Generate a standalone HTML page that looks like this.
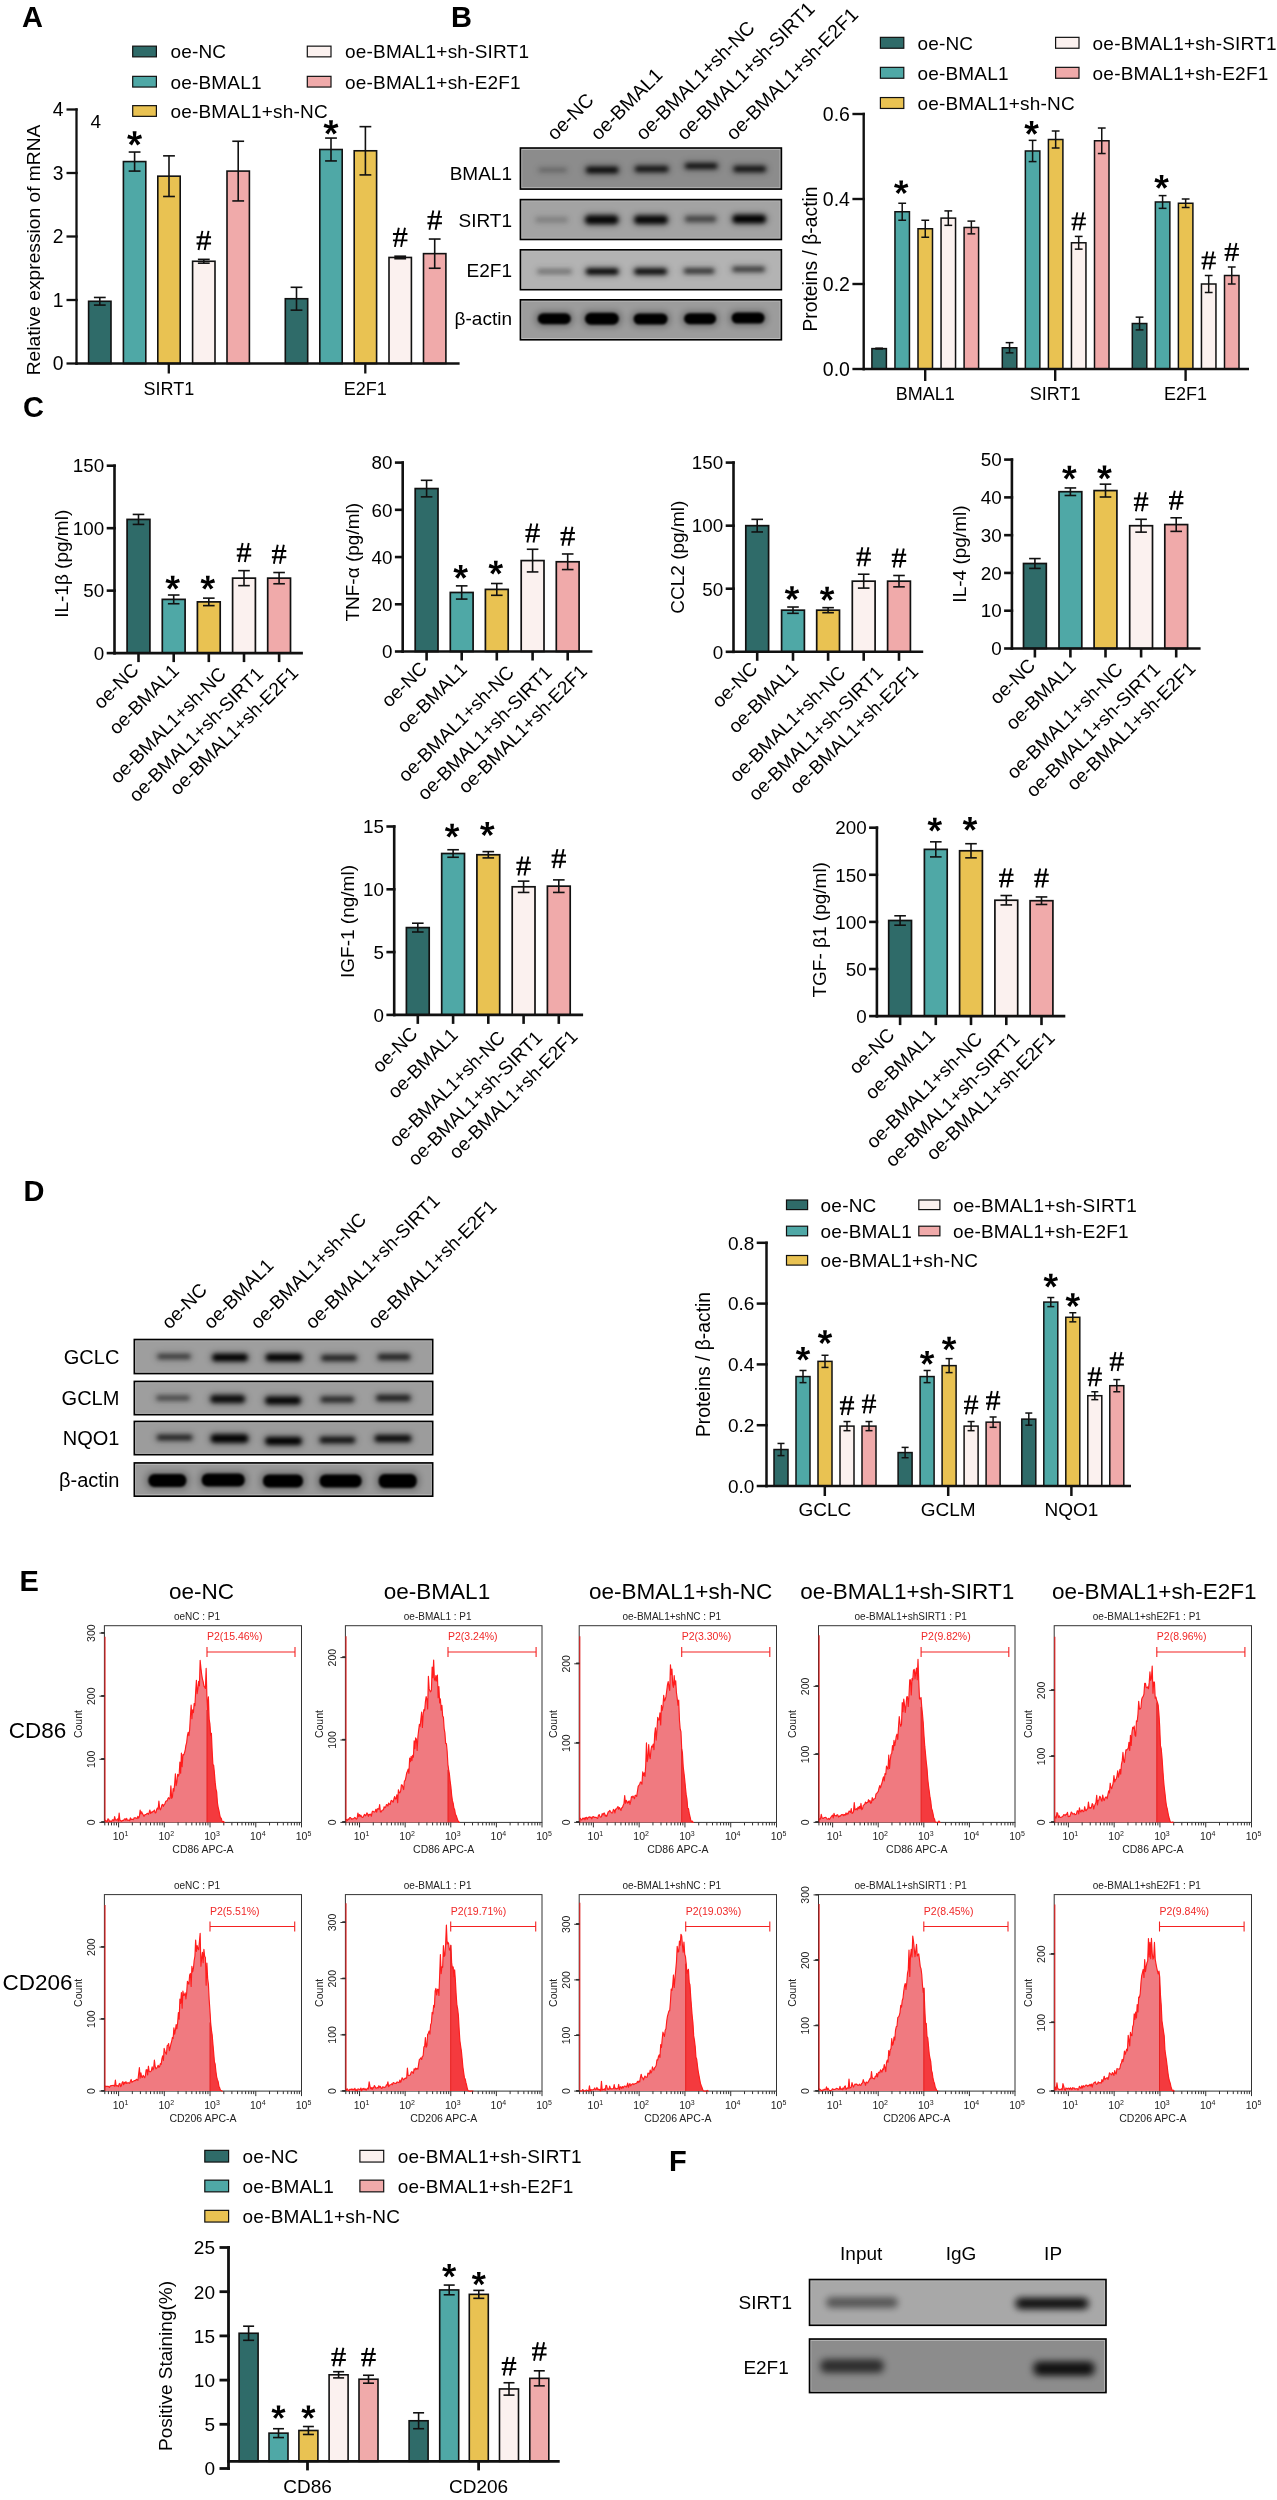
<!DOCTYPE html>
<html><head><meta charset="utf-8"><title>Figure</title>
<style>
html,body{margin:0;padding:0;background:#fff;}
svg{display:block;will-change:transform;}
svg text{font-family:"Liberation Sans", sans-serif;}
</style></head><body>
<svg width="1277" height="2500" viewBox="0 0 1277 2500">
<defs>
<filter id="b1" x="-30%" y="-80%" width="160%" height="260%"><feGaussianBlur stdDeviation="1.2"/></filter>
<filter id="b2" x="-30%" y="-80%" width="160%" height="260%"><feGaussianBlur stdDeviation="2"/></filter>
<filter id="b3" x="-30%" y="-80%" width="160%" height="260%"><feGaussianBlur stdDeviation="3"/></filter>
</defs>
<rect x="0" y="0" width="1277" height="2500" fill="#fff"/>
<text x="22" y="27" font-size="29" font-weight="bold">A</text>
<rect x="132.7" y="46.15" width="23.7" height="10.7" fill="#2f6b69" stroke="#111" stroke-width="1.2"/>
<text x="170.4" y="58.34" font-size="19" letter-spacing="0.2">oe-NC</text>
<rect x="132.7" y="76.35" width="23.7" height="10.7" fill="#4fa8a6" stroke="#111" stroke-width="1.2"/>
<text x="170.4" y="88.54" font-size="19" letter-spacing="0.2">oe-BMAL1</text>
<rect x="132.7" y="105.65" width="23.7" height="10.7" fill="#e9c252" stroke="#111" stroke-width="1.2"/>
<text x="170.4" y="117.84" font-size="19" letter-spacing="0.2">oe-BMAL1+sh-NC</text>
<rect x="307.3" y="46.15" width="23.7" height="10.7" fill="#fbf1ef" stroke="#111" stroke-width="1.2"/>
<text x="345" y="58.34" font-size="19" letter-spacing="0.2">oe-BMAL1+sh-SIRT1</text>
<rect x="307.3" y="76.35" width="23.7" height="10.7" fill="#f0aaaa" stroke="#111" stroke-width="1.2"/>
<text x="345" y="88.54" font-size="19" letter-spacing="0.2">oe-BMAL1+sh-E2F1</text>
<text x="90.5" y="127.5" font-size="19">4</text>
<rect x="88.6" y="301.27" width="22.4" height="62.23" fill="#2f6b69" stroke="#111" stroke-width="1.6"/>
<line x1="99.8" y1="297.46" x2="99.8" y2="305.08" stroke="#111" stroke-width="1.6"/>
<line x1="93.9" y1="297.46" x2="105.7" y2="297.46" stroke="#111" stroke-width="1.6"/>
<line x1="93.9" y1="305.08" x2="105.7" y2="305.08" stroke="#111" stroke-width="1.6"/>
<rect x="123.4" y="161.57" width="22.4" height="201.93" fill="#4fa8a6" stroke="#111" stroke-width="1.6"/>
<line x1="134.6" y1="152.04" x2="134.6" y2="171.09" stroke="#111" stroke-width="1.6"/>
<line x1="128.7" y1="152.04" x2="140.5" y2="152.04" stroke="#111" stroke-width="1.6"/>
<line x1="128.7" y1="171.09" x2="140.5" y2="171.09" stroke="#111" stroke-width="1.6"/>
<path d="M135.82 138.54L136.54 131.34L132.66 131.34L133.38 138.54ZM134.98 139.71L142.05 138.17L140.85 134.47L134.22 137.38ZM133.61 139.26L137.26 145.51L140.4 143.23L135.59 137.83ZM133.61 137.83L128.8 143.23L131.94 145.51L135.59 139.26ZM134.98 137.38L128.35 134.47L127.15 138.17L134.22 139.71Z" fill="#000"/>
<circle cx="134.6" cy="138.54" r="1.73" fill="#000"/>
<rect x="157.8" y="176.17" width="22.4" height="187.33" fill="#e9c252" stroke="#111" stroke-width="1.6"/>
<line x1="169" y1="155.85" x2="169" y2="196.49" stroke="#111" stroke-width="1.6"/>
<line x1="163.1" y1="155.85" x2="174.9" y2="155.85" stroke="#111" stroke-width="1.6"/>
<line x1="163.1" y1="196.49" x2="174.9" y2="196.49" stroke="#111" stroke-width="1.6"/>
<rect x="192.6" y="261.26" width="22.4" height="102.24" fill="#fbf1ef" stroke="#111" stroke-width="1.6"/>
<line x1="203.8" y1="259.36" x2="203.8" y2="263.17" stroke="#111" stroke-width="1.6"/>
<line x1="197.9" y1="259.36" x2="209.7" y2="259.36" stroke="#111" stroke-width="1.6"/>
<line x1="197.9" y1="263.17" x2="209.7" y2="263.17" stroke="#111" stroke-width="1.6"/>
<path d="M202.42 230.86L198.51 250.06M208.58 230.86L204.67 250.06M196.55 237.2L211.05 237.2M196.55 243.53L211.05 243.53" stroke="#000" stroke-width="1.9" fill="none"/>
<rect x="227" y="171.09" width="22.4" height="192.41" fill="#f0aaaa" stroke="#111" stroke-width="1.6"/>
<line x1="238.2" y1="141.25" x2="238.2" y2="200.94" stroke="#111" stroke-width="1.6"/>
<line x1="232.3" y1="141.25" x2="244.1" y2="141.25" stroke="#111" stroke-width="1.6"/>
<line x1="232.3" y1="200.94" x2="244.1" y2="200.94" stroke="#111" stroke-width="1.6"/>
<rect x="285.3" y="298.73" width="22.4" height="64.77" fill="#2f6b69" stroke="#111" stroke-width="1.6"/>
<line x1="296.5" y1="287.3" x2="296.5" y2="310.16" stroke="#111" stroke-width="1.6"/>
<line x1="290.6" y1="287.3" x2="302.4" y2="287.3" stroke="#111" stroke-width="1.6"/>
<line x1="290.6" y1="310.16" x2="302.4" y2="310.16" stroke="#111" stroke-width="1.6"/>
<rect x="319.8" y="149.5" width="22.4" height="214" fill="#4fa8a6" stroke="#111" stroke-width="1.6"/>
<line x1="331" y1="138.07" x2="331" y2="160.94" stroke="#111" stroke-width="1.6"/>
<line x1="325.1" y1="138.07" x2="336.9" y2="138.07" stroke="#111" stroke-width="1.6"/>
<line x1="325.1" y1="160.94" x2="336.9" y2="160.94" stroke="#111" stroke-width="1.6"/>
<path d="M332.22 127.47L332.94 120.27L329.06 120.27L329.78 127.47ZM331.38 128.64L338.45 127.1L337.25 123.4L330.62 126.31ZM330.01 128.19L333.66 134.44L336.8 132.16L331.99 126.76ZM330.01 126.76L325.2 132.16L328.34 134.44L331.99 128.19ZM331.38 126.31L324.75 123.4L323.55 127.1L330.62 128.64Z" fill="#000"/>
<circle cx="331" cy="127.47" r="1.73" fill="#000"/>
<rect x="354.2" y="150.78" width="22.4" height="212.72" fill="#e9c252" stroke="#111" stroke-width="1.6"/>
<line x1="365.4" y1="126.65" x2="365.4" y2="174.91" stroke="#111" stroke-width="1.6"/>
<line x1="359.5" y1="126.65" x2="371.3" y2="126.65" stroke="#111" stroke-width="1.6"/>
<line x1="359.5" y1="174.91" x2="371.3" y2="174.91" stroke="#111" stroke-width="1.6"/>
<rect x="389" y="257.45" width="22.4" height="106.05" fill="#fbf1ef" stroke="#111" stroke-width="1.6"/>
<line x1="400.2" y1="256.19" x2="400.2" y2="258.73" stroke="#111" stroke-width="1.6"/>
<line x1="394.3" y1="256.19" x2="406.1" y2="256.19" stroke="#111" stroke-width="1.6"/>
<line x1="394.3" y1="258.73" x2="406.1" y2="258.73" stroke="#111" stroke-width="1.6"/>
<path d="M398.82 227.69L394.91 246.88M404.99 227.69L401.07 246.88M392.95 234.02L407.45 234.02M392.95 240.36L407.45 240.36" stroke="#000" stroke-width="1.9" fill="none"/>
<rect x="423.5" y="253.64" width="22.4" height="109.86" fill="#f0aaaa" stroke="#111" stroke-width="1.6"/>
<line x1="434.7" y1="239.04" x2="434.7" y2="268.25" stroke="#111" stroke-width="1.6"/>
<line x1="428.8" y1="239.04" x2="440.6" y2="239.04" stroke="#111" stroke-width="1.6"/>
<line x1="428.8" y1="268.25" x2="440.6" y2="268.25" stroke="#111" stroke-width="1.6"/>
<path d="M433.32 210.54L429.41 229.74M439.49 210.54L435.57 229.74M427.45 216.88L441.95 216.88M427.45 223.21L441.95 223.21" stroke="#000" stroke-width="1.9" fill="none"/>
<line x1="76.5" y1="108.35" x2="76.5" y2="364.65" stroke="#111" stroke-width="2.3"/>
<line x1="66.5" y1="363.5" x2="77.65" y2="363.5" stroke="#111" stroke-width="2.3"/>
<text x="63.5" y="370.45" font-size="19.3" text-anchor="end">0</text>
<line x1="66.5" y1="300" x2="77.65" y2="300" stroke="#111" stroke-width="2.3"/>
<text x="63.5" y="306.95" font-size="19.3" text-anchor="end">1</text>
<line x1="66.5" y1="236.5" x2="77.65" y2="236.5" stroke="#111" stroke-width="2.3"/>
<text x="63.5" y="243.45" font-size="19.3" text-anchor="end">2</text>
<line x1="66.5" y1="173" x2="77.65" y2="173" stroke="#111" stroke-width="2.3"/>
<text x="63.5" y="179.95" font-size="19.3" text-anchor="end">3</text>
<line x1="66.5" y1="109.5" x2="77.65" y2="109.5" stroke="#111" stroke-width="2.3"/>
<text x="63.5" y="116.45" font-size="19.3" text-anchor="end">4</text>
<line x1="75.35" y1="363.5" x2="459.6" y2="363.5" stroke="#111" stroke-width="2.3"/>
<line x1="168.8" y1="363.5" x2="168.8" y2="373.5" stroke="#111" stroke-width="2.3"/>
<line x1="365.3" y1="363.5" x2="365.3" y2="373.5" stroke="#111" stroke-width="2.3"/>
<text x="168.8" y="394.6" font-size="18" text-anchor="middle">SIRT1</text>
<text x="365.3" y="394.6" font-size="18" text-anchor="middle">E2F1</text>
<text x="40" y="250" font-size="19.2" transform="rotate(-90 40 250)" text-anchor="middle">Relative expression of mRNA</text>
<text x="451" y="26.6" font-size="29" font-weight="bold">B</text>
<text x="555" y="141.2" font-size="19.5" transform="rotate(-45 555 141.2)">oe-NC</text>
<text x="598.6" y="141.2" font-size="19.5" transform="rotate(-45 598.6 141.2)">oe-BMAL1</text>
<text x="643.8" y="141.2" font-size="19.5" transform="rotate(-45 643.8 141.2)">oe-BMAL1+sh-NC</text>
<text x="684.7" y="141.2" font-size="19.5" transform="rotate(-45 684.7 141.2)">oe-BMAL1+sh-SIRT1</text>
<text x="734" y="141.2" font-size="19.5" transform="rotate(-45 734 141.2)">oe-BMAL1+sh-E2F1</text>
<text x="512" y="179.85" font-size="19" text-anchor="end">BMAL1</text>
<clipPath id="cl1"><rect x="520.4" y="148" width="261" height="41.1"/></clipPath>
<g clip-path="url(#cl1)">
<rect x="520.4" y="148" width="261" height="41.1" fill="#8c8c8c"/>
<rect x="535.7" y="165.6" width="34" height="9" rx="4.5" fill="#000" opacity="0.06" filter="url(#b3)"/>
<rect x="583.2" y="164.6" width="38" height="11" rx="5.5" fill="#000" opacity="0.25" filter="url(#b3)"/>
<rect x="632.2" y="163.75" width="39" height="10.5" rx="5.25" fill="#000" opacity="0.24" filter="url(#b3)"/>
<rect x="682.2" y="161" width="38" height="10" rx="5" fill="#000" opacity="0.25" filter="url(#b3)"/>
<rect x="730.7" y="163.75" width="38" height="10.5" rx="5.25" fill="#000" opacity="0.24" filter="url(#b3)"/>
<rect x="538.7" y="168.1" width="28" height="4" rx="2" fill="#000" opacity="0.22" filter="url(#b2)"/>
<rect x="586.2" y="167.1" width="32" height="6" rx="3" fill="#000" opacity="0.9" filter="url(#b2)"/>
<rect x="635.2" y="166.25" width="33" height="5.5" rx="2.75" fill="#000" opacity="0.85" filter="url(#b2)"/>
<rect x="685.2" y="163.5" width="32" height="5" rx="2.5" fill="#000" opacity="0.9" filter="url(#b2)"/>
<rect x="733.7" y="166.25" width="32" height="5.5" rx="2.75" fill="#000" opacity="0.85" filter="url(#b2)"/>
</g>
<rect x="521.7" y="149.3" width="258.4" height="38.5" fill="none" stroke="#bdbdbd" stroke-width="0.9"/>
<rect x="520.4" y="148" width="261" height="41.1" fill="none" stroke="#000" stroke-width="1.6"/>
<text x="512" y="226.85" font-size="19" text-anchor="end">SIRT1</text>
<clipPath id="cl2"><rect x="520.4" y="199.6" width="261" height="39.9"/></clipPath>
<g clip-path="url(#cl2)">
<rect x="520.4" y="199.6" width="261" height="39.9" fill="#a3a3a3"/>
<rect x="532.6" y="214.7" width="38" height="10" rx="5" fill="#000" opacity="0.05" filter="url(#b3)"/>
<rect x="582.2" y="212.95" width="39" height="13.5" rx="6.75" fill="#000" opacity="0.27" filter="url(#b3)"/>
<rect x="631.5" y="213.2" width="39" height="13" rx="6.5" fill="#000" opacity="0.27" filter="url(#b3)"/>
<rect x="682.1" y="213.5" width="37" height="11" rx="5.5" fill="#000" opacity="0.14" filter="url(#b3)"/>
<rect x="729.7" y="212.5" width="39" height="13" rx="6.5" fill="#000" opacity="0.28" filter="url(#b3)"/>
<rect x="535.6" y="217.2" width="32" height="5" rx="2.5" fill="#000" opacity="0.17" filter="url(#b2)"/>
<rect x="585.2" y="215.45" width="33" height="8.5" rx="4.25" fill="#000" opacity="0.95" filter="url(#b2)"/>
<rect x="634.5" y="215.7" width="33" height="8" rx="4" fill="#000" opacity="0.95" filter="url(#b2)"/>
<rect x="685.1" y="216" width="31" height="6" rx="3" fill="#000" opacity="0.5" filter="url(#b2)"/>
<rect x="732.7" y="215" width="33" height="8" rx="4" fill="#000" opacity="1" filter="url(#b2)"/>
</g>
<rect x="521.7" y="200.9" width="258.4" height="37.3" fill="none" stroke="#bdbdbd" stroke-width="0.9"/>
<rect x="520.4" y="199.6" width="261" height="39.9" fill="none" stroke="#000" stroke-width="1.6"/>
<text x="512" y="276.55" font-size="19" text-anchor="end">E2F1</text>
<clipPath id="cl3"><rect x="520.4" y="249.8" width="261" height="39.9"/></clipPath>
<g clip-path="url(#cl3)">
<rect x="520.4" y="249.8" width="261" height="39.9" fill="#b3b3b3"/>
<rect x="534.5" y="266.9" width="40" height="9" rx="4.5" fill="#000" opacity="0.09" filter="url(#b3)"/>
<rect x="583.2" y="266.15" width="38" height="10.5" rx="5.25" fill="#000" opacity="0.28" filter="url(#b3)"/>
<rect x="631.6" y="266.15" width="38" height="10.5" rx="5.25" fill="#000" opacity="0.27" filter="url(#b3)"/>
<rect x="681.1" y="266.25" width="36" height="9.5" rx="4.75" fill="#000" opacity="0.2" filter="url(#b3)"/>
<rect x="729.6" y="264.45" width="38" height="9.5" rx="4.75" fill="#000" opacity="0.18" filter="url(#b3)"/>
<rect x="537.5" y="269.4" width="34" height="4" rx="2" fill="#000" opacity="0.32" filter="url(#b2)"/>
<rect x="586.2" y="268.65" width="32" height="5.5" rx="2.75" fill="#000" opacity="1" filter="url(#b2)"/>
<rect x="634.6" y="268.65" width="32" height="5.5" rx="2.75" fill="#000" opacity="0.95" filter="url(#b2)"/>
<rect x="684.1" y="268.75" width="30" height="4.5" rx="2.25" fill="#000" opacity="0.7" filter="url(#b2)"/>
<rect x="732.6" y="266.95" width="32" height="4.5" rx="2.25" fill="#000" opacity="0.65" filter="url(#b2)"/>
</g>
<rect x="521.7" y="251.1" width="258.4" height="37.3" fill="none" stroke="#bdbdbd" stroke-width="0.9"/>
<rect x="520.4" y="249.8" width="261" height="39.9" fill="none" stroke="#000" stroke-width="1.6"/>
<text x="512" y="325.1" font-size="19" text-anchor="end">β-actin</text>
<clipPath id="cl4"><rect x="520.4" y="299.8" width="261" height="40"/></clipPath>
<g clip-path="url(#cl4)">
<rect x="520.4" y="299.8" width="261" height="40" fill="#9c9c9c"/>
<rect x="534.8" y="310.7" width="39" height="16" rx="7" fill="#000" opacity="0.28" filter="url(#b3)"/>
<rect x="581.9" y="310.2" width="40" height="17" rx="7" fill="#000" opacity="0.28" filter="url(#b3)"/>
<rect x="630.6" y="311" width="40" height="16" rx="7" fill="#000" opacity="0.28" filter="url(#b3)"/>
<rect x="681.1" y="310.7" width="38" height="16" rx="7" fill="#000" opacity="0.28" filter="url(#b3)"/>
<rect x="728.6" y="310" width="39" height="16" rx="7" fill="#000" opacity="0.28" filter="url(#b3)"/>
<rect x="537.8" y="313.2" width="33" height="11" rx="5.5" fill="#000" opacity="1" filter="url(#b1)"/>
<rect x="584.9" y="312.7" width="34" height="12" rx="6" fill="#000" opacity="1" filter="url(#b1)"/>
<rect x="633.6" y="313.5" width="34" height="11" rx="5.5" fill="#000" opacity="1" filter="url(#b1)"/>
<rect x="684.1" y="313.2" width="32" height="11" rx="5.5" fill="#000" opacity="1" filter="url(#b1)"/>
<rect x="731.6" y="312.5" width="33" height="11" rx="5.5" fill="#000" opacity="1" filter="url(#b1)"/>
</g>
<rect x="521.7" y="301.1" width="258.4" height="37.4" fill="none" stroke="#bdbdbd" stroke-width="0.9"/>
<rect x="520.4" y="299.8" width="261" height="40" fill="none" stroke="#000" stroke-width="1.6"/>
<rect x="880.4" y="37.35" width="23.4" height="10.9" fill="#2f6b69" stroke="#111" stroke-width="1.2"/>
<text x="917.4" y="49.64" font-size="19" letter-spacing="0.2">oe-NC</text>
<rect x="880.4" y="67.35" width="23.4" height="10.9" fill="#4fa8a6" stroke="#111" stroke-width="1.2"/>
<text x="917.4" y="79.64" font-size="19" letter-spacing="0.2">oe-BMAL1</text>
<rect x="880.4" y="97.55" width="23.4" height="10.9" fill="#e9c252" stroke="#111" stroke-width="1.2"/>
<text x="917.4" y="109.84" font-size="19" letter-spacing="0.2">oe-BMAL1+sh-NC</text>
<rect x="1055.6" y="37.35" width="23.4" height="10.9" fill="#fbf1ef" stroke="#111" stroke-width="1.2"/>
<text x="1092.6" y="49.64" font-size="19" letter-spacing="0.2">oe-BMAL1+sh-SIRT1</text>
<rect x="1055.6" y="67.35" width="23.4" height="10.9" fill="#f0aaaa" stroke="#111" stroke-width="1.2"/>
<text x="1092.6" y="79.64" font-size="19" letter-spacing="0.2">oe-BMAL1+sh-E2F1</text>
<rect x="871.9" y="348.6" width="14.5" height="20.4" fill="#2f6b69" stroke="#111" stroke-width="1.5"/>
<line x1="879.15" y1="348.18" x2="879.15" y2="349.02" stroke="#111" stroke-width="1.5"/>
<line x1="875.25" y1="348.18" x2="883.05" y2="348.18" stroke="#111" stroke-width="1.5"/>
<line x1="875.25" y1="349.02" x2="883.05" y2="349.02" stroke="#111" stroke-width="1.5"/>
<rect x="894.95" y="211.75" width="14.5" height="157.25" fill="#4fa8a6" stroke="#111" stroke-width="1.5"/>
<line x1="902.2" y1="203.25" x2="902.2" y2="220.25" stroke="#111" stroke-width="1.5"/>
<line x1="898.3" y1="203.25" x2="906.1" y2="203.25" stroke="#111" stroke-width="1.5"/>
<line x1="898.3" y1="220.25" x2="906.1" y2="220.25" stroke="#111" stroke-width="1.5"/>
<path d="M902.38 187.35L903.08 180.4L899.32 180.4L900.02 187.35ZM901.57 188.47L908.39 186.99L907.23 183.42L900.83 186.23ZM900.24 188.04L903.77 194.08L906.8 191.87L902.16 186.66ZM900.24 186.66L895.6 191.87L898.63 194.08L902.16 188.04ZM901.57 186.23L895.17 183.42L894.01 186.99L900.83 188.47Z" fill="#000"/>
<circle cx="901.2" cy="187.35" r="1.67" fill="#000"/>
<rect x="918" y="228.75" width="14.5" height="140.25" fill="#e9c252" stroke="#111" stroke-width="1.5"/>
<line x1="925.25" y1="220.25" x2="925.25" y2="237.25" stroke="#111" stroke-width="1.5"/>
<line x1="921.35" y1="220.25" x2="929.15" y2="220.25" stroke="#111" stroke-width="1.5"/>
<line x1="921.35" y1="237.25" x2="929.15" y2="237.25" stroke="#111" stroke-width="1.5"/>
<rect x="941.05" y="218.12" width="14.5" height="150.88" fill="#fbf1ef" stroke="#111" stroke-width="1.5"/>
<line x1="948.3" y1="210.9" x2="948.3" y2="225.35" stroke="#111" stroke-width="1.5"/>
<line x1="944.4" y1="210.9" x2="952.2" y2="210.9" stroke="#111" stroke-width="1.5"/>
<line x1="944.4" y1="225.35" x2="952.2" y2="225.35" stroke="#111" stroke-width="1.5"/>
<rect x="964.1" y="227.47" width="14.5" height="141.53" fill="#f0aaaa" stroke="#111" stroke-width="1.5"/>
<line x1="971.35" y1="221.1" x2="971.35" y2="233.85" stroke="#111" stroke-width="1.5"/>
<line x1="967.45" y1="221.1" x2="975.25" y2="221.1" stroke="#111" stroke-width="1.5"/>
<line x1="967.45" y1="233.85" x2="975.25" y2="233.85" stroke="#111" stroke-width="1.5"/>
<rect x="1002.3" y="347.75" width="14.5" height="21.25" fill="#2f6b69" stroke="#111" stroke-width="1.5"/>
<line x1="1009.55" y1="342.65" x2="1009.55" y2="352.85" stroke="#111" stroke-width="1.5"/>
<line x1="1005.65" y1="342.65" x2="1013.45" y2="342.65" stroke="#111" stroke-width="1.5"/>
<line x1="1005.65" y1="352.85" x2="1013.45" y2="352.85" stroke="#111" stroke-width="1.5"/>
<rect x="1025.35" y="150.97" width="14.5" height="218.03" fill="#4fa8a6" stroke="#111" stroke-width="1.5"/>
<line x1="1032.6" y1="140.35" x2="1032.6" y2="161.6" stroke="#111" stroke-width="1.5"/>
<line x1="1028.7" y1="140.35" x2="1036.5" y2="140.35" stroke="#111" stroke-width="1.5"/>
<line x1="1028.7" y1="161.6" x2="1036.5" y2="161.6" stroke="#111" stroke-width="1.5"/>
<path d="M1032.78 128.05L1033.48 121.1L1029.72 121.1L1030.42 128.05ZM1031.97 129.17L1038.79 127.69L1037.63 124.12L1031.23 126.93ZM1030.64 128.74L1034.17 134.78L1037.2 132.57L1032.56 127.36ZM1030.64 127.36L1026 132.57L1029.03 134.78L1032.56 128.74ZM1031.97 126.93L1025.57 124.12L1024.41 127.69L1031.23 129.17Z" fill="#000"/>
<circle cx="1031.6" cy="128.05" r="1.67" fill="#000"/>
<rect x="1048.4" y="139.5" width="14.5" height="229.5" fill="#e9c252" stroke="#111" stroke-width="1.5"/>
<line x1="1055.65" y1="131" x2="1055.65" y2="148" stroke="#111" stroke-width="1.5"/>
<line x1="1051.75" y1="131" x2="1059.55" y2="131" stroke="#111" stroke-width="1.5"/>
<line x1="1051.75" y1="148" x2="1059.55" y2="148" stroke="#111" stroke-width="1.5"/>
<rect x="1071.45" y="242.78" width="14.5" height="126.22" fill="#fbf1ef" stroke="#111" stroke-width="1.5"/>
<line x1="1078.7" y1="236.4" x2="1078.7" y2="249.15" stroke="#111" stroke-width="1.5"/>
<line x1="1074.8" y1="236.4" x2="1082.6" y2="236.4" stroke="#111" stroke-width="1.5"/>
<line x1="1074.8" y1="249.15" x2="1082.6" y2="249.15" stroke="#111" stroke-width="1.5"/>
<path d="M1077.34 212.4L1073.48 230.4M1083.42 212.4L1079.56 230.4M1071.55 218.34L1085.85 218.34M1071.55 224.28L1085.85 224.28" stroke="#000" stroke-width="1.8" fill="none"/>
<rect x="1094.5" y="140.77" width="14.5" height="228.23" fill="#f0aaaa" stroke="#111" stroke-width="1.5"/>
<line x1="1101.75" y1="128.02" x2="1101.75" y2="153.53" stroke="#111" stroke-width="1.5"/>
<line x1="1097.85" y1="128.02" x2="1105.65" y2="128.02" stroke="#111" stroke-width="1.5"/>
<line x1="1097.85" y1="153.53" x2="1105.65" y2="153.53" stroke="#111" stroke-width="1.5"/>
<rect x="1132.3" y="323.52" width="14.5" height="45.48" fill="#2f6b69" stroke="#111" stroke-width="1.5"/>
<line x1="1139.55" y1="317.15" x2="1139.55" y2="329.9" stroke="#111" stroke-width="1.5"/>
<line x1="1135.65" y1="317.15" x2="1143.45" y2="317.15" stroke="#111" stroke-width="1.5"/>
<line x1="1135.65" y1="329.9" x2="1143.45" y2="329.9" stroke="#111" stroke-width="1.5"/>
<rect x="1155.35" y="201.97" width="14.5" height="167.03" fill="#4fa8a6" stroke="#111" stroke-width="1.5"/>
<line x1="1162.6" y1="195.6" x2="1162.6" y2="208.35" stroke="#111" stroke-width="1.5"/>
<line x1="1158.7" y1="195.6" x2="1166.5" y2="195.6" stroke="#111" stroke-width="1.5"/>
<line x1="1158.7" y1="208.35" x2="1166.5" y2="208.35" stroke="#111" stroke-width="1.5"/>
<path d="M1162.78 182L1163.48 175.05L1159.72 175.05L1160.42 182ZM1161.97 183.12L1168.79 181.64L1167.63 178.07L1161.23 180.88ZM1160.64 182.69L1164.17 188.73L1167.2 186.52L1162.56 181.31ZM1160.64 181.31L1156 186.52L1159.03 188.73L1162.56 182.69ZM1161.97 180.88L1155.57 178.07L1154.41 181.64L1161.23 183.12Z" fill="#000"/>
<circle cx="1161.6" cy="182" r="1.67" fill="#000"/>
<rect x="1178.4" y="203.25" width="14.5" height="165.75" fill="#e9c252" stroke="#111" stroke-width="1.5"/>
<line x1="1185.65" y1="199" x2="1185.65" y2="207.5" stroke="#111" stroke-width="1.5"/>
<line x1="1181.75" y1="199" x2="1189.55" y2="199" stroke="#111" stroke-width="1.5"/>
<line x1="1181.75" y1="207.5" x2="1189.55" y2="207.5" stroke="#111" stroke-width="1.5"/>
<rect x="1201.45" y="284" width="14.5" height="85" fill="#fbf1ef" stroke="#111" stroke-width="1.5"/>
<line x1="1208.7" y1="275.5" x2="1208.7" y2="292.5" stroke="#111" stroke-width="1.5"/>
<line x1="1204.8" y1="275.5" x2="1212.6" y2="275.5" stroke="#111" stroke-width="1.5"/>
<line x1="1204.8" y1="292.5" x2="1212.6" y2="292.5" stroke="#111" stroke-width="1.5"/>
<path d="M1207.34 251.5L1203.48 269.5M1213.42 251.5L1209.56 269.5M1201.55 257.44L1215.85 257.44M1201.55 263.38L1215.85 263.38" stroke="#000" stroke-width="1.8" fill="none"/>
<rect x="1224.5" y="275.5" width="14.5" height="93.5" fill="#f0aaaa" stroke="#111" stroke-width="1.5"/>
<line x1="1231.75" y1="267" x2="1231.75" y2="284" stroke="#111" stroke-width="1.5"/>
<line x1="1227.85" y1="267" x2="1235.65" y2="267" stroke="#111" stroke-width="1.5"/>
<line x1="1227.85" y1="284" x2="1235.65" y2="284" stroke="#111" stroke-width="1.5"/>
<path d="M1230.39 243L1226.53 261M1236.47 243L1232.61 261M1224.6 248.94L1238.9 248.94M1224.6 254.88L1238.9 254.88" stroke="#000" stroke-width="1.8" fill="none"/>
<line x1="863.7" y1="112.8" x2="863.7" y2="370.2" stroke="#111" stroke-width="2.4"/>
<line x1="852.4" y1="369" x2="864.9" y2="369" stroke="#111" stroke-width="2.4"/>
<text x="849.9" y="376.02" font-size="19.5" text-anchor="end">0.0</text>
<line x1="852.4" y1="284" x2="864.9" y2="284" stroke="#111" stroke-width="2.4"/>
<text x="849.9" y="291.02" font-size="19.5" text-anchor="end">0.2</text>
<line x1="852.4" y1="199" x2="864.9" y2="199" stroke="#111" stroke-width="2.4"/>
<text x="849.9" y="206.02" font-size="19.5" text-anchor="end">0.4</text>
<line x1="852.4" y1="114" x2="864.9" y2="114" stroke="#111" stroke-width="2.4"/>
<text x="849.9" y="121.02" font-size="19.5" text-anchor="end">0.6</text>
<line x1="862.5" y1="369" x2="1249" y2="369" stroke="#111" stroke-width="2.4"/>
<line x1="925.2" y1="369" x2="925.2" y2="381" stroke="#111" stroke-width="2.4"/>
<line x1="1055.2" y1="369" x2="1055.2" y2="381" stroke="#111" stroke-width="2.4"/>
<line x1="1185.6" y1="369" x2="1185.6" y2="381" stroke="#111" stroke-width="2.4"/>
<text x="925.2" y="400" font-size="18" text-anchor="middle">BMAL1</text>
<text x="1055.2" y="400" font-size="18" text-anchor="middle">SIRT1</text>
<text x="1185.6" y="400" font-size="18" text-anchor="middle">E2F1</text>
<text x="817" y="259" font-size="19.3" transform="rotate(-90 817 259)" text-anchor="middle">Proteins / β-actin</text>
<text x="23" y="417" font-size="29" font-weight="bold">C</text>
<rect x="127.1" y="519.42" width="22.8" height="133.68" fill="#2f6b69" stroke="#111" stroke-width="1.7"/>
<line x1="138.5" y1="514.42" x2="138.5" y2="524.42" stroke="#111" stroke-width="1.6"/>
<line x1="132.7" y1="514.42" x2="144.3" y2="514.42" stroke="#111" stroke-width="1.6"/>
<line x1="132.7" y1="524.42" x2="144.3" y2="524.42" stroke="#111" stroke-width="1.6"/>
<rect x="162.3" y="599.38" width="22.8" height="53.72" fill="#4fa8a6" stroke="#111" stroke-width="1.7"/>
<line x1="173.7" y1="595.01" x2="173.7" y2="603.75" stroke="#111" stroke-width="1.6"/>
<line x1="167.9" y1="595.01" x2="179.5" y2="595.01" stroke="#111" stroke-width="1.6"/>
<line x1="167.9" y1="603.75" x2="179.5" y2="603.75" stroke="#111" stroke-width="1.6"/>
<path d="M173.89 582.71L174.59 575.71L170.81 575.71L171.51 582.71ZM173.07 583.84L179.94 582.34L178.77 578.75L172.33 581.57ZM171.74 583.41L175.29 589.48L178.34 587.26L173.66 582.01ZM171.74 582.01L167.06 587.26L170.11 589.48L173.66 583.41ZM173.07 581.57L166.63 578.75L165.46 582.34L172.33 583.84Z" fill="#000"/>
<circle cx="172.7" cy="582.71" r="1.68" fill="#000"/>
<rect x="197.4" y="601.88" width="22.8" height="51.22" fill="#e9c252" stroke="#111" stroke-width="1.7"/>
<line x1="208.8" y1="598.13" x2="208.8" y2="605.63" stroke="#111" stroke-width="1.6"/>
<line x1="203" y1="598.13" x2="214.6" y2="598.13" stroke="#111" stroke-width="1.6"/>
<line x1="203" y1="605.63" x2="214.6" y2="605.63" stroke="#111" stroke-width="1.6"/>
<path d="M208.99 582.83L209.69 575.83L205.91 575.83L206.61 582.83ZM208.17 583.96L215.04 582.46L213.87 578.87L207.43 581.7ZM206.84 583.53L210.39 589.6L213.44 587.38L208.76 582.13ZM206.84 582.13L202.16 587.38L205.21 589.6L208.76 583.53ZM208.17 581.7L201.73 578.87L200.56 582.46L207.43 583.96Z" fill="#000"/>
<circle cx="207.8" cy="582.83" r="1.68" fill="#000"/>
<rect x="232.6" y="578.14" width="22.8" height="74.96" fill="#fbf1ef" stroke="#111" stroke-width="1.7"/>
<line x1="244" y1="570.64" x2="244" y2="585.64" stroke="#111" stroke-width="1.6"/>
<line x1="238.2" y1="570.64" x2="249.8" y2="570.64" stroke="#111" stroke-width="1.6"/>
<line x1="238.2" y1="585.64" x2="249.8" y2="585.64" stroke="#111" stroke-width="1.6"/>
<path d="M242.63 542.94L238.74 561.94M248.75 542.94L244.86 561.94M236.8 549.21L251.2 549.21M236.8 555.48L251.2 555.48" stroke="#000" stroke-width="1.9" fill="none"/>
<rect x="267.7" y="578.14" width="22.8" height="74.96" fill="#f0aaaa" stroke="#111" stroke-width="1.7"/>
<line x1="279.1" y1="572.52" x2="279.1" y2="583.76" stroke="#111" stroke-width="1.6"/>
<line x1="273.3" y1="572.52" x2="284.9" y2="572.52" stroke="#111" stroke-width="1.6"/>
<line x1="273.3" y1="583.76" x2="284.9" y2="583.76" stroke="#111" stroke-width="1.6"/>
<path d="M277.73 544.72L273.84 563.72M283.85 544.72L279.96 563.72M271.9 550.99L286.3 550.99M271.9 557.26L286.3 557.26" stroke="#000" stroke-width="1.9" fill="none"/>
<line x1="114.5" y1="464.4" x2="114.5" y2="654.4" stroke="#111" stroke-width="2.6"/>
<line x1="106.7" y1="653.1" x2="115.8" y2="653.1" stroke="#111" stroke-width="2.6"/>
<text x="104.2" y="659.87" font-size="18.8" text-anchor="end">0</text>
<line x1="106.7" y1="590.63" x2="115.8" y2="590.63" stroke="#111" stroke-width="2.6"/>
<text x="104.2" y="597.4" font-size="18.8" text-anchor="end">50</text>
<line x1="106.7" y1="528.17" x2="115.8" y2="528.17" stroke="#111" stroke-width="2.6"/>
<text x="104.2" y="534.93" font-size="18.8" text-anchor="end">100</text>
<line x1="106.7" y1="465.7" x2="115.8" y2="465.7" stroke="#111" stroke-width="2.6"/>
<text x="104.2" y="472.47" font-size="18.8" text-anchor="end">150</text>
<line x1="113.2" y1="653.1" x2="302.9" y2="653.1" stroke="#111" stroke-width="2.6"/>
<line x1="138.5" y1="653.1" x2="138.5" y2="662.1" stroke="#111" stroke-width="2.6"/>
<line x1="173.7" y1="653.1" x2="173.7" y2="662.1" stroke="#111" stroke-width="2.6"/>
<line x1="208.8" y1="653.1" x2="208.8" y2="662.1" stroke="#111" stroke-width="2.6"/>
<line x1="244" y1="653.1" x2="244" y2="662.1" stroke="#111" stroke-width="2.6"/>
<line x1="279.1" y1="653.1" x2="279.1" y2="662.1" stroke="#111" stroke-width="2.6"/>
<text x="140" y="671.1" font-size="19" transform="rotate(-45 140 671.1)" text-anchor="end">oe-NC</text>
<text x="180.2" y="672.1" font-size="19" transform="rotate(-45 180.2 672.1)" text-anchor="end">oe-BMAL1</text>
<text x="227.3" y="675.1" font-size="19" transform="rotate(-45 227.3 675.1)" text-anchor="end">oe-BMAL1+sh-NC</text>
<text x="264.5" y="675.1" font-size="19" transform="rotate(-45 264.5 675.1)" text-anchor="end">oe-BMAL1+sh-SIRT1</text>
<text x="299.6" y="674.1" font-size="19" transform="rotate(-45 299.6 674.1)" text-anchor="end">oe-BMAL1+sh-E2F1</text>
<text x="68.5" y="563.8" font-size="19" transform="rotate(-90 68.5 563.8)" text-anchor="middle">IL-1β (pg/ml)</text>
<rect x="415.2" y="488.57" width="22.8" height="162.93" fill="#2f6b69" stroke="#111" stroke-width="1.7"/>
<line x1="426.6" y1="480.31" x2="426.6" y2="496.84" stroke="#111" stroke-width="1.6"/>
<line x1="420.8" y1="480.31" x2="432.4" y2="480.31" stroke="#111" stroke-width="1.6"/>
<line x1="420.8" y1="496.84" x2="432.4" y2="496.84" stroke="#111" stroke-width="1.6"/>
<rect x="450.3" y="592.47" width="22.8" height="59.03" fill="#4fa8a6" stroke="#111" stroke-width="1.7"/>
<line x1="461.7" y1="585.86" x2="461.7" y2="599.08" stroke="#111" stroke-width="1.6"/>
<line x1="455.9" y1="585.86" x2="467.5" y2="585.86" stroke="#111" stroke-width="1.6"/>
<line x1="455.9" y1="599.08" x2="467.5" y2="599.08" stroke="#111" stroke-width="1.6"/>
<path d="M461.89 572.06L462.59 565.06L458.81 565.06L459.51 572.06ZM461.07 573.19L467.94 571.69L466.77 568.1L460.33 570.93ZM459.74 572.76L463.29 578.83L466.34 576.61L461.66 571.36ZM459.74 571.36L455.06 576.61L458.11 578.83L461.66 572.76ZM461.07 570.93L454.63 568.1L453.46 571.69L460.33 573.19Z" fill="#000"/>
<circle cx="460.7" cy="572.06" r="1.68" fill="#000"/>
<rect x="485.4" y="589.4" width="22.8" height="62.1" fill="#e9c252" stroke="#111" stroke-width="1.7"/>
<line x1="496.8" y1="583.5" x2="496.8" y2="595.3" stroke="#111" stroke-width="1.6"/>
<line x1="491" y1="583.5" x2="502.6" y2="583.5" stroke="#111" stroke-width="1.6"/>
<line x1="491" y1="595.3" x2="502.6" y2="595.3" stroke="#111" stroke-width="1.6"/>
<path d="M496.99 567.8L497.69 560.8L493.91 560.8L494.61 567.8ZM496.17 568.93L503.04 567.43L501.87 563.84L495.43 566.66ZM494.84 568.5L498.39 574.57L501.44 572.35L496.76 567.1ZM494.84 567.1L490.16 572.35L493.21 574.57L496.76 568.5ZM496.17 566.66L489.73 563.84L488.56 567.43L495.43 568.93Z" fill="#000"/>
<circle cx="495.8" cy="567.8" r="1.68" fill="#000"/>
<rect x="521.2" y="560.59" width="22.8" height="90.91" fill="#fbf1ef" stroke="#111" stroke-width="1.7"/>
<line x1="532.6" y1="549.26" x2="532.6" y2="571.93" stroke="#111" stroke-width="1.6"/>
<line x1="526.8" y1="549.26" x2="538.4" y2="549.26" stroke="#111" stroke-width="1.6"/>
<line x1="526.8" y1="571.93" x2="538.4" y2="571.93" stroke="#111" stroke-width="1.6"/>
<path d="M531.23 523.56L527.34 542.56M537.35 523.56L533.46 542.56M525.4 529.83L539.8 529.83M525.4 536.1L539.8 536.1" stroke="#000" stroke-width="1.9" fill="none"/>
<rect x="556.3" y="561.77" width="22.8" height="89.73" fill="#f0aaaa" stroke="#111" stroke-width="1.7"/>
<line x1="567.7" y1="553.98" x2="567.7" y2="569.56" stroke="#111" stroke-width="1.6"/>
<line x1="561.9" y1="553.98" x2="573.5" y2="553.98" stroke="#111" stroke-width="1.6"/>
<line x1="561.9" y1="569.56" x2="573.5" y2="569.56" stroke="#111" stroke-width="1.6"/>
<path d="M566.33 526.78L562.44 545.78M572.45 526.78L568.56 545.78M560.5 533.05L574.9 533.05M560.5 539.32L574.9 539.32" stroke="#000" stroke-width="1.9" fill="none"/>
<line x1="402.7" y1="461.3" x2="402.7" y2="652.8" stroke="#111" stroke-width="2.6"/>
<line x1="394.9" y1="651.5" x2="404" y2="651.5" stroke="#111" stroke-width="2.6"/>
<text x="392.4" y="658.27" font-size="18.8" text-anchor="end">0</text>
<line x1="394.9" y1="604.27" x2="404" y2="604.27" stroke="#111" stroke-width="2.6"/>
<text x="392.4" y="611.04" font-size="18.8" text-anchor="end">20</text>
<line x1="394.9" y1="557.05" x2="404" y2="557.05" stroke="#111" stroke-width="2.6"/>
<text x="392.4" y="563.82" font-size="18.8" text-anchor="end">40</text>
<line x1="394.9" y1="509.83" x2="404" y2="509.83" stroke="#111" stroke-width="2.6"/>
<text x="392.4" y="516.59" font-size="18.8" text-anchor="end">60</text>
<line x1="394.9" y1="462.6" x2="404" y2="462.6" stroke="#111" stroke-width="2.6"/>
<text x="392.4" y="469.37" font-size="18.8" text-anchor="end">80</text>
<line x1="401.4" y1="651.5" x2="592.4" y2="651.5" stroke="#111" stroke-width="2.6"/>
<line x1="426.6" y1="651.5" x2="426.6" y2="660.5" stroke="#111" stroke-width="2.6"/>
<line x1="461.7" y1="651.5" x2="461.7" y2="660.5" stroke="#111" stroke-width="2.6"/>
<line x1="496.8" y1="651.5" x2="496.8" y2="660.5" stroke="#111" stroke-width="2.6"/>
<line x1="532.6" y1="651.5" x2="532.6" y2="660.5" stroke="#111" stroke-width="2.6"/>
<line x1="567.7" y1="651.5" x2="567.7" y2="660.5" stroke="#111" stroke-width="2.6"/>
<text x="428.1" y="669.5" font-size="19" transform="rotate(-45 428.1 669.5)" text-anchor="end">oe-NC</text>
<text x="468.2" y="670.5" font-size="19" transform="rotate(-45 468.2 670.5)" text-anchor="end">oe-BMAL1</text>
<text x="515.3" y="673.5" font-size="19" transform="rotate(-45 515.3 673.5)" text-anchor="end">oe-BMAL1+sh-NC</text>
<text x="553.1" y="673.5" font-size="19" transform="rotate(-45 553.1 673.5)" text-anchor="end">oe-BMAL1+sh-SIRT1</text>
<text x="588.2" y="672.5" font-size="19" transform="rotate(-45 588.2 672.5)" text-anchor="end">oe-BMAL1+sh-E2F1</text>
<text x="359" y="562.25" font-size="19" transform="rotate(-90 359 562.25)" text-anchor="middle">TNF-α (pg/ml)</text>
<rect x="745.8" y="525.67" width="22.8" height="126.13" fill="#2f6b69" stroke="#111" stroke-width="1.7"/>
<line x1="757.2" y1="519.36" x2="757.2" y2="531.97" stroke="#111" stroke-width="1.6"/>
<line x1="751.4" y1="519.36" x2="763" y2="519.36" stroke="#111" stroke-width="1.6"/>
<line x1="751.4" y1="531.97" x2="763" y2="531.97" stroke="#111" stroke-width="1.6"/>
<rect x="781.6" y="610.18" width="22.8" height="41.62" fill="#4fa8a6" stroke="#111" stroke-width="1.7"/>
<line x1="793" y1="607.02" x2="793" y2="613.33" stroke="#111" stroke-width="1.6"/>
<line x1="787.2" y1="607.02" x2="798.8" y2="607.02" stroke="#111" stroke-width="1.6"/>
<line x1="787.2" y1="613.33" x2="798.8" y2="613.33" stroke="#111" stroke-width="1.6"/>
<path d="M793.19 593.22L793.89 586.22L790.11 586.22L790.81 593.22ZM792.37 594.35L799.24 592.86L798.07 589.26L791.63 592.09ZM791.04 593.92L794.59 600L797.64 597.77L792.96 592.52ZM791.04 592.52L786.36 597.77L789.41 600L792.96 593.92ZM792.37 592.09L785.93 589.26L784.76 592.86L791.63 594.35Z" fill="#000"/>
<circle cx="792" cy="593.22" r="1.68" fill="#000"/>
<rect x="816.7" y="610.18" width="22.8" height="41.62" fill="#e9c252" stroke="#111" stroke-width="1.7"/>
<line x1="828.1" y1="607.65" x2="828.1" y2="612.7" stroke="#111" stroke-width="1.6"/>
<line x1="822.3" y1="607.65" x2="833.9" y2="607.65" stroke="#111" stroke-width="1.6"/>
<line x1="822.3" y1="612.7" x2="833.9" y2="612.7" stroke="#111" stroke-width="1.6"/>
<path d="M828.29 593.85L828.99 586.85L825.21 586.85L825.91 593.85ZM827.47 594.99L834.34 593.49L833.17 589.89L826.73 592.72ZM826.14 594.55L829.69 600.63L832.74 598.41L828.06 593.15ZM826.14 593.15L821.46 598.41L824.51 600.63L828.06 594.55ZM827.47 592.72L821.03 589.89L819.86 593.49L826.73 594.99Z" fill="#000"/>
<circle cx="827.1" cy="593.85" r="1.68" fill="#000"/>
<rect x="852.3" y="581.17" width="22.8" height="70.63" fill="#fbf1ef" stroke="#111" stroke-width="1.7"/>
<line x1="863.7" y1="574.23" x2="863.7" y2="588.1" stroke="#111" stroke-width="1.6"/>
<line x1="857.9" y1="574.23" x2="869.5" y2="574.23" stroke="#111" stroke-width="1.6"/>
<line x1="857.9" y1="588.1" x2="869.5" y2="588.1" stroke="#111" stroke-width="1.6"/>
<path d="M862.33 547.23L858.44 566.23M868.45 547.23L864.56 566.23M856.5 553.5L870.9 553.5M856.5 559.77L870.9 559.77" stroke="#000" stroke-width="1.9" fill="none"/>
<rect x="887.6" y="581.17" width="22.8" height="70.63" fill="#f0aaaa" stroke="#111" stroke-width="1.7"/>
<line x1="899" y1="575.49" x2="899" y2="586.84" stroke="#111" stroke-width="1.6"/>
<line x1="893.2" y1="575.49" x2="904.8" y2="575.49" stroke="#111" stroke-width="1.6"/>
<line x1="893.2" y1="586.84" x2="904.8" y2="586.84" stroke="#111" stroke-width="1.6"/>
<path d="M897.63 548.49L893.74 567.49M903.75 548.49L899.86 567.49M891.8 554.76L906.2 554.76M891.8 561.03L906.2 561.03" stroke="#000" stroke-width="1.9" fill="none"/>
<line x1="733.5" y1="461.3" x2="733.5" y2="653.1" stroke="#111" stroke-width="2.6"/>
<line x1="725.7" y1="651.8" x2="734.8" y2="651.8" stroke="#111" stroke-width="2.6"/>
<text x="723.2" y="658.57" font-size="18.8" text-anchor="end">0</text>
<line x1="725.7" y1="588.73" x2="734.8" y2="588.73" stroke="#111" stroke-width="2.6"/>
<text x="723.2" y="595.5" font-size="18.8" text-anchor="end">50</text>
<line x1="725.7" y1="525.67" x2="734.8" y2="525.67" stroke="#111" stroke-width="2.6"/>
<text x="723.2" y="532.43" font-size="18.8" text-anchor="end">100</text>
<line x1="725.7" y1="462.6" x2="734.8" y2="462.6" stroke="#111" stroke-width="2.6"/>
<text x="723.2" y="469.37" font-size="18.8" text-anchor="end">150</text>
<line x1="732.2" y1="651.8" x2="923.2" y2="651.8" stroke="#111" stroke-width="2.6"/>
<line x1="757.2" y1="651.8" x2="757.2" y2="660.8" stroke="#111" stroke-width="2.6"/>
<line x1="793" y1="651.8" x2="793" y2="660.8" stroke="#111" stroke-width="2.6"/>
<line x1="828.1" y1="651.8" x2="828.1" y2="660.8" stroke="#111" stroke-width="2.6"/>
<line x1="863.7" y1="651.8" x2="863.7" y2="660.8" stroke="#111" stroke-width="2.6"/>
<line x1="899" y1="651.8" x2="899" y2="660.8" stroke="#111" stroke-width="2.6"/>
<text x="758.7" y="669.8" font-size="19" transform="rotate(-45 758.7 669.8)" text-anchor="end">oe-NC</text>
<text x="799.5" y="670.8" font-size="19" transform="rotate(-45 799.5 670.8)" text-anchor="end">oe-BMAL1</text>
<text x="846.6" y="673.8" font-size="19" transform="rotate(-45 846.6 673.8)" text-anchor="end">oe-BMAL1+sh-NC</text>
<text x="884.2" y="673.8" font-size="19" transform="rotate(-45 884.2 673.8)" text-anchor="end">oe-BMAL1+sh-SIRT1</text>
<text x="919.5" y="672.8" font-size="19" transform="rotate(-45 919.5 672.8)" text-anchor="end">oe-BMAL1+sh-E2F1</text>
<text x="684.5" y="557.2" font-size="19" transform="rotate(-90 684.5 557.2)" text-anchor="middle">CCL2 (pg/ml)</text>
<rect x="1023.5" y="563.5" width="22.8" height="85" fill="#2f6b69" stroke="#111" stroke-width="1.7"/>
<line x1="1034.9" y1="558.58" x2="1034.9" y2="568.41" stroke="#111" stroke-width="1.6"/>
<line x1="1029.1" y1="558.58" x2="1040.7" y2="558.58" stroke="#111" stroke-width="1.6"/>
<line x1="1029.1" y1="568.41" x2="1040.7" y2="568.41" stroke="#111" stroke-width="1.6"/>
<rect x="1059" y="491.71" width="22.8" height="156.79" fill="#4fa8a6" stroke="#111" stroke-width="1.7"/>
<line x1="1070.4" y1="487.94" x2="1070.4" y2="495.49" stroke="#111" stroke-width="1.6"/>
<line x1="1064.6" y1="487.94" x2="1076.2" y2="487.94" stroke="#111" stroke-width="1.6"/>
<line x1="1064.6" y1="495.49" x2="1076.2" y2="495.49" stroke="#111" stroke-width="1.6"/>
<path d="M1070.59 472.64L1071.29 465.64L1067.51 465.64L1068.21 472.64ZM1069.77 473.77L1076.64 472.27L1075.47 468.67L1069.03 471.5ZM1068.44 473.33L1071.99 479.41L1075.04 477.19L1070.36 471.94ZM1068.44 471.94L1063.76 477.19L1066.81 479.41L1070.36 473.33ZM1069.77 471.5L1063.33 468.67L1062.16 472.27L1069.03 473.77Z" fill="#000"/>
<circle cx="1069.4" cy="472.64" r="1.68" fill="#000"/>
<rect x="1094.1" y="490.58" width="22.8" height="157.92" fill="#e9c252" stroke="#111" stroke-width="1.7"/>
<line x1="1105.5" y1="484.16" x2="1105.5" y2="497" stroke="#111" stroke-width="1.6"/>
<line x1="1099.7" y1="484.16" x2="1111.3" y2="484.16" stroke="#111" stroke-width="1.6"/>
<line x1="1099.7" y1="497" x2="1111.3" y2="497" stroke="#111" stroke-width="1.6"/>
<path d="M1105.69 472.56L1106.39 465.56L1102.61 465.56L1103.31 472.56ZM1104.87 473.69L1111.74 472.19L1110.57 468.6L1104.13 471.43ZM1103.54 473.26L1107.09 479.33L1110.14 477.11L1105.46 471.86ZM1103.54 471.86L1098.86 477.11L1101.91 479.33L1105.46 473.26ZM1104.87 471.43L1098.43 468.6L1097.26 472.19L1104.13 473.69Z" fill="#000"/>
<circle cx="1104.5" cy="472.56" r="1.68" fill="#000"/>
<rect x="1129.7" y="525.72" width="22.8" height="122.78" fill="#fbf1ef" stroke="#111" stroke-width="1.7"/>
<line x1="1141.1" y1="519.29" x2="1141.1" y2="532.14" stroke="#111" stroke-width="1.6"/>
<line x1="1135.3" y1="519.29" x2="1146.9" y2="519.29" stroke="#111" stroke-width="1.6"/>
<line x1="1135.3" y1="532.14" x2="1146.9" y2="532.14" stroke="#111" stroke-width="1.6"/>
<path d="M1139.73 492.29L1135.84 511.29M1145.85 492.29L1141.96 511.29M1133.9 498.56L1148.3 498.56M1133.9 504.83L1148.3 504.83" stroke="#000" stroke-width="1.9" fill="none"/>
<rect x="1164.8" y="524.58" width="22.8" height="123.92" fill="#f0aaaa" stroke="#111" stroke-width="1.7"/>
<line x1="1176.2" y1="517.78" x2="1176.2" y2="531.38" stroke="#111" stroke-width="1.6"/>
<line x1="1170.4" y1="517.78" x2="1182" y2="517.78" stroke="#111" stroke-width="1.6"/>
<line x1="1170.4" y1="531.38" x2="1182" y2="531.38" stroke="#111" stroke-width="1.6"/>
<path d="M1174.83 490.78L1170.94 509.78M1180.95 490.78L1177.06 509.78M1169 497.05L1183.4 497.05M1169 503.32L1183.4 503.32" stroke="#000" stroke-width="1.9" fill="none"/>
<line x1="1011.9" y1="458.3" x2="1011.9" y2="649.8" stroke="#111" stroke-width="2.6"/>
<line x1="1004.1" y1="648.5" x2="1013.2" y2="648.5" stroke="#111" stroke-width="2.6"/>
<text x="1001.6" y="655.27" font-size="18.8" text-anchor="end">0</text>
<line x1="1004.1" y1="610.72" x2="1013.2" y2="610.72" stroke="#111" stroke-width="2.6"/>
<text x="1001.6" y="617.49" font-size="18.8" text-anchor="end">10</text>
<line x1="1004.1" y1="572.94" x2="1013.2" y2="572.94" stroke="#111" stroke-width="2.6"/>
<text x="1001.6" y="579.71" font-size="18.8" text-anchor="end">20</text>
<line x1="1004.1" y1="535.16" x2="1013.2" y2="535.16" stroke="#111" stroke-width="2.6"/>
<text x="1001.6" y="541.93" font-size="18.8" text-anchor="end">30</text>
<line x1="1004.1" y1="497.38" x2="1013.2" y2="497.38" stroke="#111" stroke-width="2.6"/>
<text x="1001.6" y="504.15" font-size="18.8" text-anchor="end">40</text>
<line x1="1004.1" y1="459.6" x2="1013.2" y2="459.6" stroke="#111" stroke-width="2.6"/>
<text x="1001.6" y="466.37" font-size="18.8" text-anchor="end">50</text>
<line x1="1010.6" y1="648.5" x2="1200.6" y2="648.5" stroke="#111" stroke-width="2.6"/>
<line x1="1034.9" y1="648.5" x2="1034.9" y2="657.5" stroke="#111" stroke-width="2.6"/>
<line x1="1070.4" y1="648.5" x2="1070.4" y2="657.5" stroke="#111" stroke-width="2.6"/>
<line x1="1105.5" y1="648.5" x2="1105.5" y2="657.5" stroke="#111" stroke-width="2.6"/>
<line x1="1141.1" y1="648.5" x2="1141.1" y2="657.5" stroke="#111" stroke-width="2.6"/>
<line x1="1176.2" y1="648.5" x2="1176.2" y2="657.5" stroke="#111" stroke-width="2.6"/>
<text x="1036.4" y="666.5" font-size="19" transform="rotate(-45 1036.4 666.5)" text-anchor="end">oe-NC</text>
<text x="1076.9" y="667.5" font-size="19" transform="rotate(-45 1076.9 667.5)" text-anchor="end">oe-BMAL1</text>
<text x="1124" y="670.5" font-size="19" transform="rotate(-45 1124 670.5)" text-anchor="end">oe-BMAL1+sh-NC</text>
<text x="1161.6" y="670.5" font-size="19" transform="rotate(-45 1161.6 670.5)" text-anchor="end">oe-BMAL1+sh-SIRT1</text>
<text x="1196.7" y="669.5" font-size="19" transform="rotate(-45 1196.7 669.5)" text-anchor="end">oe-BMAL1+sh-E2F1</text>
<text x="966.5" y="554.05" font-size="19" transform="rotate(-90 966.5 554.05)" text-anchor="middle">IL-4 (pg/ml)</text>
<rect x="406.4" y="927.61" width="22.8" height="87.29" fill="#2f6b69" stroke="#111" stroke-width="1.7"/>
<line x1="417.8" y1="923.21" x2="417.8" y2="932" stroke="#111" stroke-width="1.6"/>
<line x1="412" y1="923.21" x2="423.6" y2="923.21" stroke="#111" stroke-width="1.6"/>
<line x1="412" y1="932" x2="423.6" y2="932" stroke="#111" stroke-width="1.6"/>
<rect x="441.7" y="853.5" width="22.8" height="161.4" fill="#4fa8a6" stroke="#111" stroke-width="1.7"/>
<line x1="453.1" y1="849.74" x2="453.1" y2="857.27" stroke="#111" stroke-width="1.6"/>
<line x1="447.3" y1="849.74" x2="458.9" y2="849.74" stroke="#111" stroke-width="1.6"/>
<line x1="447.3" y1="857.27" x2="458.9" y2="857.27" stroke="#111" stroke-width="1.6"/>
<path d="M453.29 830.84L453.99 823.84L450.21 823.84L450.91 830.84ZM452.47 831.97L459.34 830.47L458.17 826.88L451.73 829.7ZM451.14 831.54L454.69 837.61L457.74 835.39L453.06 830.14ZM451.14 830.14L446.46 835.39L449.51 837.61L453.06 831.54ZM452.47 829.7L446.03 826.88L444.86 830.47L451.73 831.97Z" fill="#000"/>
<circle cx="452.1" cy="830.84" r="1.68" fill="#000"/>
<rect x="476.9" y="854.76" width="22.8" height="160.14" fill="#e9c252" stroke="#111" stroke-width="1.7"/>
<line x1="488.3" y1="851.62" x2="488.3" y2="857.9" stroke="#111" stroke-width="1.6"/>
<line x1="482.5" y1="851.62" x2="494.1" y2="851.62" stroke="#111" stroke-width="1.6"/>
<line x1="482.5" y1="857.9" x2="494.1" y2="857.9" stroke="#111" stroke-width="1.6"/>
<path d="M488.49 829.12L489.19 822.12L485.41 822.12L486.11 829.12ZM487.67 830.25L494.54 828.75L493.37 825.16L486.93 827.99ZM486.34 829.82L489.89 835.89L492.94 833.67L488.26 828.42ZM486.34 828.42L481.66 833.67L484.71 835.89L488.26 829.82ZM487.67 827.99L481.23 825.16L480.06 828.75L486.93 830.25Z" fill="#000"/>
<circle cx="487.3" cy="829.12" r="1.68" fill="#000"/>
<rect x="512.2" y="886.79" width="22.8" height="128.11" fill="#fbf1ef" stroke="#111" stroke-width="1.7"/>
<line x1="523.6" y1="881.14" x2="523.6" y2="892.44" stroke="#111" stroke-width="1.6"/>
<line x1="517.8" y1="881.14" x2="529.4" y2="881.14" stroke="#111" stroke-width="1.6"/>
<line x1="517.8" y1="892.44" x2="529.4" y2="892.44" stroke="#111" stroke-width="1.6"/>
<path d="M522.23 856.54L518.34 875.54M528.35 856.54L524.46 875.54M516.4 862.81L530.8 862.81M516.4 869.08L530.8 869.08" stroke="#000" stroke-width="1.9" fill="none"/>
<rect x="547.4" y="886.16" width="22.8" height="128.74" fill="#f0aaaa" stroke="#111" stroke-width="1.7"/>
<line x1="558.8" y1="879.88" x2="558.8" y2="892.44" stroke="#111" stroke-width="1.6"/>
<line x1="553" y1="879.88" x2="564.6" y2="879.88" stroke="#111" stroke-width="1.6"/>
<line x1="553" y1="892.44" x2="564.6" y2="892.44" stroke="#111" stroke-width="1.6"/>
<path d="M557.43 849.18L553.54 868.18M563.55 849.18L559.66 868.18M551.6 855.45L566 855.45M551.6 861.72L566 861.72" stroke="#000" stroke-width="1.9" fill="none"/>
<line x1="394.2" y1="825.2" x2="394.2" y2="1016.2" stroke="#111" stroke-width="2.6"/>
<line x1="386.4" y1="1014.9" x2="395.5" y2="1014.9" stroke="#111" stroke-width="2.6"/>
<text x="383.9" y="1021.67" font-size="18.8" text-anchor="end">0</text>
<line x1="386.4" y1="952.1" x2="395.5" y2="952.1" stroke="#111" stroke-width="2.6"/>
<text x="383.9" y="958.87" font-size="18.8" text-anchor="end">5</text>
<line x1="386.4" y1="889.3" x2="395.5" y2="889.3" stroke="#111" stroke-width="2.6"/>
<text x="383.9" y="896.07" font-size="18.8" text-anchor="end">10</text>
<line x1="386.4" y1="826.5" x2="395.5" y2="826.5" stroke="#111" stroke-width="2.6"/>
<text x="383.9" y="833.27" font-size="18.8" text-anchor="end">15</text>
<line x1="392.9" y1="1014.9" x2="583.1" y2="1014.9" stroke="#111" stroke-width="2.6"/>
<line x1="417.8" y1="1014.9" x2="417.8" y2="1023.9" stroke="#111" stroke-width="2.6"/>
<line x1="453.1" y1="1014.9" x2="453.1" y2="1023.9" stroke="#111" stroke-width="2.6"/>
<line x1="488.3" y1="1014.9" x2="488.3" y2="1023.9" stroke="#111" stroke-width="2.6"/>
<line x1="523.6" y1="1014.9" x2="523.6" y2="1023.9" stroke="#111" stroke-width="2.6"/>
<line x1="558.8" y1="1014.9" x2="558.8" y2="1023.9" stroke="#111" stroke-width="2.6"/>
<text x="418.8" y="1034.9" font-size="19" transform="rotate(-45 418.8 1034.9)" text-anchor="end">oe-NC</text>
<text x="459.1" y="1035.9" font-size="19" transform="rotate(-45 459.1 1035.9)" text-anchor="end">oe-BMAL1</text>
<text x="506.3" y="1038.9" font-size="19" transform="rotate(-45 506.3 1038.9)" text-anchor="end">oe-BMAL1+sh-NC</text>
<text x="543.6" y="1038.9" font-size="19" transform="rotate(-45 543.6 1038.9)" text-anchor="end">oe-BMAL1+sh-SIRT1</text>
<text x="578.8" y="1037.9" font-size="19" transform="rotate(-45 578.8 1037.9)" text-anchor="end">oe-BMAL1+sh-E2F1</text>
<text x="353.7" y="921.5" font-size="19" transform="rotate(-90 353.7 921.5)" text-anchor="middle">IGF-1 (ng/ml)</text>
<rect x="888.7" y="920.49" width="22.8" height="95.61" fill="#2f6b69" stroke="#111" stroke-width="1.7"/>
<line x1="900.1" y1="915.78" x2="900.1" y2="925.2" stroke="#111" stroke-width="1.6"/>
<line x1="894.3" y1="915.78" x2="905.9" y2="915.78" stroke="#111" stroke-width="1.6"/>
<line x1="894.3" y1="925.2" x2="905.9" y2="925.2" stroke="#111" stroke-width="1.6"/>
<rect x="924.4" y="849.37" width="22.8" height="166.73" fill="#4fa8a6" stroke="#111" stroke-width="1.7"/>
<line x1="935.8" y1="841.83" x2="935.8" y2="856.9" stroke="#111" stroke-width="1.6"/>
<line x1="930" y1="841.83" x2="941.6" y2="841.83" stroke="#111" stroke-width="1.6"/>
<line x1="930" y1="856.9" x2="941.6" y2="856.9" stroke="#111" stroke-width="1.6"/>
<path d="M935.99 824.63L936.69 817.63L932.91 817.63L933.61 824.63ZM935.17 825.76L942.04 824.26L940.87 820.67L934.43 823.5ZM933.84 825.33L937.39 831.4L940.44 829.18L935.76 823.93ZM933.84 823.93L929.16 829.18L932.21 831.4L935.76 825.33ZM935.17 823.5L928.73 820.67L927.56 824.26L934.43 825.76Z" fill="#000"/>
<circle cx="934.8" cy="824.63" r="1.68" fill="#000"/>
<rect x="959.6" y="850.78" width="22.8" height="165.32" fill="#e9c252" stroke="#111" stroke-width="1.7"/>
<line x1="971" y1="843.71" x2="971" y2="857.84" stroke="#111" stroke-width="1.6"/>
<line x1="965.2" y1="843.71" x2="976.8" y2="843.71" stroke="#111" stroke-width="1.6"/>
<line x1="965.2" y1="857.84" x2="976.8" y2="857.84" stroke="#111" stroke-width="1.6"/>
<path d="M971.19 824.01L971.89 817.01L968.11 817.01L968.81 824.01ZM970.37 825.15L977.24 823.65L976.07 820.05L969.63 822.88ZM969.04 824.71L972.59 830.79L975.64 828.57L970.96 823.31ZM969.04 823.31L964.36 828.57L967.41 830.79L970.96 824.71ZM970.37 822.88L963.93 820.05L962.76 823.65L969.63 825.15Z" fill="#000"/>
<circle cx="970" cy="824.01" r="1.68" fill="#000"/>
<rect x="994.9" y="900.23" width="22.8" height="115.87" fill="#fbf1ef" stroke="#111" stroke-width="1.7"/>
<line x1="1006.3" y1="895.52" x2="1006.3" y2="904.94" stroke="#111" stroke-width="1.6"/>
<line x1="1000.5" y1="895.52" x2="1012.1" y2="895.52" stroke="#111" stroke-width="1.6"/>
<line x1="1000.5" y1="904.94" x2="1012.1" y2="904.94" stroke="#111" stroke-width="1.6"/>
<path d="M1004.93 868.42L1001.04 887.42M1011.05 868.42L1007.16 887.42M999.1 874.69L1013.5 874.69M999.1 880.96L1013.5 880.96" stroke="#000" stroke-width="1.9" fill="none"/>
<rect x="1030.1" y="900.71" width="22.8" height="115.39" fill="#f0aaaa" stroke="#111" stroke-width="1.7"/>
<line x1="1041.5" y1="896.94" x2="1041.5" y2="904.47" stroke="#111" stroke-width="1.6"/>
<line x1="1035.7" y1="896.94" x2="1047.3" y2="896.94" stroke="#111" stroke-width="1.6"/>
<line x1="1035.7" y1="904.47" x2="1047.3" y2="904.47" stroke="#111" stroke-width="1.6"/>
<path d="M1040.13 868.54L1036.24 887.54M1046.25 868.54L1042.36 887.54M1034.3 874.81L1048.7 874.81M1034.3 881.08L1048.7 881.08" stroke="#000" stroke-width="1.9" fill="none"/>
<line x1="876.9" y1="826.4" x2="876.9" y2="1017.4" stroke="#111" stroke-width="2.6"/>
<line x1="869.1" y1="1016.1" x2="878.2" y2="1016.1" stroke="#111" stroke-width="2.6"/>
<text x="866.6" y="1022.87" font-size="18.8" text-anchor="end">0</text>
<line x1="869.1" y1="969" x2="878.2" y2="969" stroke="#111" stroke-width="2.6"/>
<text x="866.6" y="975.77" font-size="18.8" text-anchor="end">50</text>
<line x1="869.1" y1="921.9" x2="878.2" y2="921.9" stroke="#111" stroke-width="2.6"/>
<text x="866.6" y="928.67" font-size="18.8" text-anchor="end">100</text>
<line x1="869.1" y1="874.8" x2="878.2" y2="874.8" stroke="#111" stroke-width="2.6"/>
<text x="866.6" y="881.57" font-size="18.8" text-anchor="end">150</text>
<line x1="869.1" y1="827.7" x2="878.2" y2="827.7" stroke="#111" stroke-width="2.6"/>
<text x="866.6" y="834.47" font-size="18.8" text-anchor="end">200</text>
<line x1="875.6" y1="1016.1" x2="1065.3" y2="1016.1" stroke="#111" stroke-width="2.6"/>
<line x1="900.1" y1="1016.1" x2="900.1" y2="1025.1" stroke="#111" stroke-width="2.6"/>
<line x1="935.8" y1="1016.1" x2="935.8" y2="1025.1" stroke="#111" stroke-width="2.6"/>
<line x1="971" y1="1016.1" x2="971" y2="1025.1" stroke="#111" stroke-width="2.6"/>
<line x1="1006.3" y1="1016.1" x2="1006.3" y2="1025.1" stroke="#111" stroke-width="2.6"/>
<line x1="1041.5" y1="1016.1" x2="1041.5" y2="1025.1" stroke="#111" stroke-width="2.6"/>
<text x="895.6" y="1036.1" font-size="19" transform="rotate(-45 895.6 1036.1)" text-anchor="end">oe-NC</text>
<text x="936.3" y="1037.1" font-size="19" transform="rotate(-45 936.3 1037.1)" text-anchor="end">oe-BMAL1</text>
<text x="983.5" y="1040.1" font-size="19" transform="rotate(-45 983.5 1040.1)" text-anchor="end">oe-BMAL1+sh-NC</text>
<text x="1020.8" y="1040.1" font-size="19" transform="rotate(-45 1020.8 1040.1)" text-anchor="end">oe-BMAL1+sh-SIRT1</text>
<text x="1056" y="1039.1" font-size="19" transform="rotate(-45 1056 1039.1)" text-anchor="end">oe-BMAL1+sh-E2F1</text>
<text x="826" y="929.8" font-size="19" transform="rotate(-90 826 929.8)" text-anchor="middle">TGF- β1 (pg/ml)</text>
<text x="23.5" y="1200.5" font-size="29" font-weight="bold">D</text>
<text x="169.4" y="1329.9" font-size="19" transform="rotate(-45 169.4 1329.9)">oe-NC</text>
<text x="211.3" y="1329.9" font-size="19" transform="rotate(-45 211.3 1329.9)">oe-BMAL1</text>
<text x="258.2" y="1329.9" font-size="19" transform="rotate(-45 258.2 1329.9)">oe-BMAL1+sh-NC</text>
<text x="313.1" y="1329.9" font-size="19" transform="rotate(-45 313.1 1329.9)">oe-BMAL1+sh-SIRT1</text>
<text x="375.7" y="1329.9" font-size="19" transform="rotate(-45 375.7 1329.9)">oe-BMAL1+sh-E2F1</text>
<text x="119.4" y="1363.55" font-size="20" text-anchor="end">GCLC</text>
<clipPath id="cl5"><rect x="134.3" y="1339.5" width="298.4" height="34.1"/></clipPath>
<g clip-path="url(#cl5)">
<rect x="134.3" y="1339.5" width="298.4" height="34.1" fill="#9e9e9e"/>
<rect x="154.5" y="1351.75" width="39" height="9.5" rx="4.75" fill="#000" opacity="0.17" filter="url(#b3)"/>
<rect x="209.5" y="1351.5" width="41" height="12" rx="6" fill="#000" opacity="0.28" filter="url(#b3)"/>
<rect x="263" y="1351.5" width="42" height="12" rx="6" fill="#000" opacity="0.28" filter="url(#b3)"/>
<rect x="318.5" y="1352.75" width="41" height="10.5" rx="5.25" fill="#000" opacity="0.21" filter="url(#b3)"/>
<rect x="375" y="1351.75" width="38" height="10.5" rx="5.25" fill="#000" opacity="0.21" filter="url(#b3)"/>
<rect x="157.5" y="1354.25" width="33" height="4.5" rx="2.25" fill="#000" opacity="0.6" filter="url(#b2)"/>
<rect x="212.5" y="1354" width="35" height="7" rx="3.5" fill="#000" opacity="1" filter="url(#b2)"/>
<rect x="266" y="1354" width="36" height="7" rx="3.5" fill="#000" opacity="1" filter="url(#b2)"/>
<rect x="321.5" y="1355.25" width="35" height="5.5" rx="2.75" fill="#000" opacity="0.75" filter="url(#b2)"/>
<rect x="378" y="1354.25" width="32" height="5.5" rx="2.75" fill="#000" opacity="0.75" filter="url(#b2)"/>
</g>
<rect x="135.6" y="1340.8" width="295.8" height="31.5" fill="none" stroke="#bdbdbd" stroke-width="0.9"/>
<rect x="134.3" y="1339.5" width="298.4" height="34.1" fill="none" stroke="#000" stroke-width="1.6"/>
<text x="119.4" y="1405.05" font-size="20" text-anchor="end">GCLM</text>
<clipPath id="cl6"><rect x="134.3" y="1381.4" width="298.4" height="33.3"/></clipPath>
<g clip-path="url(#cl6)">
<rect x="134.3" y="1381.4" width="298.4" height="33.3" fill="#9e9e9e"/>
<rect x="153.5" y="1393.25" width="39" height="9.5" rx="4.75" fill="#000" opacity="0.14" filter="url(#b3)"/>
<rect x="207.7" y="1392.75" width="40" height="12.5" rx="6.25" fill="#000" opacity="0.25" filter="url(#b3)"/>
<rect x="262.5" y="1394.25" width="41" height="12.5" rx="6.25" fill="#000" opacity="0.27" filter="url(#b3)"/>
<rect x="317.8" y="1394.25" width="39" height="10.5" rx="5.25" fill="#000" opacity="0.2" filter="url(#b3)"/>
<rect x="373.4" y="1392.5" width="40" height="11" rx="5.5" fill="#000" opacity="0.21" filter="url(#b3)"/>
<rect x="156.5" y="1395.75" width="33" height="4.5" rx="2.25" fill="#000" opacity="0.5" filter="url(#b2)"/>
<rect x="210.7" y="1395.25" width="34" height="7.5" rx="3.75" fill="#000" opacity="0.9" filter="url(#b2)"/>
<rect x="265.5" y="1396.75" width="35" height="7.5" rx="3.75" fill="#000" opacity="0.95" filter="url(#b2)"/>
<rect x="320.8" y="1396.75" width="33" height="5.5" rx="2.75" fill="#000" opacity="0.7" filter="url(#b2)"/>
<rect x="376.4" y="1395" width="34" height="6" rx="3" fill="#000" opacity="0.75" filter="url(#b2)"/>
</g>
<rect x="135.6" y="1382.7" width="295.8" height="30.7" fill="none" stroke="#bdbdbd" stroke-width="0.9"/>
<rect x="134.3" y="1381.4" width="298.4" height="33.3" fill="none" stroke="#000" stroke-width="1.6"/>
<text x="119.4" y="1445.05" font-size="20" text-anchor="end">NQO1</text>
<clipPath id="cl7"><rect x="134.3" y="1421.4" width="298.4" height="33.3"/></clipPath>
<g clip-path="url(#cl7)">
<rect x="134.3" y="1421.4" width="298.4" height="33.3" fill="#9c9c9c"/>
<rect x="154.1" y="1432.5" width="41" height="10" rx="5" fill="#000" opacity="0.21" filter="url(#b3)"/>
<rect x="208" y="1432" width="43" height="13" rx="6.5" fill="#000" opacity="0.28" filter="url(#b3)"/>
<rect x="262.5" y="1434.75" width="42" height="12.5" rx="6.25" fill="#000" opacity="0.28" filter="url(#b3)"/>
<rect x="316.9" y="1434.5" width="41" height="11" rx="5.5" fill="#000" opacity="0.24" filter="url(#b3)"/>
<rect x="372" y="1432.75" width="42" height="11.5" rx="5.75" fill="#000" opacity="0.26" filter="url(#b3)"/>
<rect x="157.1" y="1435" width="35" height="5" rx="2.5" fill="#000" opacity="0.75" filter="url(#b2)"/>
<rect x="211" y="1434.5" width="37" height="8" rx="4" fill="#000" opacity="1" filter="url(#b2)"/>
<rect x="265.5" y="1437.25" width="36" height="7.5" rx="3.75" fill="#000" opacity="1" filter="url(#b2)"/>
<rect x="319.9" y="1437" width="35" height="6" rx="3" fill="#000" opacity="0.85" filter="url(#b2)"/>
<rect x="375" y="1435.25" width="36" height="6.5" rx="3.25" fill="#000" opacity="0.92" filter="url(#b2)"/>
</g>
<rect x="135.6" y="1422.7" width="295.8" height="30.7" fill="none" stroke="#bdbdbd" stroke-width="0.9"/>
<rect x="134.3" y="1421.4" width="298.4" height="33.3" fill="none" stroke="#000" stroke-width="1.6"/>
<text x="119.4" y="1486.55" font-size="20" text-anchor="end">β-actin</text>
<clipPath id="cl8"><rect x="134.3" y="1462.9" width="298.4" height="33.3"/></clipPath>
<g clip-path="url(#cl8)">
<rect x="134.3" y="1462.9" width="298.4" height="33.3" fill="#9a9a9a"/>
<rect x="145.4" y="1471.5" width="44" height="18" rx="7" fill="#000" opacity="0.28" filter="url(#b3)"/>
<rect x="198.7" y="1471" width="49" height="18" rx="7" fill="#000" opacity="0.28" filter="url(#b3)"/>
<rect x="260" y="1472" width="46" height="18" rx="7" fill="#000" opacity="0.28" filter="url(#b3)"/>
<rect x="316.6" y="1472" width="48" height="18" rx="7" fill="#000" opacity="0.28" filter="url(#b3)"/>
<rect x="375.7" y="1471.5" width="44" height="19" rx="7" fill="#000" opacity="0.28" filter="url(#b3)"/>
<rect x="148.4" y="1474" width="38" height="13" rx="6" fill="#000" opacity="1" filter="url(#b1)"/>
<rect x="201.7" y="1473.5" width="43" height="13" rx="6" fill="#000" opacity="1" filter="url(#b1)"/>
<rect x="263" y="1474.5" width="40" height="13" rx="6" fill="#000" opacity="1" filter="url(#b1)"/>
<rect x="319.6" y="1474.5" width="42" height="13" rx="6" fill="#000" opacity="1" filter="url(#b1)"/>
<rect x="378.7" y="1474" width="38" height="14" rx="6" fill="#000" opacity="1" filter="url(#b1)"/>
</g>
<rect x="135.6" y="1464.2" width="295.8" height="30.7" fill="none" stroke="#bdbdbd" stroke-width="0.9"/>
<rect x="134.3" y="1462.9" width="298.4" height="33.3" fill="none" stroke="#000" stroke-width="1.6"/>
<rect x="786.5" y="1200" width="21.1" height="9.6" fill="#2f6b69" stroke="#111" stroke-width="1.2"/>
<text x="820.6" y="1211.64" font-size="19" letter-spacing="0.2">oe-NC</text>
<rect x="786.5" y="1226.2" width="21.1" height="9.6" fill="#4fa8a6" stroke="#111" stroke-width="1.2"/>
<text x="820.6" y="1237.84" font-size="19" letter-spacing="0.2">oe-BMAL1</text>
<rect x="786.5" y="1255.5" width="21.1" height="9.6" fill="#e9c252" stroke="#111" stroke-width="1.2"/>
<text x="820.6" y="1267.14" font-size="19" letter-spacing="0.2">oe-BMAL1+sh-NC</text>
<rect x="918.8" y="1200" width="21.1" height="9.6" fill="#fbf1ef" stroke="#111" stroke-width="1.2"/>
<text x="952.9" y="1211.64" font-size="19" letter-spacing="0.2">oe-BMAL1+sh-SIRT1</text>
<rect x="918.8" y="1226.2" width="21.1" height="9.6" fill="#f0aaaa" stroke="#111" stroke-width="1.2"/>
<text x="952.9" y="1237.84" font-size="19" letter-spacing="0.2">oe-BMAL1+sh-E2F1</text>
<rect x="774" y="1449.52" width="14" height="36.48" fill="#2f6b69" stroke="#111" stroke-width="1.5"/>
<line x1="781" y1="1443.44" x2="781" y2="1455.6" stroke="#111" stroke-width="1.5"/>
<line x1="777.5" y1="1443.44" x2="784.5" y2="1443.44" stroke="#111" stroke-width="1.5"/>
<line x1="777.5" y1="1455.6" x2="784.5" y2="1455.6" stroke="#111" stroke-width="1.5"/>
<rect x="796" y="1376.56" width="14" height="109.44" fill="#4fa8a6" stroke="#111" stroke-width="1.5"/>
<line x1="803" y1="1370.48" x2="803" y2="1382.64" stroke="#111" stroke-width="1.5"/>
<line x1="799.5" y1="1370.48" x2="806.5" y2="1370.48" stroke="#111" stroke-width="1.5"/>
<line x1="799.5" y1="1382.64" x2="806.5" y2="1382.64" stroke="#111" stroke-width="1.5"/>
<path d="M804.18 1353.88L804.88 1346.93L801.12 1346.93L801.82 1353.88ZM803.37 1355L810.19 1353.52L809.03 1349.95L802.63 1352.76ZM802.04 1354.57L805.57 1360.61L808.6 1358.4L803.96 1353.19ZM802.04 1353.19L797.4 1358.4L800.43 1360.61L803.96 1354.57ZM803.37 1352.76L796.97 1349.95L795.81 1353.52L802.63 1355Z" fill="#000"/>
<circle cx="803" cy="1353.88" r="1.67" fill="#000"/>
<rect x="818" y="1361.36" width="14" height="124.64" fill="#e9c252" stroke="#111" stroke-width="1.5"/>
<line x1="825" y1="1355.28" x2="825" y2="1367.44" stroke="#111" stroke-width="1.5"/>
<line x1="821.5" y1="1355.28" x2="828.5" y2="1355.28" stroke="#111" stroke-width="1.5"/>
<line x1="821.5" y1="1367.44" x2="828.5" y2="1367.44" stroke="#111" stroke-width="1.5"/>
<path d="M826.18 1337.28L826.88 1330.33L823.12 1330.33L823.82 1337.28ZM825.37 1338.4L832.19 1336.92L831.03 1333.35L824.63 1336.16ZM824.04 1337.97L827.57 1344.01L830.6 1341.8L825.96 1336.59ZM824.04 1336.59L819.4 1341.8L822.43 1344.01L825.96 1337.97ZM825.37 1336.16L818.97 1333.35L817.81 1336.92L824.63 1338.4Z" fill="#000"/>
<circle cx="825" cy="1337.28" r="1.67" fill="#000"/>
<rect x="840" y="1426.11" width="14" height="59.89" fill="#fbf1ef" stroke="#111" stroke-width="1.5"/>
<line x1="847" y1="1421.55" x2="847" y2="1430.67" stroke="#111" stroke-width="1.5"/>
<line x1="843.5" y1="1421.55" x2="850.5" y2="1421.55" stroke="#111" stroke-width="1.5"/>
<line x1="843.5" y1="1430.67" x2="850.5" y2="1430.67" stroke="#111" stroke-width="1.5"/>
<path d="M845.65 1395.95L841.82 1414.95M851.69 1395.95L847.85 1414.95M839.9 1402.22L854.1 1402.22M839.9 1408.49L854.1 1408.49" stroke="#000" stroke-width="1.85" fill="none"/>
<rect x="862" y="1426.11" width="14" height="59.89" fill="#f0aaaa" stroke="#111" stroke-width="1.5"/>
<line x1="869" y1="1421.55" x2="869" y2="1430.67" stroke="#111" stroke-width="1.5"/>
<line x1="865.5" y1="1421.55" x2="872.5" y2="1421.55" stroke="#111" stroke-width="1.5"/>
<line x1="865.5" y1="1430.67" x2="872.5" y2="1430.67" stroke="#111" stroke-width="1.5"/>
<path d="M867.65 1394.35L863.82 1413.35M873.69 1394.35L869.85 1413.35M861.9 1400.62L876.1 1400.62M861.9 1406.89L876.1 1406.89" stroke="#000" stroke-width="1.85" fill="none"/>
<rect x="898.1" y="1452.56" width="14" height="33.44" fill="#2f6b69" stroke="#111" stroke-width="1.5"/>
<line x1="905.1" y1="1447.39" x2="905.1" y2="1457.73" stroke="#111" stroke-width="1.5"/>
<line x1="901.6" y1="1447.39" x2="908.6" y2="1447.39" stroke="#111" stroke-width="1.5"/>
<line x1="901.6" y1="1457.73" x2="908.6" y2="1457.73" stroke="#111" stroke-width="1.5"/>
<rect x="920.1" y="1376.56" width="14" height="109.44" fill="#4fa8a6" stroke="#111" stroke-width="1.5"/>
<line x1="927.1" y1="1370.48" x2="927.1" y2="1382.64" stroke="#111" stroke-width="1.5"/>
<line x1="923.6" y1="1370.48" x2="930.6" y2="1370.48" stroke="#111" stroke-width="1.5"/>
<line x1="923.6" y1="1382.64" x2="930.6" y2="1382.64" stroke="#111" stroke-width="1.5"/>
<path d="M928.28 1357.98L928.98 1351.03L925.22 1351.03L925.92 1357.98ZM927.47 1359.1L934.29 1357.62L933.13 1354.05L926.73 1356.86ZM926.14 1358.67L929.67 1364.71L932.7 1362.5L928.06 1357.29ZM926.14 1357.29L921.5 1362.5L924.53 1364.71L928.06 1358.67ZM927.47 1356.86L921.07 1354.05L919.91 1357.62L926.73 1359.1Z" fill="#000"/>
<circle cx="927.1" cy="1357.98" r="1.67" fill="#000"/>
<rect x="942.1" y="1365.62" width="14" height="120.38" fill="#e9c252" stroke="#111" stroke-width="1.5"/>
<line x1="949.1" y1="1358.62" x2="949.1" y2="1372.61" stroke="#111" stroke-width="1.5"/>
<line x1="945.6" y1="1358.62" x2="952.6" y2="1358.62" stroke="#111" stroke-width="1.5"/>
<line x1="945.6" y1="1372.61" x2="952.6" y2="1372.61" stroke="#111" stroke-width="1.5"/>
<path d="M950.28 1343.62L950.98 1336.67L947.22 1336.67L947.92 1343.62ZM949.47 1344.75L956.29 1343.26L955.13 1339.69L948.73 1342.5ZM948.14 1344.32L951.67 1350.35L954.7 1348.14L950.06 1342.93ZM948.14 1342.93L943.5 1348.14L946.53 1350.35L950.06 1344.32ZM949.47 1342.5L943.07 1339.69L941.91 1343.26L948.73 1344.75Z" fill="#000"/>
<circle cx="949.1" cy="1343.62" r="1.67" fill="#000"/>
<rect x="964.1" y="1426.11" width="14" height="59.89" fill="#fbf1ef" stroke="#111" stroke-width="1.5"/>
<line x1="971.1" y1="1421.55" x2="971.1" y2="1430.67" stroke="#111" stroke-width="1.5"/>
<line x1="967.6" y1="1421.55" x2="974.6" y2="1421.55" stroke="#111" stroke-width="1.5"/>
<line x1="967.6" y1="1430.67" x2="974.6" y2="1430.67" stroke="#111" stroke-width="1.5"/>
<path d="M969.75 1395.35L965.92 1414.35M975.79 1395.35L971.95 1414.35M964 1401.62L978.2 1401.62M964 1407.89L978.2 1407.89" stroke="#000" stroke-width="1.85" fill="none"/>
<rect x="986.1" y="1422.16" width="14" height="63.84" fill="#f0aaaa" stroke="#111" stroke-width="1.5"/>
<line x1="993.1" y1="1416.99" x2="993.1" y2="1427.33" stroke="#111" stroke-width="1.5"/>
<line x1="989.6" y1="1416.99" x2="996.6" y2="1416.99" stroke="#111" stroke-width="1.5"/>
<line x1="989.6" y1="1427.33" x2="996.6" y2="1427.33" stroke="#111" stroke-width="1.5"/>
<path d="M991.75 1390.99L987.92 1409.99M997.79 1390.99L993.95 1409.99M986 1397.26L1000.2 1397.26M986 1403.53L1000.2 1403.53" stroke="#000" stroke-width="1.85" fill="none"/>
<rect x="1021.8" y="1419.12" width="14" height="66.88" fill="#2f6b69" stroke="#111" stroke-width="1.5"/>
<line x1="1028.8" y1="1413.04" x2="1028.8" y2="1425.2" stroke="#111" stroke-width="1.5"/>
<line x1="1025.3" y1="1413.04" x2="1032.3" y2="1413.04" stroke="#111" stroke-width="1.5"/>
<line x1="1025.3" y1="1425.2" x2="1032.3" y2="1425.2" stroke="#111" stroke-width="1.5"/>
<rect x="1043.8" y="1302.08" width="14" height="183.92" fill="#4fa8a6" stroke="#111" stroke-width="1.5"/>
<line x1="1050.8" y1="1297.52" x2="1050.8" y2="1306.64" stroke="#111" stroke-width="1.5"/>
<line x1="1047.3" y1="1297.52" x2="1054.3" y2="1297.52" stroke="#111" stroke-width="1.5"/>
<line x1="1047.3" y1="1306.64" x2="1054.3" y2="1306.64" stroke="#111" stroke-width="1.5"/>
<path d="M1051.98 1280.72L1052.68 1273.77L1048.92 1273.77L1049.62 1280.72ZM1051.17 1281.84L1057.99 1280.36L1056.83 1276.79L1050.43 1279.6ZM1049.84 1281.41L1053.37 1287.45L1056.4 1285.24L1051.76 1280.03ZM1049.84 1280.03L1045.2 1285.24L1048.23 1287.45L1051.76 1281.41ZM1051.17 1279.6L1044.77 1276.79L1043.61 1280.36L1050.43 1281.84Z" fill="#000"/>
<circle cx="1050.8" cy="1280.72" r="1.67" fill="#000"/>
<rect x="1065.8" y="1317.28" width="14" height="168.72" fill="#e9c252" stroke="#111" stroke-width="1.5"/>
<line x1="1072.8" y1="1312.72" x2="1072.8" y2="1321.84" stroke="#111" stroke-width="1.5"/>
<line x1="1069.3" y1="1312.72" x2="1076.3" y2="1312.72" stroke="#111" stroke-width="1.5"/>
<line x1="1069.3" y1="1321.84" x2="1076.3" y2="1321.84" stroke="#111" stroke-width="1.5"/>
<path d="M1073.98 1300.32L1074.68 1293.37L1070.92 1293.37L1071.62 1300.32ZM1073.17 1301.44L1079.99 1299.96L1078.83 1296.39L1072.43 1299.2ZM1071.84 1301.01L1075.37 1307.05L1078.4 1304.84L1073.76 1299.63ZM1071.84 1299.63L1067.2 1304.84L1070.23 1307.05L1073.76 1301.01ZM1073.17 1299.2L1066.77 1296.39L1065.61 1299.96L1072.43 1301.44Z" fill="#000"/>
<circle cx="1072.8" cy="1300.32" r="1.67" fill="#000"/>
<rect x="1087.8" y="1395.71" width="14" height="90.29" fill="#fbf1ef" stroke="#111" stroke-width="1.5"/>
<line x1="1094.8" y1="1391.76" x2="1094.8" y2="1399.66" stroke="#111" stroke-width="1.5"/>
<line x1="1091.3" y1="1391.76" x2="1098.3" y2="1391.76" stroke="#111" stroke-width="1.5"/>
<line x1="1091.3" y1="1399.66" x2="1098.3" y2="1399.66" stroke="#111" stroke-width="1.5"/>
<path d="M1093.45 1367.26L1089.62 1386.26M1099.49 1367.26L1095.65 1386.26M1087.7 1373.53L1101.9 1373.53M1087.7 1379.8L1101.9 1379.8" stroke="#000" stroke-width="1.85" fill="none"/>
<rect x="1109.8" y="1385.68" width="14" height="100.32" fill="#f0aaaa" stroke="#111" stroke-width="1.5"/>
<line x1="1116.8" y1="1379.6" x2="1116.8" y2="1391.76" stroke="#111" stroke-width="1.5"/>
<line x1="1113.3" y1="1379.6" x2="1120.3" y2="1379.6" stroke="#111" stroke-width="1.5"/>
<line x1="1113.3" y1="1391.76" x2="1120.3" y2="1391.76" stroke="#111" stroke-width="1.5"/>
<path d="M1115.45 1352L1111.62 1371M1121.49 1352L1117.65 1371M1109.7 1358.27L1123.9 1358.27M1109.7 1364.54L1123.9 1364.54" stroke="#000" stroke-width="1.85" fill="none"/>
<line x1="766.5" y1="1241.55" x2="766.5" y2="1487.25" stroke="#111" stroke-width="2.5"/>
<line x1="756.7" y1="1486" x2="767.75" y2="1486" stroke="#111" stroke-width="2.5"/>
<text x="754.3" y="1492.84" font-size="19" text-anchor="end">0.0</text>
<line x1="756.7" y1="1425.2" x2="767.75" y2="1425.2" stroke="#111" stroke-width="2.5"/>
<text x="754.3" y="1432.04" font-size="19" text-anchor="end">0.2</text>
<line x1="756.7" y1="1364.4" x2="767.75" y2="1364.4" stroke="#111" stroke-width="2.5"/>
<text x="754.3" y="1371.24" font-size="19" text-anchor="end">0.4</text>
<line x1="756.7" y1="1303.6" x2="767.75" y2="1303.6" stroke="#111" stroke-width="2.5"/>
<text x="754.3" y="1310.44" font-size="19" text-anchor="end">0.6</text>
<line x1="756.7" y1="1242.8" x2="767.75" y2="1242.8" stroke="#111" stroke-width="2.5"/>
<text x="754.3" y="1249.64" font-size="19" text-anchor="end">0.8</text>
<line x1="765.25" y1="1486" x2="1131" y2="1486" stroke="#111" stroke-width="2.5"/>
<line x1="824.8" y1="1486" x2="824.8" y2="1496" stroke="#111" stroke-width="2.5"/>
<line x1="948.2" y1="1486" x2="948.2" y2="1496" stroke="#111" stroke-width="2.5"/>
<line x1="1071.4" y1="1486" x2="1071.4" y2="1496" stroke="#111" stroke-width="2.5"/>
<text x="824.8" y="1516" font-size="19" text-anchor="middle">GCLC</text>
<text x="948.2" y="1516" font-size="19" text-anchor="middle">GCLM</text>
<text x="1071.4" y="1516" font-size="19" text-anchor="middle">NQO1</text>
<text x="709.5" y="1364.5" font-size="19.3" transform="rotate(-90 709.5 1364.5)" text-anchor="middle">Proteins / β-actin</text>
<text x="19.5" y="1590.8" font-size="29" font-weight="bold">E</text>
<text x="201.4" y="1599" font-size="22.5" text-anchor="middle">oe-NC</text>
<text x="437" y="1599" font-size="22.5" text-anchor="middle">oe-BMAL1</text>
<text x="680.6" y="1599" font-size="22.5" text-anchor="middle">oe-BMAL1+sh-NC</text>
<text x="907.2" y="1599" font-size="22.5" text-anchor="middle">oe-BMAL1+sh-SIRT1</text>
<text x="1154.3" y="1599" font-size="22.5" text-anchor="middle">oe-BMAL1+sh-E2F1</text>
<text x="8.8" y="1738.4" font-size="22.5">CD86</text>
<text x="2.5" y="1990" font-size="22.5">CD206</text>
<rect x="104.4" y="1625.7" width="197.1" height="196.7" fill="none" stroke="#333" stroke-width="1"/>
<polygon points="104.9,1822.4 104.9,1820.6 105.65,1820.42 106.4,1821.15 107.15,1821.85 107.9,1818.87 108.65,1819.28 109.4,1821.72 110.15,1820.87 110.9,1821.42 111.65,1821.46 112.4,1819.86 113.15,1819.73 113.9,1820.9 114.65,1816.69 115.4,1819.7 116.15,1820.4 116.9,1819.82 117.65,1818.85 118.4,1821.32 119.15,1813.09 119.9,1820.8 120.65,1820.31 121.4,1821.35 122.15,1820.74 122.9,1820.37 123.65,1820.38 124.4,1818.96 125.15,1818.68 125.9,1820.33 126.65,1818.36 127.4,1820.14 128.15,1820.33 128.9,1820.05 129.65,1820.74 130.4,1817.9 131.15,1819.52 131.9,1819.15 132.65,1819.46 133.4,1819.6 134.15,1817.73 134.9,1817.93 135.65,1817.87 136.4,1818.18 137.15,1818.56 137.9,1816.23 138.65,1818.12 139.4,1816.52 140.15,1810.01 140.9,1813.85 141.65,1811.76 142.4,1813.6 143.15,1814.63 143.9,1816.39 144.65,1815.08 145.4,1814.58 146.15,1814.53 146.9,1813.52 147.65,1813.29 148.4,1814.32 149.15,1812.52 149.9,1810.04 150.65,1813.53 151.4,1812.02 152.15,1812.54 152.9,1811.33 153.65,1811.33 154.4,1810.04 155.15,1812.92 155.9,1812.61 156.65,1809.55 157.4,1808.06 158.15,1809.22 158.9,1801.05 159.65,1808.46 160.4,1809.78 161.15,1808.02 161.9,1805.01 162.65,1804.33 163.4,1806.37 164.15,1804.57 164.9,1803.93 165.65,1801.46 166.4,1800.91 167.15,1800.84 167.9,1798.65 168.65,1797.71 169.4,1799.01 170.15,1797.64 170.9,1785.8 171.65,1798.31 172.4,1797.13 173.15,1788.69 173.9,1791.09 174.65,1784.04 175.4,1773.76 176.15,1785.63 176.9,1781.95 177.65,1774.22 178.4,1776.13 179.15,1774.3 179.9,1761.98 180.65,1773.16 181.4,1753.12 182.15,1766.7 182.9,1754.63 183.65,1755.05 184.4,1753.1 185.15,1750.49 185.9,1745.37 186.65,1742.6 187.4,1735.91 188.15,1732.36 188.9,1735.71 189.65,1729.59 190.4,1716.46 191.15,1705.11 191.9,1718.76 192.65,1709.73 193.4,1712.71 194.15,1703.59 194.9,1705.71 195.65,1692.08 196.4,1680.24 197.15,1693.63 197.9,1688.75 198.65,1681.39 199.4,1685.92 200.15,1660.35 200.9,1667.83 201.65,1674.29 202.4,1678.77 203.15,1681.68 203.9,1685.87 204.65,1687.29 205.4,1688.45 206.15,1668.3 206.9,1696.98 207.65,1710.09 208.4,1696.85 209.15,1719.22 209.9,1723.87 210.65,1735.24 211.4,1733.32 212.15,1750.96 212.9,1764.56 213.65,1765.21 214.4,1772.88 215.15,1782.13 215.9,1788.87 216.65,1791.91 217.4,1802.49 218.15,1807.3 218.9,1810.4 219.65,1814.26 220.4,1817.81 221.15,1818.07 221.9,1820.38 222.65,1822.4 223.4,1821.36 224.15,1822.4 224.9,1822.4 224.9,1822.4" fill="#f07a80"/>
<clipPath id="cl9"><rect x="207" y="1625.7" width="94.5" height="196.7"/></clipPath>
<polygon points="104.9,1822.4 104.9,1820.6 105.65,1820.42 106.4,1821.15 107.15,1821.85 107.9,1818.87 108.65,1819.28 109.4,1821.72 110.15,1820.87 110.9,1821.42 111.65,1821.46 112.4,1819.86 113.15,1819.73 113.9,1820.9 114.65,1816.69 115.4,1819.7 116.15,1820.4 116.9,1819.82 117.65,1818.85 118.4,1821.32 119.15,1813.09 119.9,1820.8 120.65,1820.31 121.4,1821.35 122.15,1820.74 122.9,1820.37 123.65,1820.38 124.4,1818.96 125.15,1818.68 125.9,1820.33 126.65,1818.36 127.4,1820.14 128.15,1820.33 128.9,1820.05 129.65,1820.74 130.4,1817.9 131.15,1819.52 131.9,1819.15 132.65,1819.46 133.4,1819.6 134.15,1817.73 134.9,1817.93 135.65,1817.87 136.4,1818.18 137.15,1818.56 137.9,1816.23 138.65,1818.12 139.4,1816.52 140.15,1810.01 140.9,1813.85 141.65,1811.76 142.4,1813.6 143.15,1814.63 143.9,1816.39 144.65,1815.08 145.4,1814.58 146.15,1814.53 146.9,1813.52 147.65,1813.29 148.4,1814.32 149.15,1812.52 149.9,1810.04 150.65,1813.53 151.4,1812.02 152.15,1812.54 152.9,1811.33 153.65,1811.33 154.4,1810.04 155.15,1812.92 155.9,1812.61 156.65,1809.55 157.4,1808.06 158.15,1809.22 158.9,1801.05 159.65,1808.46 160.4,1809.78 161.15,1808.02 161.9,1805.01 162.65,1804.33 163.4,1806.37 164.15,1804.57 164.9,1803.93 165.65,1801.46 166.4,1800.91 167.15,1800.84 167.9,1798.65 168.65,1797.71 169.4,1799.01 170.15,1797.64 170.9,1785.8 171.65,1798.31 172.4,1797.13 173.15,1788.69 173.9,1791.09 174.65,1784.04 175.4,1773.76 176.15,1785.63 176.9,1781.95 177.65,1774.22 178.4,1776.13 179.15,1774.3 179.9,1761.98 180.65,1773.16 181.4,1753.12 182.15,1766.7 182.9,1754.63 183.65,1755.05 184.4,1753.1 185.15,1750.49 185.9,1745.37 186.65,1742.6 187.4,1735.91 188.15,1732.36 188.9,1735.71 189.65,1729.59 190.4,1716.46 191.15,1705.11 191.9,1718.76 192.65,1709.73 193.4,1712.71 194.15,1703.59 194.9,1705.71 195.65,1692.08 196.4,1680.24 197.15,1693.63 197.9,1688.75 198.65,1681.39 199.4,1685.92 200.15,1660.35 200.9,1667.83 201.65,1674.29 202.4,1678.77 203.15,1681.68 203.9,1685.87 204.65,1687.29 205.4,1688.45 206.15,1668.3 206.9,1696.98 207.65,1710.09 208.4,1696.85 209.15,1719.22 209.9,1723.87 210.65,1735.24 211.4,1733.32 212.15,1750.96 212.9,1764.56 213.65,1765.21 214.4,1772.88 215.15,1782.13 215.9,1788.87 216.65,1791.91 217.4,1802.49 218.15,1807.3 218.9,1810.4 219.65,1814.26 220.4,1817.81 221.15,1818.07 221.9,1820.38 222.65,1822.4 223.4,1821.36 224.15,1822.4 224.9,1822.4 224.9,1822.4" fill="#f43a3e" clip-path="url(#cl9)"/>
<polyline points="104.9,1820.6 105.65,1820.42 106.4,1821.15 107.15,1821.85 107.9,1818.87 108.65,1819.28 109.4,1821.72 110.15,1820.87 110.9,1821.42 111.65,1821.46 112.4,1819.86 113.15,1819.73 113.9,1820.9 114.65,1816.69 115.4,1819.7 116.15,1820.4 116.9,1819.82 117.65,1818.85 118.4,1821.32 119.15,1813.09 119.9,1820.8 120.65,1820.31 121.4,1821.35 122.15,1820.74 122.9,1820.37 123.65,1820.38 124.4,1818.96 125.15,1818.68 125.9,1820.33 126.65,1818.36 127.4,1820.14 128.15,1820.33 128.9,1820.05 129.65,1820.74 130.4,1817.9 131.15,1819.52 131.9,1819.15 132.65,1819.46 133.4,1819.6 134.15,1817.73 134.9,1817.93 135.65,1817.87 136.4,1818.18 137.15,1818.56 137.9,1816.23 138.65,1818.12 139.4,1816.52 140.15,1810.01 140.9,1813.85 141.65,1811.76 142.4,1813.6 143.15,1814.63 143.9,1816.39 144.65,1815.08 145.4,1814.58 146.15,1814.53 146.9,1813.52 147.65,1813.29 148.4,1814.32 149.15,1812.52 149.9,1810.04 150.65,1813.53 151.4,1812.02 152.15,1812.54 152.9,1811.33 153.65,1811.33 154.4,1810.04 155.15,1812.92 155.9,1812.61 156.65,1809.55 157.4,1808.06 158.15,1809.22 158.9,1801.05 159.65,1808.46 160.4,1809.78 161.15,1808.02 161.9,1805.01 162.65,1804.33 163.4,1806.37 164.15,1804.57 164.9,1803.93 165.65,1801.46 166.4,1800.91 167.15,1800.84 167.9,1798.65 168.65,1797.71 169.4,1799.01 170.15,1797.64 170.9,1785.8 171.65,1798.31 172.4,1797.13 173.15,1788.69 173.9,1791.09 174.65,1784.04 175.4,1773.76 176.15,1785.63 176.9,1781.95 177.65,1774.22 178.4,1776.13 179.15,1774.3 179.9,1761.98 180.65,1773.16 181.4,1753.12 182.15,1766.7 182.9,1754.63 183.65,1755.05 184.4,1753.1 185.15,1750.49 185.9,1745.37 186.65,1742.6 187.4,1735.91 188.15,1732.36 188.9,1735.71 189.65,1729.59 190.4,1716.46 191.15,1705.11 191.9,1718.76 192.65,1709.73 193.4,1712.71 194.15,1703.59 194.9,1705.71 195.65,1692.08 196.4,1680.24 197.15,1693.63 197.9,1688.75 198.65,1681.39 199.4,1685.92 200.15,1660.35 200.9,1667.83 201.65,1674.29 202.4,1678.77 203.15,1681.68 203.9,1685.87 204.65,1687.29 205.4,1688.45 206.15,1668.3 206.9,1696.98 207.65,1710.09 208.4,1696.85 209.15,1719.22 209.9,1723.87 210.65,1735.24 211.4,1733.32 212.15,1750.96 212.9,1764.56 213.65,1765.21 214.4,1772.88 215.15,1782.13 215.9,1788.87 216.65,1791.91 217.4,1802.49 218.15,1807.3 218.9,1810.4 219.65,1814.26 220.4,1817.81 221.15,1818.07 221.9,1820.38 222.65,1822.4 223.4,1821.36 224.15,1822.4 224.9,1822.4" fill="none" stroke="#ff1c1c" stroke-width="1.15" stroke-linejoin="round"/>
<line x1="207" y1="1822.4" x2="207" y2="1710.09" stroke="#e82020" stroke-width="1"/>
<line x1="105" y1="1822.4" x2="105" y2="1636.67" stroke="#e01818" stroke-width="1.1"/>
<line x1="207" y1="1652" x2="295" y2="1652" stroke="#f42222" stroke-width="1.1"/>
<line x1="207" y1="1647" x2="207" y2="1657" stroke="#f42222" stroke-width="1.1"/>
<line x1="295" y1="1647" x2="295" y2="1657" stroke="#f42222" stroke-width="1.1"/>
<text x="207" y="1640" font-size="10.5" fill="#f02828">P2(15.46%)</text>
<line x1="99.4" y1="1822.4" x2="104.4" y2="1822.4" stroke="#333" stroke-width="1"/>
<text x="94.9" y="1822.4" font-size="10.5" transform="rotate(-90 94.9 1822.4)" text-anchor="middle" fill="#222">0</text>
<line x1="101.4" y1="1822.27" x2="104.4" y2="1822.27" stroke="#333" stroke-width="1"/>
<line x1="101.4" y1="1822.15" x2="104.4" y2="1822.15" stroke="#333" stroke-width="1"/>
<line x1="101.4" y1="1822.02" x2="104.4" y2="1822.02" stroke="#333" stroke-width="1"/>
<line x1="101.4" y1="1821.9" x2="104.4" y2="1821.9" stroke="#333" stroke-width="1"/>
<line x1="99.4" y1="1759.3" x2="104.4" y2="1759.3" stroke="#333" stroke-width="1"/>
<text x="94.9" y="1759.3" font-size="10.5" transform="rotate(-90 94.9 1759.3)" text-anchor="middle" fill="#222">100</text>
<line x1="101.4" y1="1759.17" x2="104.4" y2="1759.17" stroke="#333" stroke-width="1"/>
<line x1="101.4" y1="1759.05" x2="104.4" y2="1759.05" stroke="#333" stroke-width="1"/>
<line x1="101.4" y1="1758.92" x2="104.4" y2="1758.92" stroke="#333" stroke-width="1"/>
<line x1="101.4" y1="1758.8" x2="104.4" y2="1758.8" stroke="#333" stroke-width="1"/>
<line x1="99.4" y1="1696.2" x2="104.4" y2="1696.2" stroke="#333" stroke-width="1"/>
<text x="94.9" y="1696.2" font-size="10.5" transform="rotate(-90 94.9 1696.2)" text-anchor="middle" fill="#222">200</text>
<line x1="101.4" y1="1696.07" x2="104.4" y2="1696.07" stroke="#333" stroke-width="1"/>
<line x1="101.4" y1="1695.95" x2="104.4" y2="1695.95" stroke="#333" stroke-width="1"/>
<line x1="101.4" y1="1695.82" x2="104.4" y2="1695.82" stroke="#333" stroke-width="1"/>
<line x1="101.4" y1="1695.7" x2="104.4" y2="1695.7" stroke="#333" stroke-width="1"/>
<line x1="99.4" y1="1633.1" x2="104.4" y2="1633.1" stroke="#333" stroke-width="1"/>
<text x="94.9" y="1633.1" font-size="10.5" transform="rotate(-90 94.9 1633.1)" text-anchor="middle" fill="#222">300</text>
<line x1="101.4" y1="1632.97" x2="104.4" y2="1632.97" stroke="#333" stroke-width="1"/>
<line x1="101.4" y1="1632.85" x2="104.4" y2="1632.85" stroke="#333" stroke-width="1"/>
<line x1="101.4" y1="1632.72" x2="104.4" y2="1632.72" stroke="#333" stroke-width="1"/>
<line x1="101.4" y1="1632.6" x2="104.4" y2="1632.6" stroke="#333" stroke-width="1"/>
<text x="82.4" y="1724.05" font-size="10.5" transform="rotate(-90 82.4 1724.05)" text-anchor="middle" fill="#222">Count</text>
<line x1="104.81" y1="1822.4" x2="104.81" y2="1825.4" stroke="#333" stroke-width="1"/>
<line x1="108.43" y1="1822.4" x2="108.43" y2="1825.4" stroke="#333" stroke-width="1"/>
<line x1="111.49" y1="1822.4" x2="111.49" y2="1825.4" stroke="#333" stroke-width="1"/>
<line x1="114.14" y1="1822.4" x2="114.14" y2="1825.4" stroke="#333" stroke-width="1"/>
<line x1="116.48" y1="1822.4" x2="116.48" y2="1825.4" stroke="#333" stroke-width="1"/>
<line x1="118.58" y1="1822.4" x2="118.58" y2="1827.4" stroke="#333" stroke-width="1"/>
<line x1="132.34" y1="1822.4" x2="132.34" y2="1825.4" stroke="#333" stroke-width="1"/>
<line x1="140.4" y1="1822.4" x2="140.4" y2="1825.4" stroke="#333" stroke-width="1"/>
<line x1="146.11" y1="1822.4" x2="146.11" y2="1825.4" stroke="#333" stroke-width="1"/>
<line x1="150.54" y1="1822.4" x2="150.54" y2="1825.4" stroke="#333" stroke-width="1"/>
<line x1="154.16" y1="1822.4" x2="154.16" y2="1825.4" stroke="#333" stroke-width="1"/>
<line x1="157.22" y1="1822.4" x2="157.22" y2="1825.4" stroke="#333" stroke-width="1"/>
<line x1="159.88" y1="1822.4" x2="159.88" y2="1825.4" stroke="#333" stroke-width="1"/>
<line x1="162.21" y1="1822.4" x2="162.21" y2="1825.4" stroke="#333" stroke-width="1"/>
<text x="120.58" y="1840.4" font-size="10.5" fill="#222" text-anchor="middle">10<tspan dy="-4.5" font-size="7">1</tspan></text>
<line x1="164.31" y1="1822.4" x2="164.31" y2="1827.4" stroke="#333" stroke-width="1"/>
<line x1="178.07" y1="1822.4" x2="178.07" y2="1825.4" stroke="#333" stroke-width="1"/>
<line x1="186.13" y1="1822.4" x2="186.13" y2="1825.4" stroke="#333" stroke-width="1"/>
<line x1="191.84" y1="1822.4" x2="191.84" y2="1825.4" stroke="#333" stroke-width="1"/>
<line x1="196.27" y1="1822.4" x2="196.27" y2="1825.4" stroke="#333" stroke-width="1"/>
<line x1="199.89" y1="1822.4" x2="199.89" y2="1825.4" stroke="#333" stroke-width="1"/>
<line x1="202.95" y1="1822.4" x2="202.95" y2="1825.4" stroke="#333" stroke-width="1"/>
<line x1="205.61" y1="1822.4" x2="205.61" y2="1825.4" stroke="#333" stroke-width="1"/>
<line x1="207.95" y1="1822.4" x2="207.95" y2="1825.4" stroke="#333" stroke-width="1"/>
<text x="166.31" y="1840.4" font-size="10.5" fill="#222" text-anchor="middle">10<tspan dy="-4.5" font-size="7">2</tspan></text>
<line x1="210.04" y1="1822.4" x2="210.04" y2="1827.4" stroke="#333" stroke-width="1"/>
<line x1="223.8" y1="1822.4" x2="223.8" y2="1825.4" stroke="#333" stroke-width="1"/>
<line x1="231.86" y1="1822.4" x2="231.86" y2="1825.4" stroke="#333" stroke-width="1"/>
<line x1="237.57" y1="1822.4" x2="237.57" y2="1825.4" stroke="#333" stroke-width="1"/>
<line x1="242" y1="1822.4" x2="242" y2="1825.4" stroke="#333" stroke-width="1"/>
<line x1="245.62" y1="1822.4" x2="245.62" y2="1825.4" stroke="#333" stroke-width="1"/>
<line x1="248.69" y1="1822.4" x2="248.69" y2="1825.4" stroke="#333" stroke-width="1"/>
<line x1="251.34" y1="1822.4" x2="251.34" y2="1825.4" stroke="#333" stroke-width="1"/>
<line x1="253.68" y1="1822.4" x2="253.68" y2="1825.4" stroke="#333" stroke-width="1"/>
<text x="212.04" y="1840.4" font-size="10.5" fill="#222" text-anchor="middle">10<tspan dy="-4.5" font-size="7">3</tspan></text>
<line x1="255.77" y1="1822.4" x2="255.77" y2="1827.4" stroke="#333" stroke-width="1"/>
<line x1="269.54" y1="1822.4" x2="269.54" y2="1825.4" stroke="#333" stroke-width="1"/>
<line x1="277.59" y1="1822.4" x2="277.59" y2="1825.4" stroke="#333" stroke-width="1"/>
<line x1="283.3" y1="1822.4" x2="283.3" y2="1825.4" stroke="#333" stroke-width="1"/>
<line x1="287.73" y1="1822.4" x2="287.73" y2="1825.4" stroke="#333" stroke-width="1"/>
<line x1="291.35" y1="1822.4" x2="291.35" y2="1825.4" stroke="#333" stroke-width="1"/>
<line x1="294.42" y1="1822.4" x2="294.42" y2="1825.4" stroke="#333" stroke-width="1"/>
<line x1="297.07" y1="1822.4" x2="297.07" y2="1825.4" stroke="#333" stroke-width="1"/>
<line x1="299.41" y1="1822.4" x2="299.41" y2="1825.4" stroke="#333" stroke-width="1"/>
<text x="257.77" y="1840.4" font-size="10.5" fill="#222" text-anchor="middle">10<tspan dy="-4.5" font-size="7">4</tspan></text>
<line x1="301.5" y1="1822.4" x2="301.5" y2="1827.4" stroke="#333" stroke-width="1"/>
<text x="303.5" y="1840.4" font-size="10.5" fill="#222" text-anchor="middle">10<tspan dy="-4.5" font-size="7">5</tspan></text>
<text x="202.95" y="1853.4" font-size="10.5" text-anchor="middle" fill="#222">CD86 APC-A</text>
<text x="196.95" y="1620.2" font-size="10" text-anchor="middle" fill="#222">oeNC : P1</text>
<rect x="345.4" y="1625.7" width="196.6" height="196.7" fill="none" stroke="#333" stroke-width="1"/>
<polygon points="345.9,1822.4 345.9,1819.83 346.65,1819.56 347.4,1820.47 348.15,1818.92 348.9,1819.44 349.65,1817.66 350.4,1817.47 351.15,1818.51 351.9,1819.29 352.65,1818.86 353.4,1818.79 354.15,1818.06 354.9,1817.31 355.65,1818.56 356.4,1819.08 357.15,1818.08 357.9,1812.98 358.65,1816.59 359.4,1814.52 360.15,1816.35 360.9,1815.16 361.65,1816.81 362.4,1817.5 363.15,1817 363.9,1815.45 364.65,1814.36 365.4,1815.77 366.15,1814.97 366.9,1812.87 367.65,1813.98 368.4,1816.39 369.15,1814.25 369.9,1814.82 370.65,1814.23 371.4,1816.26 372.15,1811.86 372.9,1811.14 373.65,1811.69 374.4,1812.09 375.15,1811.48 375.9,1809.31 376.65,1812.09 377.4,1808.73 378.15,1808.77 378.9,1809.22 379.65,1804.63 380.4,1812.03 381.15,1811.96 381.9,1810.48 382.65,1809.95 383.4,1809.93 384.15,1806.75 384.9,1807.71 385.65,1807.05 386.4,1804.56 387.15,1804.83 387.9,1806.04 388.65,1803 389.4,1804.28 390.15,1804.55 390.9,1801.01 391.65,1800.34 392.4,1801.43 393.15,1802.03 393.9,1799.03 394.65,1796.5 395.4,1799.07 396.15,1798.7 396.9,1794.72 397.65,1802.64 398.4,1789.77 399.15,1792.55 399.9,1792.85 400.65,1790.95 401.4,1784.82 402.15,1784.95 402.9,1787.12 403.65,1789.57 404.4,1781.05 405.15,1780.62 405.9,1777.37 406.65,1773.08 407.4,1771.59 408.15,1769.11 408.9,1773.34 409.65,1758.18 410.4,1761.74 411.15,1756.38 411.9,1760.67 412.65,1755.31 413.4,1757.19 414.15,1740.89 414.9,1748.6 415.65,1737.89 416.4,1739.34 417.15,1750.53 417.9,1736.71 418.65,1730.37 419.4,1724.43 420.15,1726.3 420.9,1718.98 421.65,1711.96 422.4,1727.53 423.15,1714.6 423.9,1709.5 424.65,1710.75 425.4,1701.84 426.15,1696.56 426.9,1699.45 427.65,1708.95 428.4,1676.27 429.15,1688.88 429.9,1690.87 430.65,1691.8 431.4,1690.22 432.15,1667.02 432.9,1677.75 433.65,1660.13 434.4,1679.56 435.15,1680.81 435.9,1675.54 436.65,1680.9 437.4,1675.09 438.15,1697.76 438.9,1686.57 439.65,1702.91 440.4,1698.75 441.15,1710.22 441.9,1705.32 442.65,1716.18 443.4,1717.09 444.15,1728.6 444.9,1732.89 445.65,1743.5 446.4,1743.48 447.15,1751.27 447.9,1764.59 448.65,1769.68 449.4,1774.05 450.15,1781.41 450.9,1786.92 451.65,1795.17 452.4,1800.7 453.15,1803.12 453.9,1808.11 454.65,1809.64 455.4,1814.26 456.15,1815.56 456.9,1817.71 457.65,1820.08 458.4,1821.48 459.15,1822.4 459.9,1822.4 459.9,1822.4" fill="#f07a80"/>
<clipPath id="cl10"><rect x="448" y="1625.7" width="94" height="196.7"/></clipPath>
<polygon points="345.9,1822.4 345.9,1819.83 346.65,1819.56 347.4,1820.47 348.15,1818.92 348.9,1819.44 349.65,1817.66 350.4,1817.47 351.15,1818.51 351.9,1819.29 352.65,1818.86 353.4,1818.79 354.15,1818.06 354.9,1817.31 355.65,1818.56 356.4,1819.08 357.15,1818.08 357.9,1812.98 358.65,1816.59 359.4,1814.52 360.15,1816.35 360.9,1815.16 361.65,1816.81 362.4,1817.5 363.15,1817 363.9,1815.45 364.65,1814.36 365.4,1815.77 366.15,1814.97 366.9,1812.87 367.65,1813.98 368.4,1816.39 369.15,1814.25 369.9,1814.82 370.65,1814.23 371.4,1816.26 372.15,1811.86 372.9,1811.14 373.65,1811.69 374.4,1812.09 375.15,1811.48 375.9,1809.31 376.65,1812.09 377.4,1808.73 378.15,1808.77 378.9,1809.22 379.65,1804.63 380.4,1812.03 381.15,1811.96 381.9,1810.48 382.65,1809.95 383.4,1809.93 384.15,1806.75 384.9,1807.71 385.65,1807.05 386.4,1804.56 387.15,1804.83 387.9,1806.04 388.65,1803 389.4,1804.28 390.15,1804.55 390.9,1801.01 391.65,1800.34 392.4,1801.43 393.15,1802.03 393.9,1799.03 394.65,1796.5 395.4,1799.07 396.15,1798.7 396.9,1794.72 397.65,1802.64 398.4,1789.77 399.15,1792.55 399.9,1792.85 400.65,1790.95 401.4,1784.82 402.15,1784.95 402.9,1787.12 403.65,1789.57 404.4,1781.05 405.15,1780.62 405.9,1777.37 406.65,1773.08 407.4,1771.59 408.15,1769.11 408.9,1773.34 409.65,1758.18 410.4,1761.74 411.15,1756.38 411.9,1760.67 412.65,1755.31 413.4,1757.19 414.15,1740.89 414.9,1748.6 415.65,1737.89 416.4,1739.34 417.15,1750.53 417.9,1736.71 418.65,1730.37 419.4,1724.43 420.15,1726.3 420.9,1718.98 421.65,1711.96 422.4,1727.53 423.15,1714.6 423.9,1709.5 424.65,1710.75 425.4,1701.84 426.15,1696.56 426.9,1699.45 427.65,1708.95 428.4,1676.27 429.15,1688.88 429.9,1690.87 430.65,1691.8 431.4,1690.22 432.15,1667.02 432.9,1677.75 433.65,1660.13 434.4,1679.56 435.15,1680.81 435.9,1675.54 436.65,1680.9 437.4,1675.09 438.15,1697.76 438.9,1686.57 439.65,1702.91 440.4,1698.75 441.15,1710.22 441.9,1705.32 442.65,1716.18 443.4,1717.09 444.15,1728.6 444.9,1732.89 445.65,1743.5 446.4,1743.48 447.15,1751.27 447.9,1764.59 448.65,1769.68 449.4,1774.05 450.15,1781.41 450.9,1786.92 451.65,1795.17 452.4,1800.7 453.15,1803.12 453.9,1808.11 454.65,1809.64 455.4,1814.26 456.15,1815.56 456.9,1817.71 457.65,1820.08 458.4,1821.48 459.15,1822.4 459.9,1822.4 459.9,1822.4" fill="#f43a3e" clip-path="url(#cl10)"/>
<polyline points="345.9,1819.83 346.65,1819.56 347.4,1820.47 348.15,1818.92 348.9,1819.44 349.65,1817.66 350.4,1817.47 351.15,1818.51 351.9,1819.29 352.65,1818.86 353.4,1818.79 354.15,1818.06 354.9,1817.31 355.65,1818.56 356.4,1819.08 357.15,1818.08 357.9,1812.98 358.65,1816.59 359.4,1814.52 360.15,1816.35 360.9,1815.16 361.65,1816.81 362.4,1817.5 363.15,1817 363.9,1815.45 364.65,1814.36 365.4,1815.77 366.15,1814.97 366.9,1812.87 367.65,1813.98 368.4,1816.39 369.15,1814.25 369.9,1814.82 370.65,1814.23 371.4,1816.26 372.15,1811.86 372.9,1811.14 373.65,1811.69 374.4,1812.09 375.15,1811.48 375.9,1809.31 376.65,1812.09 377.4,1808.73 378.15,1808.77 378.9,1809.22 379.65,1804.63 380.4,1812.03 381.15,1811.96 381.9,1810.48 382.65,1809.95 383.4,1809.93 384.15,1806.75 384.9,1807.71 385.65,1807.05 386.4,1804.56 387.15,1804.83 387.9,1806.04 388.65,1803 389.4,1804.28 390.15,1804.55 390.9,1801.01 391.65,1800.34 392.4,1801.43 393.15,1802.03 393.9,1799.03 394.65,1796.5 395.4,1799.07 396.15,1798.7 396.9,1794.72 397.65,1802.64 398.4,1789.77 399.15,1792.55 399.9,1792.85 400.65,1790.95 401.4,1784.82 402.15,1784.95 402.9,1787.12 403.65,1789.57 404.4,1781.05 405.15,1780.62 405.9,1777.37 406.65,1773.08 407.4,1771.59 408.15,1769.11 408.9,1773.34 409.65,1758.18 410.4,1761.74 411.15,1756.38 411.9,1760.67 412.65,1755.31 413.4,1757.19 414.15,1740.89 414.9,1748.6 415.65,1737.89 416.4,1739.34 417.15,1750.53 417.9,1736.71 418.65,1730.37 419.4,1724.43 420.15,1726.3 420.9,1718.98 421.65,1711.96 422.4,1727.53 423.15,1714.6 423.9,1709.5 424.65,1710.75 425.4,1701.84 426.15,1696.56 426.9,1699.45 427.65,1708.95 428.4,1676.27 429.15,1688.88 429.9,1690.87 430.65,1691.8 431.4,1690.22 432.15,1667.02 432.9,1677.75 433.65,1660.13 434.4,1679.56 435.15,1680.81 435.9,1675.54 436.65,1680.9 437.4,1675.09 438.15,1697.76 438.9,1686.57 439.65,1702.91 440.4,1698.75 441.15,1710.22 441.9,1705.32 442.65,1716.18 443.4,1717.09 444.15,1728.6 444.9,1732.89 445.65,1743.5 446.4,1743.48 447.15,1751.27 447.9,1764.59 448.65,1769.68 449.4,1774.05 450.15,1781.41 450.9,1786.92 451.65,1795.17 452.4,1800.7 453.15,1803.12 453.9,1808.11 454.65,1809.64 455.4,1814.26 456.15,1815.56 456.9,1817.71 457.65,1820.08 458.4,1821.48 459.15,1822.4 459.9,1822.4" fill="none" stroke="#ff1c1c" stroke-width="1.15" stroke-linejoin="round"/>
<line x1="448" y1="1822.4" x2="448" y2="1769.68" stroke="#e82020" stroke-width="1"/>
<line x1="346" y1="1822.4" x2="346" y2="1636.22" stroke="#e01818" stroke-width="1.1"/>
<line x1="448" y1="1652" x2="536.1" y2="1652" stroke="#f42222" stroke-width="1.1"/>
<line x1="448" y1="1647" x2="448" y2="1657" stroke="#f42222" stroke-width="1.1"/>
<line x1="536.1" y1="1647" x2="536.1" y2="1657" stroke="#f42222" stroke-width="1.1"/>
<text x="448" y="1640" font-size="10.5" fill="#f02828">P2(3.24%)</text>
<line x1="340.4" y1="1822.4" x2="345.4" y2="1822.4" stroke="#333" stroke-width="1"/>
<text x="335.9" y="1822.4" font-size="10.5" transform="rotate(-90 335.9 1822.4)" text-anchor="middle" fill="#222">0</text>
<line x1="342.4" y1="1822.24" x2="345.4" y2="1822.24" stroke="#333" stroke-width="1"/>
<line x1="342.4" y1="1822.07" x2="345.4" y2="1822.07" stroke="#333" stroke-width="1"/>
<line x1="342.4" y1="1821.91" x2="345.4" y2="1821.91" stroke="#333" stroke-width="1"/>
<line x1="342.4" y1="1821.74" x2="345.4" y2="1821.74" stroke="#333" stroke-width="1"/>
<line x1="340.4" y1="1740" x2="345.4" y2="1740" stroke="#333" stroke-width="1"/>
<text x="335.9" y="1740" font-size="10.5" transform="rotate(-90 335.9 1740)" text-anchor="middle" fill="#222">100</text>
<line x1="342.4" y1="1739.84" x2="345.4" y2="1739.84" stroke="#333" stroke-width="1"/>
<line x1="342.4" y1="1739.67" x2="345.4" y2="1739.67" stroke="#333" stroke-width="1"/>
<line x1="342.4" y1="1739.51" x2="345.4" y2="1739.51" stroke="#333" stroke-width="1"/>
<line x1="342.4" y1="1739.34" x2="345.4" y2="1739.34" stroke="#333" stroke-width="1"/>
<line x1="340.4" y1="1657.6" x2="345.4" y2="1657.6" stroke="#333" stroke-width="1"/>
<text x="335.9" y="1657.6" font-size="10.5" transform="rotate(-90 335.9 1657.6)" text-anchor="middle" fill="#222">200</text>
<line x1="342.4" y1="1657.44" x2="345.4" y2="1657.44" stroke="#333" stroke-width="1"/>
<line x1="342.4" y1="1657.27" x2="345.4" y2="1657.27" stroke="#333" stroke-width="1"/>
<line x1="342.4" y1="1657.11" x2="345.4" y2="1657.11" stroke="#333" stroke-width="1"/>
<line x1="342.4" y1="1656.94" x2="345.4" y2="1656.94" stroke="#333" stroke-width="1"/>
<text x="323.4" y="1724.05" font-size="10.5" transform="rotate(-90 323.4 1724.05)" text-anchor="middle" fill="#222">Count</text>
<line x1="345.81" y1="1822.4" x2="345.81" y2="1825.4" stroke="#333" stroke-width="1"/>
<line x1="349.42" y1="1822.4" x2="349.42" y2="1825.4" stroke="#333" stroke-width="1"/>
<line x1="352.47" y1="1822.4" x2="352.47" y2="1825.4" stroke="#333" stroke-width="1"/>
<line x1="355.12" y1="1822.4" x2="355.12" y2="1825.4" stroke="#333" stroke-width="1"/>
<line x1="357.45" y1="1822.4" x2="357.45" y2="1825.4" stroke="#333" stroke-width="1"/>
<line x1="359.54" y1="1822.4" x2="359.54" y2="1827.4" stroke="#333" stroke-width="1"/>
<line x1="373.27" y1="1822.4" x2="373.27" y2="1825.4" stroke="#333" stroke-width="1"/>
<line x1="381.3" y1="1822.4" x2="381.3" y2="1825.4" stroke="#333" stroke-width="1"/>
<line x1="387" y1="1822.4" x2="387" y2="1825.4" stroke="#333" stroke-width="1"/>
<line x1="391.42" y1="1822.4" x2="391.42" y2="1825.4" stroke="#333" stroke-width="1"/>
<line x1="395.04" y1="1822.4" x2="395.04" y2="1825.4" stroke="#333" stroke-width="1"/>
<line x1="398.09" y1="1822.4" x2="398.09" y2="1825.4" stroke="#333" stroke-width="1"/>
<line x1="400.73" y1="1822.4" x2="400.73" y2="1825.4" stroke="#333" stroke-width="1"/>
<line x1="403.07" y1="1822.4" x2="403.07" y2="1825.4" stroke="#333" stroke-width="1"/>
<text x="361.54" y="1840.4" font-size="10.5" fill="#222" text-anchor="middle">10<tspan dy="-4.5" font-size="7">1</tspan></text>
<line x1="405.16" y1="1822.4" x2="405.16" y2="1827.4" stroke="#333" stroke-width="1"/>
<line x1="418.89" y1="1822.4" x2="418.89" y2="1825.4" stroke="#333" stroke-width="1"/>
<line x1="426.92" y1="1822.4" x2="426.92" y2="1825.4" stroke="#333" stroke-width="1"/>
<line x1="432.62" y1="1822.4" x2="432.62" y2="1825.4" stroke="#333" stroke-width="1"/>
<line x1="437.04" y1="1822.4" x2="437.04" y2="1825.4" stroke="#333" stroke-width="1"/>
<line x1="440.65" y1="1822.4" x2="440.65" y2="1825.4" stroke="#333" stroke-width="1"/>
<line x1="443.7" y1="1822.4" x2="443.7" y2="1825.4" stroke="#333" stroke-width="1"/>
<line x1="446.35" y1="1822.4" x2="446.35" y2="1825.4" stroke="#333" stroke-width="1"/>
<line x1="448.68" y1="1822.4" x2="448.68" y2="1825.4" stroke="#333" stroke-width="1"/>
<text x="407.16" y="1840.4" font-size="10.5" fill="#222" text-anchor="middle">10<tspan dy="-4.5" font-size="7">2</tspan></text>
<line x1="450.77" y1="1822.4" x2="450.77" y2="1827.4" stroke="#333" stroke-width="1"/>
<line x1="464.5" y1="1822.4" x2="464.5" y2="1825.4" stroke="#333" stroke-width="1"/>
<line x1="472.53" y1="1822.4" x2="472.53" y2="1825.4" stroke="#333" stroke-width="1"/>
<line x1="478.23" y1="1822.4" x2="478.23" y2="1825.4" stroke="#333" stroke-width="1"/>
<line x1="482.65" y1="1822.4" x2="482.65" y2="1825.4" stroke="#333" stroke-width="1"/>
<line x1="486.27" y1="1822.4" x2="486.27" y2="1825.4" stroke="#333" stroke-width="1"/>
<line x1="489.32" y1="1822.4" x2="489.32" y2="1825.4" stroke="#333" stroke-width="1"/>
<line x1="491.96" y1="1822.4" x2="491.96" y2="1825.4" stroke="#333" stroke-width="1"/>
<line x1="494.3" y1="1822.4" x2="494.3" y2="1825.4" stroke="#333" stroke-width="1"/>
<text x="452.77" y="1840.4" font-size="10.5" fill="#222" text-anchor="middle">10<tspan dy="-4.5" font-size="7">3</tspan></text>
<line x1="496.39" y1="1822.4" x2="496.39" y2="1827.4" stroke="#333" stroke-width="1"/>
<line x1="510.12" y1="1822.4" x2="510.12" y2="1825.4" stroke="#333" stroke-width="1"/>
<line x1="518.15" y1="1822.4" x2="518.15" y2="1825.4" stroke="#333" stroke-width="1"/>
<line x1="523.85" y1="1822.4" x2="523.85" y2="1825.4" stroke="#333" stroke-width="1"/>
<line x1="528.27" y1="1822.4" x2="528.27" y2="1825.4" stroke="#333" stroke-width="1"/>
<line x1="531.88" y1="1822.4" x2="531.88" y2="1825.4" stroke="#333" stroke-width="1"/>
<line x1="534.93" y1="1822.4" x2="534.93" y2="1825.4" stroke="#333" stroke-width="1"/>
<line x1="537.58" y1="1822.4" x2="537.58" y2="1825.4" stroke="#333" stroke-width="1"/>
<line x1="539.91" y1="1822.4" x2="539.91" y2="1825.4" stroke="#333" stroke-width="1"/>
<text x="498.39" y="1840.4" font-size="10.5" fill="#222" text-anchor="middle">10<tspan dy="-4.5" font-size="7">4</tspan></text>
<line x1="542" y1="1822.4" x2="542" y2="1827.4" stroke="#333" stroke-width="1"/>
<text x="544" y="1840.4" font-size="10.5" fill="#222" text-anchor="middle">10<tspan dy="-4.5" font-size="7">5</tspan></text>
<text x="443.7" y="1853.4" font-size="10.5" text-anchor="middle" fill="#222">CD86 APC-A</text>
<text x="437.7" y="1620.2" font-size="10" text-anchor="middle" fill="#222">oe-BMAL1 : P1</text>
<rect x="579.2" y="1625.7" width="197.3" height="196.7" fill="none" stroke="#333" stroke-width="1"/>
<polygon points="579.7,1822.4 579.7,1818.7 580.45,1818.4 581.2,1819.95 581.95,1819.77 582.7,1818.17 583.45,1818.85 584.2,1817.97 584.95,1819.82 585.7,1817.54 586.45,1817.32 587.2,1819.32 587.95,1817.78 588.7,1817.21 589.45,1816.8 590.2,1817.65 590.95,1817.07 591.7,1818.9 592.45,1817.25 593.2,1816.49 593.95,1817.14 594.7,1817.36 595.45,1817.26 596.2,1817.34 596.95,1818 597.7,1818.41 598.45,1815.34 599.2,1814.57 599.95,1816.64 600.7,1817.2 601.45,1816.53 602.2,1813.67 602.95,1815.01 603.7,1813.33 604.45,1813.04 605.2,1816.08 605.95,1815.18 606.7,1816.4 607.45,1814.21 608.2,1811.85 608.95,1811.65 609.7,1810.43 610.45,1811.58 611.2,1812.45 611.95,1813.22 612.7,1812.25 613.45,1809.36 614.2,1810.19 614.95,1812.98 615.7,1808.98 616.45,1808.97 617.2,1807.71 617.95,1806.5 618.7,1809.26 619.45,1807.53 620.2,1808.88 620.95,1810.48 621.7,1807.87 622.45,1807.52 623.2,1805.2 623.95,1803.82 624.7,1795.57 625.45,1803.27 626.2,1800.37 626.95,1801.65 627.7,1803.19 628.45,1801.5 629.2,1800.9 629.95,1804.34 630.7,1801.38 631.45,1796.53 632.2,1797.52 632.95,1796.01 633.7,1797.22 634.45,1798.64 635.2,1795.23 635.95,1795.38 636.7,1796.49 637.45,1791.23 638.2,1786.37 638.95,1785.25 639.7,1784.23 640.45,1782.05 641.2,1782.33 641.95,1784.2 642.7,1771.93 643.45,1775.63 644.2,1772.83 644.95,1776.51 645.7,1765.53 646.45,1742.92 647.2,1761.58 647.95,1757.81 648.7,1744.46 649.45,1755.71 650.2,1758.58 650.95,1750.08 651.7,1746.01 652.45,1747.03 653.2,1744.07 653.95,1749.61 654.7,1734.03 655.45,1727.93 656.2,1740.08 656.95,1730.07 657.7,1717.37 658.45,1719.99 659.2,1720.02 659.95,1712.89 660.7,1724.88 661.45,1705.25 662.2,1710.42 662.95,1706.35 663.7,1695.22 664.45,1701.02 665.2,1699.67 665.95,1696.68 666.7,1690.99 667.45,1684.9 668.2,1681.66 668.95,1686.86 669.7,1690.48 670.45,1664.86 671.2,1674.71 671.95,1669.16 672.7,1684.37 673.45,1687.32 674.2,1675.52 674.95,1684.99 675.7,1680.79 676.45,1692.73 677.2,1698.29 677.95,1705.21 678.7,1700.09 679.45,1720.05 680.2,1729.22 680.95,1731.78 681.7,1748.86 682.45,1753.16 683.2,1766.83 683.95,1772.79 684.7,1779.53 685.45,1787.48 686.2,1794.93 686.95,1799.11 687.7,1808.57 688.45,1808.68 689.2,1813.18 689.95,1816.3 690.7,1819.74 691.45,1821.92 692.2,1821.04 692.95,1822.4 693.7,1822.4 693.7,1822.4" fill="#f07a80"/>
<clipPath id="cl11"><rect x="681.7" y="1625.7" width="94.8" height="196.7"/></clipPath>
<polygon points="579.7,1822.4 579.7,1818.7 580.45,1818.4 581.2,1819.95 581.95,1819.77 582.7,1818.17 583.45,1818.85 584.2,1817.97 584.95,1819.82 585.7,1817.54 586.45,1817.32 587.2,1819.32 587.95,1817.78 588.7,1817.21 589.45,1816.8 590.2,1817.65 590.95,1817.07 591.7,1818.9 592.45,1817.25 593.2,1816.49 593.95,1817.14 594.7,1817.36 595.45,1817.26 596.2,1817.34 596.95,1818 597.7,1818.41 598.45,1815.34 599.2,1814.57 599.95,1816.64 600.7,1817.2 601.45,1816.53 602.2,1813.67 602.95,1815.01 603.7,1813.33 604.45,1813.04 605.2,1816.08 605.95,1815.18 606.7,1816.4 607.45,1814.21 608.2,1811.85 608.95,1811.65 609.7,1810.43 610.45,1811.58 611.2,1812.45 611.95,1813.22 612.7,1812.25 613.45,1809.36 614.2,1810.19 614.95,1812.98 615.7,1808.98 616.45,1808.97 617.2,1807.71 617.95,1806.5 618.7,1809.26 619.45,1807.53 620.2,1808.88 620.95,1810.48 621.7,1807.87 622.45,1807.52 623.2,1805.2 623.95,1803.82 624.7,1795.57 625.45,1803.27 626.2,1800.37 626.95,1801.65 627.7,1803.19 628.45,1801.5 629.2,1800.9 629.95,1804.34 630.7,1801.38 631.45,1796.53 632.2,1797.52 632.95,1796.01 633.7,1797.22 634.45,1798.64 635.2,1795.23 635.95,1795.38 636.7,1796.49 637.45,1791.23 638.2,1786.37 638.95,1785.25 639.7,1784.23 640.45,1782.05 641.2,1782.33 641.95,1784.2 642.7,1771.93 643.45,1775.63 644.2,1772.83 644.95,1776.51 645.7,1765.53 646.45,1742.92 647.2,1761.58 647.95,1757.81 648.7,1744.46 649.45,1755.71 650.2,1758.58 650.95,1750.08 651.7,1746.01 652.45,1747.03 653.2,1744.07 653.95,1749.61 654.7,1734.03 655.45,1727.93 656.2,1740.08 656.95,1730.07 657.7,1717.37 658.45,1719.99 659.2,1720.02 659.95,1712.89 660.7,1724.88 661.45,1705.25 662.2,1710.42 662.95,1706.35 663.7,1695.22 664.45,1701.02 665.2,1699.67 665.95,1696.68 666.7,1690.99 667.45,1684.9 668.2,1681.66 668.95,1686.86 669.7,1690.48 670.45,1664.86 671.2,1674.71 671.95,1669.16 672.7,1684.37 673.45,1687.32 674.2,1675.52 674.95,1684.99 675.7,1680.79 676.45,1692.73 677.2,1698.29 677.95,1705.21 678.7,1700.09 679.45,1720.05 680.2,1729.22 680.95,1731.78 681.7,1748.86 682.45,1753.16 683.2,1766.83 683.95,1772.79 684.7,1779.53 685.45,1787.48 686.2,1794.93 686.95,1799.11 687.7,1808.57 688.45,1808.68 689.2,1813.18 689.95,1816.3 690.7,1819.74 691.45,1821.92 692.2,1821.04 692.95,1822.4 693.7,1822.4 693.7,1822.4" fill="#f43a3e" clip-path="url(#cl11)"/>
<polyline points="579.7,1818.7 580.45,1818.4 581.2,1819.95 581.95,1819.77 582.7,1818.17 583.45,1818.85 584.2,1817.97 584.95,1819.82 585.7,1817.54 586.45,1817.32 587.2,1819.32 587.95,1817.78 588.7,1817.21 589.45,1816.8 590.2,1817.65 590.95,1817.07 591.7,1818.9 592.45,1817.25 593.2,1816.49 593.95,1817.14 594.7,1817.36 595.45,1817.26 596.2,1817.34 596.95,1818 597.7,1818.41 598.45,1815.34 599.2,1814.57 599.95,1816.64 600.7,1817.2 601.45,1816.53 602.2,1813.67 602.95,1815.01 603.7,1813.33 604.45,1813.04 605.2,1816.08 605.95,1815.18 606.7,1816.4 607.45,1814.21 608.2,1811.85 608.95,1811.65 609.7,1810.43 610.45,1811.58 611.2,1812.45 611.95,1813.22 612.7,1812.25 613.45,1809.36 614.2,1810.19 614.95,1812.98 615.7,1808.98 616.45,1808.97 617.2,1807.71 617.95,1806.5 618.7,1809.26 619.45,1807.53 620.2,1808.88 620.95,1810.48 621.7,1807.87 622.45,1807.52 623.2,1805.2 623.95,1803.82 624.7,1795.57 625.45,1803.27 626.2,1800.37 626.95,1801.65 627.7,1803.19 628.45,1801.5 629.2,1800.9 629.95,1804.34 630.7,1801.38 631.45,1796.53 632.2,1797.52 632.95,1796.01 633.7,1797.22 634.45,1798.64 635.2,1795.23 635.95,1795.38 636.7,1796.49 637.45,1791.23 638.2,1786.37 638.95,1785.25 639.7,1784.23 640.45,1782.05 641.2,1782.33 641.95,1784.2 642.7,1771.93 643.45,1775.63 644.2,1772.83 644.95,1776.51 645.7,1765.53 646.45,1742.92 647.2,1761.58 647.95,1757.81 648.7,1744.46 649.45,1755.71 650.2,1758.58 650.95,1750.08 651.7,1746.01 652.45,1747.03 653.2,1744.07 653.95,1749.61 654.7,1734.03 655.45,1727.93 656.2,1740.08 656.95,1730.07 657.7,1717.37 658.45,1719.99 659.2,1720.02 659.95,1712.89 660.7,1724.88 661.45,1705.25 662.2,1710.42 662.95,1706.35 663.7,1695.22 664.45,1701.02 665.2,1699.67 665.95,1696.68 666.7,1690.99 667.45,1684.9 668.2,1681.66 668.95,1686.86 669.7,1690.48 670.45,1664.86 671.2,1674.71 671.95,1669.16 672.7,1684.37 673.45,1687.32 674.2,1675.52 674.95,1684.99 675.7,1680.79 676.45,1692.73 677.2,1698.29 677.95,1705.21 678.7,1700.09 679.45,1720.05 680.2,1729.22 680.95,1731.78 681.7,1748.86 682.45,1753.16 683.2,1766.83 683.95,1772.79 684.7,1779.53 685.45,1787.48 686.2,1794.93 686.95,1799.11 687.7,1808.57 688.45,1808.68 689.2,1813.18 689.95,1816.3 690.7,1819.74 691.45,1821.92 692.2,1821.04 692.95,1822.4 693.7,1822.4" fill="none" stroke="#ff1c1c" stroke-width="1.15" stroke-linejoin="round"/>
<line x1="681.7" y1="1822.4" x2="681.7" y2="1748.86" stroke="#e82020" stroke-width="1"/>
<line x1="579.8" y1="1822.4" x2="579.8" y2="1636.24" stroke="#e01818" stroke-width="1.1"/>
<line x1="681.7" y1="1652" x2="769.8" y2="1652" stroke="#f42222" stroke-width="1.1"/>
<line x1="681.7" y1="1647" x2="681.7" y2="1657" stroke="#f42222" stroke-width="1.1"/>
<line x1="769.8" y1="1647" x2="769.8" y2="1657" stroke="#f42222" stroke-width="1.1"/>
<text x="681.7" y="1640" font-size="10.5" fill="#f02828">P2(3.30%)</text>
<line x1="574.2" y1="1822.4" x2="579.2" y2="1822.4" stroke="#333" stroke-width="1"/>
<text x="569.7" y="1822.4" font-size="10.5" transform="rotate(-90 569.7 1822.4)" text-anchor="middle" fill="#222">0</text>
<line x1="576.2" y1="1822.24" x2="579.2" y2="1822.24" stroke="#333" stroke-width="1"/>
<line x1="576.2" y1="1822.08" x2="579.2" y2="1822.08" stroke="#333" stroke-width="1"/>
<line x1="576.2" y1="1821.92" x2="579.2" y2="1821.92" stroke="#333" stroke-width="1"/>
<line x1="576.2" y1="1821.77" x2="579.2" y2="1821.77" stroke="#333" stroke-width="1"/>
<line x1="574.2" y1="1743.1" x2="579.2" y2="1743.1" stroke="#333" stroke-width="1"/>
<text x="569.7" y="1743.1" font-size="10.5" transform="rotate(-90 569.7 1743.1)" text-anchor="middle" fill="#222">100</text>
<line x1="576.2" y1="1742.94" x2="579.2" y2="1742.94" stroke="#333" stroke-width="1"/>
<line x1="576.2" y1="1742.78" x2="579.2" y2="1742.78" stroke="#333" stroke-width="1"/>
<line x1="576.2" y1="1742.62" x2="579.2" y2="1742.62" stroke="#333" stroke-width="1"/>
<line x1="576.2" y1="1742.47" x2="579.2" y2="1742.47" stroke="#333" stroke-width="1"/>
<line x1="574.2" y1="1663.8" x2="579.2" y2="1663.8" stroke="#333" stroke-width="1"/>
<text x="569.7" y="1663.8" font-size="10.5" transform="rotate(-90 569.7 1663.8)" text-anchor="middle" fill="#222">200</text>
<line x1="576.2" y1="1663.64" x2="579.2" y2="1663.64" stroke="#333" stroke-width="1"/>
<line x1="576.2" y1="1663.48" x2="579.2" y2="1663.48" stroke="#333" stroke-width="1"/>
<line x1="576.2" y1="1663.32" x2="579.2" y2="1663.32" stroke="#333" stroke-width="1"/>
<line x1="576.2" y1="1663.17" x2="579.2" y2="1663.17" stroke="#333" stroke-width="1"/>
<text x="557.2" y="1724.05" font-size="10.5" transform="rotate(-90 557.2 1724.05)" text-anchor="middle" fill="#222">Count</text>
<line x1="579.61" y1="1822.4" x2="579.61" y2="1825.4" stroke="#333" stroke-width="1"/>
<line x1="583.24" y1="1822.4" x2="583.24" y2="1825.4" stroke="#333" stroke-width="1"/>
<line x1="586.3" y1="1822.4" x2="586.3" y2="1825.4" stroke="#333" stroke-width="1"/>
<line x1="588.95" y1="1822.4" x2="588.95" y2="1825.4" stroke="#333" stroke-width="1"/>
<line x1="591.3" y1="1822.4" x2="591.3" y2="1825.4" stroke="#333" stroke-width="1"/>
<line x1="593.39" y1="1822.4" x2="593.39" y2="1827.4" stroke="#333" stroke-width="1"/>
<line x1="607.17" y1="1822.4" x2="607.17" y2="1825.4" stroke="#333" stroke-width="1"/>
<line x1="615.23" y1="1822.4" x2="615.23" y2="1825.4" stroke="#333" stroke-width="1"/>
<line x1="620.95" y1="1822.4" x2="620.95" y2="1825.4" stroke="#333" stroke-width="1"/>
<line x1="625.39" y1="1822.4" x2="625.39" y2="1825.4" stroke="#333" stroke-width="1"/>
<line x1="629.01" y1="1822.4" x2="629.01" y2="1825.4" stroke="#333" stroke-width="1"/>
<line x1="632.08" y1="1822.4" x2="632.08" y2="1825.4" stroke="#333" stroke-width="1"/>
<line x1="634.73" y1="1822.4" x2="634.73" y2="1825.4" stroke="#333" stroke-width="1"/>
<line x1="637.07" y1="1822.4" x2="637.07" y2="1825.4" stroke="#333" stroke-width="1"/>
<text x="595.39" y="1840.4" font-size="10.5" fill="#222" text-anchor="middle">10<tspan dy="-4.5" font-size="7">1</tspan></text>
<line x1="639.17" y1="1822.4" x2="639.17" y2="1827.4" stroke="#333" stroke-width="1"/>
<line x1="652.95" y1="1822.4" x2="652.95" y2="1825.4" stroke="#333" stroke-width="1"/>
<line x1="661.01" y1="1822.4" x2="661.01" y2="1825.4" stroke="#333" stroke-width="1"/>
<line x1="666.73" y1="1822.4" x2="666.73" y2="1825.4" stroke="#333" stroke-width="1"/>
<line x1="671.17" y1="1822.4" x2="671.17" y2="1825.4" stroke="#333" stroke-width="1"/>
<line x1="674.79" y1="1822.4" x2="674.79" y2="1825.4" stroke="#333" stroke-width="1"/>
<line x1="677.85" y1="1822.4" x2="677.85" y2="1825.4" stroke="#333" stroke-width="1"/>
<line x1="680.51" y1="1822.4" x2="680.51" y2="1825.4" stroke="#333" stroke-width="1"/>
<line x1="682.85" y1="1822.4" x2="682.85" y2="1825.4" stroke="#333" stroke-width="1"/>
<text x="641.17" y="1840.4" font-size="10.5" fill="#222" text-anchor="middle">10<tspan dy="-4.5" font-size="7">2</tspan></text>
<line x1="684.95" y1="1822.4" x2="684.95" y2="1827.4" stroke="#333" stroke-width="1"/>
<line x1="698.73" y1="1822.4" x2="698.73" y2="1825.4" stroke="#333" stroke-width="1"/>
<line x1="706.79" y1="1822.4" x2="706.79" y2="1825.4" stroke="#333" stroke-width="1"/>
<line x1="712.51" y1="1822.4" x2="712.51" y2="1825.4" stroke="#333" stroke-width="1"/>
<line x1="716.94" y1="1822.4" x2="716.94" y2="1825.4" stroke="#333" stroke-width="1"/>
<line x1="720.57" y1="1822.4" x2="720.57" y2="1825.4" stroke="#333" stroke-width="1"/>
<line x1="723.63" y1="1822.4" x2="723.63" y2="1825.4" stroke="#333" stroke-width="1"/>
<line x1="726.29" y1="1822.4" x2="726.29" y2="1825.4" stroke="#333" stroke-width="1"/>
<line x1="728.63" y1="1822.4" x2="728.63" y2="1825.4" stroke="#333" stroke-width="1"/>
<text x="686.95" y="1840.4" font-size="10.5" fill="#222" text-anchor="middle">10<tspan dy="-4.5" font-size="7">3</tspan></text>
<line x1="730.72" y1="1822.4" x2="730.72" y2="1827.4" stroke="#333" stroke-width="1"/>
<line x1="744.5" y1="1822.4" x2="744.5" y2="1825.4" stroke="#333" stroke-width="1"/>
<line x1="752.56" y1="1822.4" x2="752.56" y2="1825.4" stroke="#333" stroke-width="1"/>
<line x1="758.28" y1="1822.4" x2="758.28" y2="1825.4" stroke="#333" stroke-width="1"/>
<line x1="762.72" y1="1822.4" x2="762.72" y2="1825.4" stroke="#333" stroke-width="1"/>
<line x1="766.34" y1="1822.4" x2="766.34" y2="1825.4" stroke="#333" stroke-width="1"/>
<line x1="769.41" y1="1822.4" x2="769.41" y2="1825.4" stroke="#333" stroke-width="1"/>
<line x1="772.06" y1="1822.4" x2="772.06" y2="1825.4" stroke="#333" stroke-width="1"/>
<line x1="774.41" y1="1822.4" x2="774.41" y2="1825.4" stroke="#333" stroke-width="1"/>
<text x="732.72" y="1840.4" font-size="10.5" fill="#222" text-anchor="middle">10<tspan dy="-4.5" font-size="7">4</tspan></text>
<line x1="776.5" y1="1822.4" x2="776.5" y2="1827.4" stroke="#333" stroke-width="1"/>
<text x="778.5" y="1840.4" font-size="10.5" fill="#222" text-anchor="middle">10<tspan dy="-4.5" font-size="7">5</tspan></text>
<text x="677.85" y="1853.4" font-size="10.5" text-anchor="middle" fill="#222">CD86 APC-A</text>
<text x="671.85" y="1620.2" font-size="10" text-anchor="middle" fill="#222">oe-BMAL1+shNC : P1</text>
<rect x="818.5" y="1625.7" width="196.5" height="196.7" fill="none" stroke="#333" stroke-width="1"/>
<polygon points="819,1822.4 819,1818.3 819.75,1819.32 820.5,1819.06 821.25,1814.35 822,1817.64 822.75,1818.45 823.5,1818.31 824.25,1817.46 825,1817.48 825.75,1817.29 826.5,1818.09 827.25,1819.26 828,1819.2 828.75,1818.24 829.5,1819.32 830.25,1818.27 831,1816.99 831.75,1816.03 832.5,1815.09 833.25,1817.89 834,1813.34 834.75,1815.75 835.5,1815.64 836.25,1816.1 837,1814.72 837.75,1814.92 838.5,1817.07 839.25,1815.95 840,1816.46 840.75,1815.38 841.5,1814.64 842.25,1814.93 843,1814.35 843.75,1815.67 844.5,1814.53 845.25,1815.1 846,1812.85 846.75,1814.62 847.5,1813.17 848.25,1813.86 849,1811.14 849.75,1811.41 850.5,1812.27 851.25,1808.52 852,1813.45 852.75,1812.94 853.5,1811.61 854.25,1802.49 855,1809.91 855.75,1809.36 856.5,1808.59 857.25,1809.98 858,1807.03 858.75,1808.65 859.5,1806.37 860.25,1808.77 861,1803.45 861.75,1809.62 862.5,1808.9 863.25,1805.53 864,1804.85 864.75,1804.25 865.5,1802 866.25,1803.29 867,1802.48 867.75,1802.34 868.5,1799.71 869.25,1802 870,1800.57 870.75,1803.35 871.5,1802.4 872.25,1797.69 873,1800.35 873.75,1798.97 874.5,1798.72 875.25,1798.49 876,1793.92 876.75,1793.54 877.5,1792.2 878.25,1791.62 879,1788.11 879.75,1785.56 880.5,1787.89 881.25,1785.04 882,1783.04 882.75,1779.43 883.5,1776.88 884.25,1781.04 885,1773.48 885.75,1774.45 886.5,1766.17 887.25,1768.06 888,1769.21 888.75,1755.09 889.5,1768.41 890.25,1760.14 891,1754.42 891.75,1753.64 892.5,1745.66 893.25,1750.07 894,1740.24 894.75,1745.65 895.5,1741.63 896.25,1736.3 897,1734.17 897.75,1739.47 898.5,1727.23 899.25,1716.66 900,1723.18 900.75,1726.41 901.5,1724.24 902.25,1702.67 903,1711.64 903.75,1699.12 904.5,1704.77 905.25,1712.36 906,1705.55 906.75,1696.9 907.5,1696.68 908.25,1706.53 909,1695.26 909.75,1679.89 910.5,1679.76 911.25,1694.96 912,1678.66 912.75,1680.08 913.5,1670.15 914.25,1669.41 915,1678.92 915.75,1672.33 916.5,1668 917.25,1679.64 918,1659.24 918.75,1681.2 919.5,1698.97 920.25,1698.95 921,1697.41 921.75,1706.95 922.5,1714.39 923.25,1723.16 924,1735.86 924.75,1746.18 925.5,1753.82 926.25,1762.16 927,1768.22 927.75,1778.9 928.5,1785.77 929.25,1791.27 930,1797.2 930.75,1801.13 931.5,1808.14 932.25,1810.33 933,1813.61 933.75,1817.95 934.5,1818.97 935.25,1822.06 936,1822.39 936.75,1822.4 937.5,1822.4 938.25,1822.4 939,1820.94 939.75,1822.4 940.5,1822.4 940.5,1822.4" fill="#f07a80"/>
<clipPath id="cl12"><rect x="921.1" y="1625.7" width="93.9" height="196.7"/></clipPath>
<polygon points="819,1822.4 819,1818.3 819.75,1819.32 820.5,1819.06 821.25,1814.35 822,1817.64 822.75,1818.45 823.5,1818.31 824.25,1817.46 825,1817.48 825.75,1817.29 826.5,1818.09 827.25,1819.26 828,1819.2 828.75,1818.24 829.5,1819.32 830.25,1818.27 831,1816.99 831.75,1816.03 832.5,1815.09 833.25,1817.89 834,1813.34 834.75,1815.75 835.5,1815.64 836.25,1816.1 837,1814.72 837.75,1814.92 838.5,1817.07 839.25,1815.95 840,1816.46 840.75,1815.38 841.5,1814.64 842.25,1814.93 843,1814.35 843.75,1815.67 844.5,1814.53 845.25,1815.1 846,1812.85 846.75,1814.62 847.5,1813.17 848.25,1813.86 849,1811.14 849.75,1811.41 850.5,1812.27 851.25,1808.52 852,1813.45 852.75,1812.94 853.5,1811.61 854.25,1802.49 855,1809.91 855.75,1809.36 856.5,1808.59 857.25,1809.98 858,1807.03 858.75,1808.65 859.5,1806.37 860.25,1808.77 861,1803.45 861.75,1809.62 862.5,1808.9 863.25,1805.53 864,1804.85 864.75,1804.25 865.5,1802 866.25,1803.29 867,1802.48 867.75,1802.34 868.5,1799.71 869.25,1802 870,1800.57 870.75,1803.35 871.5,1802.4 872.25,1797.69 873,1800.35 873.75,1798.97 874.5,1798.72 875.25,1798.49 876,1793.92 876.75,1793.54 877.5,1792.2 878.25,1791.62 879,1788.11 879.75,1785.56 880.5,1787.89 881.25,1785.04 882,1783.04 882.75,1779.43 883.5,1776.88 884.25,1781.04 885,1773.48 885.75,1774.45 886.5,1766.17 887.25,1768.06 888,1769.21 888.75,1755.09 889.5,1768.41 890.25,1760.14 891,1754.42 891.75,1753.64 892.5,1745.66 893.25,1750.07 894,1740.24 894.75,1745.65 895.5,1741.63 896.25,1736.3 897,1734.17 897.75,1739.47 898.5,1727.23 899.25,1716.66 900,1723.18 900.75,1726.41 901.5,1724.24 902.25,1702.67 903,1711.64 903.75,1699.12 904.5,1704.77 905.25,1712.36 906,1705.55 906.75,1696.9 907.5,1696.68 908.25,1706.53 909,1695.26 909.75,1679.89 910.5,1679.76 911.25,1694.96 912,1678.66 912.75,1680.08 913.5,1670.15 914.25,1669.41 915,1678.92 915.75,1672.33 916.5,1668 917.25,1679.64 918,1659.24 918.75,1681.2 919.5,1698.97 920.25,1698.95 921,1697.41 921.75,1706.95 922.5,1714.39 923.25,1723.16 924,1735.86 924.75,1746.18 925.5,1753.82 926.25,1762.16 927,1768.22 927.75,1778.9 928.5,1785.77 929.25,1791.27 930,1797.2 930.75,1801.13 931.5,1808.14 932.25,1810.33 933,1813.61 933.75,1817.95 934.5,1818.97 935.25,1822.06 936,1822.39 936.75,1822.4 937.5,1822.4 938.25,1822.4 939,1820.94 939.75,1822.4 940.5,1822.4 940.5,1822.4" fill="#f43a3e" clip-path="url(#cl12)"/>
<polyline points="819,1818.3 819.75,1819.32 820.5,1819.06 821.25,1814.35 822,1817.64 822.75,1818.45 823.5,1818.31 824.25,1817.46 825,1817.48 825.75,1817.29 826.5,1818.09 827.25,1819.26 828,1819.2 828.75,1818.24 829.5,1819.32 830.25,1818.27 831,1816.99 831.75,1816.03 832.5,1815.09 833.25,1817.89 834,1813.34 834.75,1815.75 835.5,1815.64 836.25,1816.1 837,1814.72 837.75,1814.92 838.5,1817.07 839.25,1815.95 840,1816.46 840.75,1815.38 841.5,1814.64 842.25,1814.93 843,1814.35 843.75,1815.67 844.5,1814.53 845.25,1815.1 846,1812.85 846.75,1814.62 847.5,1813.17 848.25,1813.86 849,1811.14 849.75,1811.41 850.5,1812.27 851.25,1808.52 852,1813.45 852.75,1812.94 853.5,1811.61 854.25,1802.49 855,1809.91 855.75,1809.36 856.5,1808.59 857.25,1809.98 858,1807.03 858.75,1808.65 859.5,1806.37 860.25,1808.77 861,1803.45 861.75,1809.62 862.5,1808.9 863.25,1805.53 864,1804.85 864.75,1804.25 865.5,1802 866.25,1803.29 867,1802.48 867.75,1802.34 868.5,1799.71 869.25,1802 870,1800.57 870.75,1803.35 871.5,1802.4 872.25,1797.69 873,1800.35 873.75,1798.97 874.5,1798.72 875.25,1798.49 876,1793.92 876.75,1793.54 877.5,1792.2 878.25,1791.62 879,1788.11 879.75,1785.56 880.5,1787.89 881.25,1785.04 882,1783.04 882.75,1779.43 883.5,1776.88 884.25,1781.04 885,1773.48 885.75,1774.45 886.5,1766.17 887.25,1768.06 888,1769.21 888.75,1755.09 889.5,1768.41 890.25,1760.14 891,1754.42 891.75,1753.64 892.5,1745.66 893.25,1750.07 894,1740.24 894.75,1745.65 895.5,1741.63 896.25,1736.3 897,1734.17 897.75,1739.47 898.5,1727.23 899.25,1716.66 900,1723.18 900.75,1726.41 901.5,1724.24 902.25,1702.67 903,1711.64 903.75,1699.12 904.5,1704.77 905.25,1712.36 906,1705.55 906.75,1696.9 907.5,1696.68 908.25,1706.53 909,1695.26 909.75,1679.89 910.5,1679.76 911.25,1694.96 912,1678.66 912.75,1680.08 913.5,1670.15 914.25,1669.41 915,1678.92 915.75,1672.33 916.5,1668 917.25,1679.64 918,1659.24 918.75,1681.2 919.5,1698.97 920.25,1698.95 921,1697.41 921.75,1706.95 922.5,1714.39 923.25,1723.16 924,1735.86 924.75,1746.18 925.5,1753.82 926.25,1762.16 927,1768.22 927.75,1778.9 928.5,1785.77 929.25,1791.27 930,1797.2 930.75,1801.13 931.5,1808.14 932.25,1810.33 933,1813.61 933.75,1817.95 934.5,1818.97 935.25,1822.06 936,1822.39 936.75,1822.4 937.5,1822.4 938.25,1822.4 939,1820.94 939.75,1822.4 940.5,1822.4" fill="none" stroke="#ff1c1c" stroke-width="1.15" stroke-linejoin="round"/>
<line x1="921.1" y1="1822.4" x2="921.1" y2="1706.95" stroke="#e82020" stroke-width="1"/>
<line x1="819.1" y1="1822.4" x2="819.1" y2="1635.24" stroke="#e01818" stroke-width="1.1"/>
<line x1="921.1" y1="1652" x2="1008.8" y2="1652" stroke="#f42222" stroke-width="1.1"/>
<line x1="921.1" y1="1647" x2="921.1" y2="1657" stroke="#f42222" stroke-width="1.1"/>
<line x1="1008.8" y1="1647" x2="1008.8" y2="1657" stroke="#f42222" stroke-width="1.1"/>
<text x="921.1" y="1640" font-size="10.5" fill="#f02828">P2(9.82%)</text>
<line x1="813.5" y1="1822.4" x2="818.5" y2="1822.4" stroke="#333" stroke-width="1"/>
<text x="809" y="1822.4" font-size="10.5" transform="rotate(-90 809 1822.4)" text-anchor="middle" fill="#222">0</text>
<line x1="815.5" y1="1822.26" x2="818.5" y2="1822.26" stroke="#333" stroke-width="1"/>
<line x1="815.5" y1="1822.13" x2="818.5" y2="1822.13" stroke="#333" stroke-width="1"/>
<line x1="815.5" y1="1821.99" x2="818.5" y2="1821.99" stroke="#333" stroke-width="1"/>
<line x1="815.5" y1="1821.86" x2="818.5" y2="1821.86" stroke="#333" stroke-width="1"/>
<line x1="813.5" y1="1754.4" x2="818.5" y2="1754.4" stroke="#333" stroke-width="1"/>
<text x="809" y="1754.4" font-size="10.5" transform="rotate(-90 809 1754.4)" text-anchor="middle" fill="#222">100</text>
<line x1="815.5" y1="1754.26" x2="818.5" y2="1754.26" stroke="#333" stroke-width="1"/>
<line x1="815.5" y1="1754.13" x2="818.5" y2="1754.13" stroke="#333" stroke-width="1"/>
<line x1="815.5" y1="1753.99" x2="818.5" y2="1753.99" stroke="#333" stroke-width="1"/>
<line x1="815.5" y1="1753.86" x2="818.5" y2="1753.86" stroke="#333" stroke-width="1"/>
<line x1="813.5" y1="1686.4" x2="818.5" y2="1686.4" stroke="#333" stroke-width="1"/>
<text x="809" y="1686.4" font-size="10.5" transform="rotate(-90 809 1686.4)" text-anchor="middle" fill="#222">200</text>
<line x1="815.5" y1="1686.26" x2="818.5" y2="1686.26" stroke="#333" stroke-width="1"/>
<line x1="815.5" y1="1686.13" x2="818.5" y2="1686.13" stroke="#333" stroke-width="1"/>
<line x1="815.5" y1="1685.99" x2="818.5" y2="1685.99" stroke="#333" stroke-width="1"/>
<line x1="815.5" y1="1685.86" x2="818.5" y2="1685.86" stroke="#333" stroke-width="1"/>
<text x="796.5" y="1724.05" font-size="10.5" transform="rotate(-90 796.5 1724.05)" text-anchor="middle" fill="#222">Count</text>
<line x1="818.91" y1="1822.4" x2="818.91" y2="1825.4" stroke="#333" stroke-width="1"/>
<line x1="822.52" y1="1822.4" x2="822.52" y2="1825.4" stroke="#333" stroke-width="1"/>
<line x1="825.57" y1="1822.4" x2="825.57" y2="1825.4" stroke="#333" stroke-width="1"/>
<line x1="828.22" y1="1822.4" x2="828.22" y2="1825.4" stroke="#333" stroke-width="1"/>
<line x1="830.55" y1="1822.4" x2="830.55" y2="1825.4" stroke="#333" stroke-width="1"/>
<line x1="832.63" y1="1822.4" x2="832.63" y2="1827.4" stroke="#333" stroke-width="1"/>
<line x1="846.36" y1="1822.4" x2="846.36" y2="1825.4" stroke="#333" stroke-width="1"/>
<line x1="854.39" y1="1822.4" x2="854.39" y2="1825.4" stroke="#333" stroke-width="1"/>
<line x1="860.08" y1="1822.4" x2="860.08" y2="1825.4" stroke="#333" stroke-width="1"/>
<line x1="864.5" y1="1822.4" x2="864.5" y2="1825.4" stroke="#333" stroke-width="1"/>
<line x1="868.11" y1="1822.4" x2="868.11" y2="1825.4" stroke="#333" stroke-width="1"/>
<line x1="871.16" y1="1822.4" x2="871.16" y2="1825.4" stroke="#333" stroke-width="1"/>
<line x1="873.81" y1="1822.4" x2="873.81" y2="1825.4" stroke="#333" stroke-width="1"/>
<line x1="876.14" y1="1822.4" x2="876.14" y2="1825.4" stroke="#333" stroke-width="1"/>
<text x="834.63" y="1840.4" font-size="10.5" fill="#222" text-anchor="middle">10<tspan dy="-4.5" font-size="7">1</tspan></text>
<line x1="878.23" y1="1822.4" x2="878.23" y2="1827.4" stroke="#333" stroke-width="1"/>
<line x1="891.95" y1="1822.4" x2="891.95" y2="1825.4" stroke="#333" stroke-width="1"/>
<line x1="899.98" y1="1822.4" x2="899.98" y2="1825.4" stroke="#333" stroke-width="1"/>
<line x1="905.67" y1="1822.4" x2="905.67" y2="1825.4" stroke="#333" stroke-width="1"/>
<line x1="910.09" y1="1822.4" x2="910.09" y2="1825.4" stroke="#333" stroke-width="1"/>
<line x1="913.7" y1="1822.4" x2="913.7" y2="1825.4" stroke="#333" stroke-width="1"/>
<line x1="916.75" y1="1822.4" x2="916.75" y2="1825.4" stroke="#333" stroke-width="1"/>
<line x1="919.4" y1="1822.4" x2="919.4" y2="1825.4" stroke="#333" stroke-width="1"/>
<line x1="921.73" y1="1822.4" x2="921.73" y2="1825.4" stroke="#333" stroke-width="1"/>
<text x="880.23" y="1840.4" font-size="10.5" fill="#222" text-anchor="middle">10<tspan dy="-4.5" font-size="7">2</tspan></text>
<line x1="923.82" y1="1822.4" x2="923.82" y2="1827.4" stroke="#333" stroke-width="1"/>
<line x1="937.54" y1="1822.4" x2="937.54" y2="1825.4" stroke="#333" stroke-width="1"/>
<line x1="945.57" y1="1822.4" x2="945.57" y2="1825.4" stroke="#333" stroke-width="1"/>
<line x1="951.27" y1="1822.4" x2="951.27" y2="1825.4" stroke="#333" stroke-width="1"/>
<line x1="955.68" y1="1822.4" x2="955.68" y2="1825.4" stroke="#333" stroke-width="1"/>
<line x1="959.29" y1="1822.4" x2="959.29" y2="1825.4" stroke="#333" stroke-width="1"/>
<line x1="962.35" y1="1822.4" x2="962.35" y2="1825.4" stroke="#333" stroke-width="1"/>
<line x1="964.99" y1="1822.4" x2="964.99" y2="1825.4" stroke="#333" stroke-width="1"/>
<line x1="967.32" y1="1822.4" x2="967.32" y2="1825.4" stroke="#333" stroke-width="1"/>
<text x="925.82" y="1840.4" font-size="10.5" fill="#222" text-anchor="middle">10<tspan dy="-4.5" font-size="7">3</tspan></text>
<line x1="969.41" y1="1822.4" x2="969.41" y2="1827.4" stroke="#333" stroke-width="1"/>
<line x1="983.13" y1="1822.4" x2="983.13" y2="1825.4" stroke="#333" stroke-width="1"/>
<line x1="991.16" y1="1822.4" x2="991.16" y2="1825.4" stroke="#333" stroke-width="1"/>
<line x1="996.86" y1="1822.4" x2="996.86" y2="1825.4" stroke="#333" stroke-width="1"/>
<line x1="1001.28" y1="1822.4" x2="1001.28" y2="1825.4" stroke="#333" stroke-width="1"/>
<line x1="1004.89" y1="1822.4" x2="1004.89" y2="1825.4" stroke="#333" stroke-width="1"/>
<line x1="1007.94" y1="1822.4" x2="1007.94" y2="1825.4" stroke="#333" stroke-width="1"/>
<line x1="1010.58" y1="1822.4" x2="1010.58" y2="1825.4" stroke="#333" stroke-width="1"/>
<line x1="1012.91" y1="1822.4" x2="1012.91" y2="1825.4" stroke="#333" stroke-width="1"/>
<text x="971.41" y="1840.4" font-size="10.5" fill="#222" text-anchor="middle">10<tspan dy="-4.5" font-size="7">4</tspan></text>
<line x1="1015" y1="1822.4" x2="1015" y2="1827.4" stroke="#333" stroke-width="1"/>
<text x="1017" y="1840.4" font-size="10.5" fill="#222" text-anchor="middle">10<tspan dy="-4.5" font-size="7">5</tspan></text>
<text x="916.75" y="1853.4" font-size="10.5" text-anchor="middle" fill="#222">CD86 APC-A</text>
<text x="910.75" y="1620.2" font-size="10" text-anchor="middle" fill="#222">oe-BMAL1+shSIRT1 : P1</text>
<rect x="1054.2" y="1625.7" width="197.3" height="196.7" fill="none" stroke="#333" stroke-width="1"/>
<polygon points="1054.7,1822.4 1054.7,1815.63 1055.45,1817.83 1056.2,1817.94 1056.95,1812.57 1057.7,1813.64 1058.45,1817.51 1059.2,1815.8 1059.95,1817.51 1060.7,1817.39 1061.45,1817.21 1062.2,1816.85 1062.95,1816.13 1063.7,1814.68 1064.45,1814.84 1065.2,1815.54 1065.95,1814.3 1066.7,1814.54 1067.45,1812.32 1068.2,1816.65 1068.95,1816.43 1069.7,1816.47 1070.45,1814.86 1071.2,1812.04 1071.95,1812.7 1072.7,1814 1073.45,1813.97 1074.2,1813.41 1074.95,1814.66 1075.7,1814.48 1076.45,1813.99 1077.2,1810.8 1077.95,1810.88 1078.7,1813.84 1079.45,1807.8 1080.2,1811.15 1080.95,1812.01 1081.7,1809.97 1082.45,1810.16 1083.2,1811.65 1083.95,1811.27 1084.7,1806.7 1085.45,1810.37 1086.2,1810.63 1086.95,1809.26 1087.7,1808.74 1088.45,1802.1 1089.2,1808.16 1089.95,1807.37 1090.7,1808.4 1091.45,1807.09 1092.2,1803.6 1092.95,1804.55 1093.7,1809.03 1094.45,1806.15 1095.2,1804.18 1095.95,1802.48 1096.7,1795.26 1097.45,1804.86 1098.2,1800.3 1098.95,1799.94 1099.7,1796.25 1100.45,1797.05 1101.2,1799.74 1101.95,1801.2 1102.7,1795.04 1103.45,1798.93 1104.2,1800.6 1104.95,1798.21 1105.7,1797.07 1106.45,1797.02 1107.2,1798.66 1107.95,1794.44 1108.7,1790.88 1109.45,1793.01 1110.2,1783.2 1110.95,1787.51 1111.7,1788.72 1112.45,1785.88 1113.2,1783.02 1113.95,1775.67 1114.7,1781.89 1115.45,1779.69 1116.2,1779.1 1116.95,1776.49 1117.7,1770.72 1118.45,1777.19 1119.2,1773.96 1119.95,1769.41 1120.7,1774.18 1121.45,1764.36 1122.2,1760.88 1122.95,1752.43 1123.7,1761.21 1124.45,1762.48 1125.2,1755.38 1125.95,1749.75 1126.7,1750.12 1127.45,1749.02 1128.2,1748.62 1128.95,1742.25 1129.7,1750.41 1130.45,1735.22 1131.2,1745.36 1131.95,1732.57 1132.7,1727.3 1133.45,1728.59 1134.2,1726.14 1134.95,1734.86 1135.7,1736.29 1136.45,1720.79 1137.2,1721.51 1137.95,1714.38 1138.7,1701.31 1139.45,1709.08 1140.2,1709.02 1140.95,1707.7 1141.7,1699.28 1142.45,1697.32 1143.2,1696.36 1143.95,1694.11 1144.7,1683.23 1145.45,1683.24 1146.2,1687.38 1146.95,1687.84 1147.7,1686.96 1148.45,1688.69 1149.2,1682.65 1149.95,1671.93 1150.7,1680.39 1151.45,1678.33 1152.2,1665.96 1152.95,1693.27 1153.7,1682.09 1154.45,1682.17 1155.2,1698.25 1155.95,1697.07 1156.7,1700.58 1157.45,1702.53 1158.2,1705.18 1158.95,1714.21 1159.7,1726.72 1160.45,1745.72 1161.2,1748.72 1161.95,1756.8 1162.7,1767.77 1163.45,1778.43 1164.2,1787 1164.95,1793.01 1165.7,1800.39 1166.45,1805.87 1167.2,1808.59 1167.95,1812.67 1168.7,1816.51 1169.45,1818.96 1170.2,1821.57 1170.95,1822.4 1171.7,1822.4 1172.45,1822.04 1173.2,1822.4 1173.95,1822.4 1173.95,1822.4" fill="#f07a80"/>
<clipPath id="cl13"><rect x="1156.8" y="1625.7" width="94.7" height="196.7"/></clipPath>
<polygon points="1054.7,1822.4 1054.7,1815.63 1055.45,1817.83 1056.2,1817.94 1056.95,1812.57 1057.7,1813.64 1058.45,1817.51 1059.2,1815.8 1059.95,1817.51 1060.7,1817.39 1061.45,1817.21 1062.2,1816.85 1062.95,1816.13 1063.7,1814.68 1064.45,1814.84 1065.2,1815.54 1065.95,1814.3 1066.7,1814.54 1067.45,1812.32 1068.2,1816.65 1068.95,1816.43 1069.7,1816.47 1070.45,1814.86 1071.2,1812.04 1071.95,1812.7 1072.7,1814 1073.45,1813.97 1074.2,1813.41 1074.95,1814.66 1075.7,1814.48 1076.45,1813.99 1077.2,1810.8 1077.95,1810.88 1078.7,1813.84 1079.45,1807.8 1080.2,1811.15 1080.95,1812.01 1081.7,1809.97 1082.45,1810.16 1083.2,1811.65 1083.95,1811.27 1084.7,1806.7 1085.45,1810.37 1086.2,1810.63 1086.95,1809.26 1087.7,1808.74 1088.45,1802.1 1089.2,1808.16 1089.95,1807.37 1090.7,1808.4 1091.45,1807.09 1092.2,1803.6 1092.95,1804.55 1093.7,1809.03 1094.45,1806.15 1095.2,1804.18 1095.95,1802.48 1096.7,1795.26 1097.45,1804.86 1098.2,1800.3 1098.95,1799.94 1099.7,1796.25 1100.45,1797.05 1101.2,1799.74 1101.95,1801.2 1102.7,1795.04 1103.45,1798.93 1104.2,1800.6 1104.95,1798.21 1105.7,1797.07 1106.45,1797.02 1107.2,1798.66 1107.95,1794.44 1108.7,1790.88 1109.45,1793.01 1110.2,1783.2 1110.95,1787.51 1111.7,1788.72 1112.45,1785.88 1113.2,1783.02 1113.95,1775.67 1114.7,1781.89 1115.45,1779.69 1116.2,1779.1 1116.95,1776.49 1117.7,1770.72 1118.45,1777.19 1119.2,1773.96 1119.95,1769.41 1120.7,1774.18 1121.45,1764.36 1122.2,1760.88 1122.95,1752.43 1123.7,1761.21 1124.45,1762.48 1125.2,1755.38 1125.95,1749.75 1126.7,1750.12 1127.45,1749.02 1128.2,1748.62 1128.95,1742.25 1129.7,1750.41 1130.45,1735.22 1131.2,1745.36 1131.95,1732.57 1132.7,1727.3 1133.45,1728.59 1134.2,1726.14 1134.95,1734.86 1135.7,1736.29 1136.45,1720.79 1137.2,1721.51 1137.95,1714.38 1138.7,1701.31 1139.45,1709.08 1140.2,1709.02 1140.95,1707.7 1141.7,1699.28 1142.45,1697.32 1143.2,1696.36 1143.95,1694.11 1144.7,1683.23 1145.45,1683.24 1146.2,1687.38 1146.95,1687.84 1147.7,1686.96 1148.45,1688.69 1149.2,1682.65 1149.95,1671.93 1150.7,1680.39 1151.45,1678.33 1152.2,1665.96 1152.95,1693.27 1153.7,1682.09 1154.45,1682.17 1155.2,1698.25 1155.95,1697.07 1156.7,1700.58 1157.45,1702.53 1158.2,1705.18 1158.95,1714.21 1159.7,1726.72 1160.45,1745.72 1161.2,1748.72 1161.95,1756.8 1162.7,1767.77 1163.45,1778.43 1164.2,1787 1164.95,1793.01 1165.7,1800.39 1166.45,1805.87 1167.2,1808.59 1167.95,1812.67 1168.7,1816.51 1169.45,1818.96 1170.2,1821.57 1170.95,1822.4 1171.7,1822.4 1172.45,1822.04 1173.2,1822.4 1173.95,1822.4 1173.95,1822.4" fill="#f43a3e" clip-path="url(#cl13)"/>
<polyline points="1054.7,1815.63 1055.45,1817.83 1056.2,1817.94 1056.95,1812.57 1057.7,1813.64 1058.45,1817.51 1059.2,1815.8 1059.95,1817.51 1060.7,1817.39 1061.45,1817.21 1062.2,1816.85 1062.95,1816.13 1063.7,1814.68 1064.45,1814.84 1065.2,1815.54 1065.95,1814.3 1066.7,1814.54 1067.45,1812.32 1068.2,1816.65 1068.95,1816.43 1069.7,1816.47 1070.45,1814.86 1071.2,1812.04 1071.95,1812.7 1072.7,1814 1073.45,1813.97 1074.2,1813.41 1074.95,1814.66 1075.7,1814.48 1076.45,1813.99 1077.2,1810.8 1077.95,1810.88 1078.7,1813.84 1079.45,1807.8 1080.2,1811.15 1080.95,1812.01 1081.7,1809.97 1082.45,1810.16 1083.2,1811.65 1083.95,1811.27 1084.7,1806.7 1085.45,1810.37 1086.2,1810.63 1086.95,1809.26 1087.7,1808.74 1088.45,1802.1 1089.2,1808.16 1089.95,1807.37 1090.7,1808.4 1091.45,1807.09 1092.2,1803.6 1092.95,1804.55 1093.7,1809.03 1094.45,1806.15 1095.2,1804.18 1095.95,1802.48 1096.7,1795.26 1097.45,1804.86 1098.2,1800.3 1098.95,1799.94 1099.7,1796.25 1100.45,1797.05 1101.2,1799.74 1101.95,1801.2 1102.7,1795.04 1103.45,1798.93 1104.2,1800.6 1104.95,1798.21 1105.7,1797.07 1106.45,1797.02 1107.2,1798.66 1107.95,1794.44 1108.7,1790.88 1109.45,1793.01 1110.2,1783.2 1110.95,1787.51 1111.7,1788.72 1112.45,1785.88 1113.2,1783.02 1113.95,1775.67 1114.7,1781.89 1115.45,1779.69 1116.2,1779.1 1116.95,1776.49 1117.7,1770.72 1118.45,1777.19 1119.2,1773.96 1119.95,1769.41 1120.7,1774.18 1121.45,1764.36 1122.2,1760.88 1122.95,1752.43 1123.7,1761.21 1124.45,1762.48 1125.2,1755.38 1125.95,1749.75 1126.7,1750.12 1127.45,1749.02 1128.2,1748.62 1128.95,1742.25 1129.7,1750.41 1130.45,1735.22 1131.2,1745.36 1131.95,1732.57 1132.7,1727.3 1133.45,1728.59 1134.2,1726.14 1134.95,1734.86 1135.7,1736.29 1136.45,1720.79 1137.2,1721.51 1137.95,1714.38 1138.7,1701.31 1139.45,1709.08 1140.2,1709.02 1140.95,1707.7 1141.7,1699.28 1142.45,1697.32 1143.2,1696.36 1143.95,1694.11 1144.7,1683.23 1145.45,1683.24 1146.2,1687.38 1146.95,1687.84 1147.7,1686.96 1148.45,1688.69 1149.2,1682.65 1149.95,1671.93 1150.7,1680.39 1151.45,1678.33 1152.2,1665.96 1152.95,1693.27 1153.7,1682.09 1154.45,1682.17 1155.2,1698.25 1155.95,1697.07 1156.7,1700.58 1157.45,1702.53 1158.2,1705.18 1158.95,1714.21 1159.7,1726.72 1160.45,1745.72 1161.2,1748.72 1161.95,1756.8 1162.7,1767.77 1163.45,1778.43 1164.2,1787 1164.95,1793.01 1165.7,1800.39 1166.45,1805.87 1167.2,1808.59 1167.95,1812.67 1168.7,1816.51 1169.45,1818.96 1170.2,1821.57 1170.95,1822.4 1171.7,1822.4 1172.45,1822.04 1173.2,1822.4 1173.95,1822.4" fill="none" stroke="#ff1c1c" stroke-width="1.15" stroke-linejoin="round"/>
<line x1="1156.8" y1="1822.4" x2="1156.8" y2="1702.53" stroke="#e82020" stroke-width="1"/>
<line x1="1054.8" y1="1822.4" x2="1054.8" y2="1636.71" stroke="#e01818" stroke-width="1.1"/>
<line x1="1156.8" y1="1652" x2="1244.9" y2="1652" stroke="#f42222" stroke-width="1.1"/>
<line x1="1156.8" y1="1647" x2="1156.8" y2="1657" stroke="#f42222" stroke-width="1.1"/>
<line x1="1244.9" y1="1647" x2="1244.9" y2="1657" stroke="#f42222" stroke-width="1.1"/>
<text x="1156.8" y="1640" font-size="10.5" fill="#f02828">P2(8.96%)</text>
<line x1="1049.2" y1="1822.4" x2="1054.2" y2="1822.4" stroke="#333" stroke-width="1"/>
<text x="1044.7" y="1822.4" font-size="10.5" transform="rotate(-90 1044.7 1822.4)" text-anchor="middle" fill="#222">0</text>
<line x1="1051.2" y1="1822.27" x2="1054.2" y2="1822.27" stroke="#333" stroke-width="1"/>
<line x1="1051.2" y1="1822.14" x2="1054.2" y2="1822.14" stroke="#333" stroke-width="1"/>
<line x1="1051.2" y1="1822" x2="1054.2" y2="1822" stroke="#333" stroke-width="1"/>
<line x1="1051.2" y1="1821.87" x2="1054.2" y2="1821.87" stroke="#333" stroke-width="1"/>
<line x1="1049.2" y1="1756.4" x2="1054.2" y2="1756.4" stroke="#333" stroke-width="1"/>
<text x="1044.7" y="1756.4" font-size="10.5" transform="rotate(-90 1044.7 1756.4)" text-anchor="middle" fill="#222">100</text>
<line x1="1051.2" y1="1756.27" x2="1054.2" y2="1756.27" stroke="#333" stroke-width="1"/>
<line x1="1051.2" y1="1756.14" x2="1054.2" y2="1756.14" stroke="#333" stroke-width="1"/>
<line x1="1051.2" y1="1756" x2="1054.2" y2="1756" stroke="#333" stroke-width="1"/>
<line x1="1051.2" y1="1755.87" x2="1054.2" y2="1755.87" stroke="#333" stroke-width="1"/>
<line x1="1049.2" y1="1690.4" x2="1054.2" y2="1690.4" stroke="#333" stroke-width="1"/>
<text x="1044.7" y="1690.4" font-size="10.5" transform="rotate(-90 1044.7 1690.4)" text-anchor="middle" fill="#222">200</text>
<line x1="1051.2" y1="1690.27" x2="1054.2" y2="1690.27" stroke="#333" stroke-width="1"/>
<line x1="1051.2" y1="1690.14" x2="1054.2" y2="1690.14" stroke="#333" stroke-width="1"/>
<line x1="1051.2" y1="1690" x2="1054.2" y2="1690" stroke="#333" stroke-width="1"/>
<line x1="1051.2" y1="1689.87" x2="1054.2" y2="1689.87" stroke="#333" stroke-width="1"/>
<text x="1032.2" y="1724.05" font-size="10.5" transform="rotate(-90 1032.2 1724.05)" text-anchor="middle" fill="#222">Count</text>
<line x1="1054.61" y1="1822.4" x2="1054.61" y2="1825.4" stroke="#333" stroke-width="1"/>
<line x1="1058.24" y1="1822.4" x2="1058.24" y2="1825.4" stroke="#333" stroke-width="1"/>
<line x1="1061.3" y1="1822.4" x2="1061.3" y2="1825.4" stroke="#333" stroke-width="1"/>
<line x1="1063.95" y1="1822.4" x2="1063.95" y2="1825.4" stroke="#333" stroke-width="1"/>
<line x1="1066.3" y1="1822.4" x2="1066.3" y2="1825.4" stroke="#333" stroke-width="1"/>
<line x1="1068.39" y1="1822.4" x2="1068.39" y2="1827.4" stroke="#333" stroke-width="1"/>
<line x1="1082.17" y1="1822.4" x2="1082.17" y2="1825.4" stroke="#333" stroke-width="1"/>
<line x1="1090.23" y1="1822.4" x2="1090.23" y2="1825.4" stroke="#333" stroke-width="1"/>
<line x1="1095.95" y1="1822.4" x2="1095.95" y2="1825.4" stroke="#333" stroke-width="1"/>
<line x1="1100.39" y1="1822.4" x2="1100.39" y2="1825.4" stroke="#333" stroke-width="1"/>
<line x1="1104.01" y1="1822.4" x2="1104.01" y2="1825.4" stroke="#333" stroke-width="1"/>
<line x1="1107.08" y1="1822.4" x2="1107.08" y2="1825.4" stroke="#333" stroke-width="1"/>
<line x1="1109.73" y1="1822.4" x2="1109.73" y2="1825.4" stroke="#333" stroke-width="1"/>
<line x1="1112.07" y1="1822.4" x2="1112.07" y2="1825.4" stroke="#333" stroke-width="1"/>
<text x="1070.39" y="1840.4" font-size="10.5" fill="#222" text-anchor="middle">10<tspan dy="-4.5" font-size="7">1</tspan></text>
<line x1="1114.17" y1="1822.4" x2="1114.17" y2="1827.4" stroke="#333" stroke-width="1"/>
<line x1="1127.95" y1="1822.4" x2="1127.95" y2="1825.4" stroke="#333" stroke-width="1"/>
<line x1="1136.01" y1="1822.4" x2="1136.01" y2="1825.4" stroke="#333" stroke-width="1"/>
<line x1="1141.73" y1="1822.4" x2="1141.73" y2="1825.4" stroke="#333" stroke-width="1"/>
<line x1="1146.17" y1="1822.4" x2="1146.17" y2="1825.4" stroke="#333" stroke-width="1"/>
<line x1="1149.79" y1="1822.4" x2="1149.79" y2="1825.4" stroke="#333" stroke-width="1"/>
<line x1="1152.85" y1="1822.4" x2="1152.85" y2="1825.4" stroke="#333" stroke-width="1"/>
<line x1="1155.51" y1="1822.4" x2="1155.51" y2="1825.4" stroke="#333" stroke-width="1"/>
<line x1="1157.85" y1="1822.4" x2="1157.85" y2="1825.4" stroke="#333" stroke-width="1"/>
<text x="1116.17" y="1840.4" font-size="10.5" fill="#222" text-anchor="middle">10<tspan dy="-4.5" font-size="7">2</tspan></text>
<line x1="1159.95" y1="1822.4" x2="1159.95" y2="1827.4" stroke="#333" stroke-width="1"/>
<line x1="1173.73" y1="1822.4" x2="1173.73" y2="1825.4" stroke="#333" stroke-width="1"/>
<line x1="1181.79" y1="1822.4" x2="1181.79" y2="1825.4" stroke="#333" stroke-width="1"/>
<line x1="1187.51" y1="1822.4" x2="1187.51" y2="1825.4" stroke="#333" stroke-width="1"/>
<line x1="1191.94" y1="1822.4" x2="1191.94" y2="1825.4" stroke="#333" stroke-width="1"/>
<line x1="1195.57" y1="1822.4" x2="1195.57" y2="1825.4" stroke="#333" stroke-width="1"/>
<line x1="1198.63" y1="1822.4" x2="1198.63" y2="1825.4" stroke="#333" stroke-width="1"/>
<line x1="1201.29" y1="1822.4" x2="1201.29" y2="1825.4" stroke="#333" stroke-width="1"/>
<line x1="1203.63" y1="1822.4" x2="1203.63" y2="1825.4" stroke="#333" stroke-width="1"/>
<text x="1161.95" y="1840.4" font-size="10.5" fill="#222" text-anchor="middle">10<tspan dy="-4.5" font-size="7">3</tspan></text>
<line x1="1205.72" y1="1822.4" x2="1205.72" y2="1827.4" stroke="#333" stroke-width="1"/>
<line x1="1219.5" y1="1822.4" x2="1219.5" y2="1825.4" stroke="#333" stroke-width="1"/>
<line x1="1227.56" y1="1822.4" x2="1227.56" y2="1825.4" stroke="#333" stroke-width="1"/>
<line x1="1233.28" y1="1822.4" x2="1233.28" y2="1825.4" stroke="#333" stroke-width="1"/>
<line x1="1237.72" y1="1822.4" x2="1237.72" y2="1825.4" stroke="#333" stroke-width="1"/>
<line x1="1241.34" y1="1822.4" x2="1241.34" y2="1825.4" stroke="#333" stroke-width="1"/>
<line x1="1244.41" y1="1822.4" x2="1244.41" y2="1825.4" stroke="#333" stroke-width="1"/>
<line x1="1247.06" y1="1822.4" x2="1247.06" y2="1825.4" stroke="#333" stroke-width="1"/>
<line x1="1249.41" y1="1822.4" x2="1249.41" y2="1825.4" stroke="#333" stroke-width="1"/>
<text x="1207.72" y="1840.4" font-size="10.5" fill="#222" text-anchor="middle">10<tspan dy="-4.5" font-size="7">4</tspan></text>
<line x1="1251.5" y1="1822.4" x2="1251.5" y2="1827.4" stroke="#333" stroke-width="1"/>
<text x="1253.5" y="1840.4" font-size="10.5" fill="#222" text-anchor="middle">10<tspan dy="-4.5" font-size="7">5</tspan></text>
<text x="1152.85" y="1853.4" font-size="10.5" text-anchor="middle" fill="#222">CD86 APC-A</text>
<text x="1146.85" y="1620.2" font-size="10" text-anchor="middle" fill="#222">oe-BMAL1+shE2F1 : P1</text>
<rect x="104.4" y="1894.6" width="197.1" height="196.5" fill="none" stroke="#333" stroke-width="1"/>
<polygon points="104.9,2091.1 104.9,2087.21 105.65,2086.04 106.4,2086.41 107.15,2086.55 107.9,2086.17 108.65,2086.53 109.4,2087.45 110.15,2085.89 110.9,2085.94 111.65,2085.51 112.4,2085.46 113.15,2085.25 113.9,2085.71 114.65,2086.17 115.4,2080.02 116.15,2086.14 116.9,2085.47 117.65,2085.78 118.4,2086.6 119.15,2083.98 119.9,2083.31 120.65,2086.65 121.4,2085.59 122.15,2082.7 122.9,2081.63 123.65,2084.78 124.4,2082.39 125.15,2083.4 125.9,2081.6 126.65,2083.5 127.4,2082.88 128.15,2082.79 128.9,2082.86 129.65,2083.41 130.4,2081.19 131.15,2079.44 131.9,2082.4 132.65,2081.46 133.4,2081.31 134.15,2080.59 134.9,2080.66 135.65,2080.35 136.4,2079.24 137.15,2079.73 137.9,2080.3 138.65,2074.04 139.4,2067.68 140.15,2078.24 140.9,2072.78 141.65,2077.08 142.4,2077.5 143.15,2075.39 143.9,2076.55 144.65,2077.72 145.4,2075.57 146.15,2069.88 146.9,2069.69 147.65,2075.04 148.4,2066.2 149.15,2071.35 149.9,2071.87 150.65,2071.55 151.4,2070.72 152.15,2066.77 152.9,2069.93 153.65,2068.37 154.4,2060.03 155.15,2066.47 155.9,2068.86 156.65,2068.11 157.4,2066.97 158.15,2065.27 158.9,2067.44 159.65,2066.48 160.4,2063.67 161.15,2064.38 161.9,2058.8 162.65,2055.78 163.4,2060.38 164.15,2048.4 164.9,2051.2 165.65,2053.1 166.4,2054.25 167.15,2045.7 167.9,2045.21 168.65,2043.61 169.4,2050.58 170.15,2047.62 170.9,2044 171.65,2041.51 172.4,2037.45 173.15,2038.53 173.9,2027.83 174.65,2034.16 175.4,2030.22 176.15,2024.52 176.9,2028.8 177.65,2022.51 178.4,2012.51 179.15,2019.14 179.9,1999.04 180.65,2003.31 181.4,1992.58 182.15,2008.28 182.9,1991.16 183.65,1995.42 184.4,1995.18 185.15,1992.81 185.9,1998.89 186.65,1993.04 187.4,1981.43 188.15,1982.48 188.9,1984.25 189.65,1975 190.4,1973.44 191.15,1986.39 191.9,1966.23 192.65,1971.84 193.4,1968.71 194.15,1960.66 194.9,1956.26 195.65,1940.1 196.4,1951.38 197.15,1945.62 197.9,1948.69 198.65,1949.7 199.4,1941.75 200.15,1933.3 200.9,1966.27 201.65,1958.47 202.4,1952.41 203.15,1962.78 203.9,1949.37 204.65,1956.37 205.4,1957.56 206.15,1985.18 206.9,1963.04 207.65,1978.62 208.4,1984.1 209.15,1999.36 209.9,2010.09 210.65,2022.45 211.4,2030.06 212.15,2034.77 212.9,2043.76 213.65,2052.24 214.4,2061.82 215.15,2063.95 215.9,2071.42 216.65,2076.85 217.4,2079.63 218.15,2081.66 218.9,2086.21 219.65,2087.84 220.4,2090.26 221.15,2090.56 221.9,2091.1 222.65,2091.1 222.65,2091.1" fill="#f07a80"/>
<clipPath id="cl14"><rect x="210" y="1894.6" width="91.5" height="196.5"/></clipPath>
<polygon points="104.9,2091.1 104.9,2087.21 105.65,2086.04 106.4,2086.41 107.15,2086.55 107.9,2086.17 108.65,2086.53 109.4,2087.45 110.15,2085.89 110.9,2085.94 111.65,2085.51 112.4,2085.46 113.15,2085.25 113.9,2085.71 114.65,2086.17 115.4,2080.02 116.15,2086.14 116.9,2085.47 117.65,2085.78 118.4,2086.6 119.15,2083.98 119.9,2083.31 120.65,2086.65 121.4,2085.59 122.15,2082.7 122.9,2081.63 123.65,2084.78 124.4,2082.39 125.15,2083.4 125.9,2081.6 126.65,2083.5 127.4,2082.88 128.15,2082.79 128.9,2082.86 129.65,2083.41 130.4,2081.19 131.15,2079.44 131.9,2082.4 132.65,2081.46 133.4,2081.31 134.15,2080.59 134.9,2080.66 135.65,2080.35 136.4,2079.24 137.15,2079.73 137.9,2080.3 138.65,2074.04 139.4,2067.68 140.15,2078.24 140.9,2072.78 141.65,2077.08 142.4,2077.5 143.15,2075.39 143.9,2076.55 144.65,2077.72 145.4,2075.57 146.15,2069.88 146.9,2069.69 147.65,2075.04 148.4,2066.2 149.15,2071.35 149.9,2071.87 150.65,2071.55 151.4,2070.72 152.15,2066.77 152.9,2069.93 153.65,2068.37 154.4,2060.03 155.15,2066.47 155.9,2068.86 156.65,2068.11 157.4,2066.97 158.15,2065.27 158.9,2067.44 159.65,2066.48 160.4,2063.67 161.15,2064.38 161.9,2058.8 162.65,2055.78 163.4,2060.38 164.15,2048.4 164.9,2051.2 165.65,2053.1 166.4,2054.25 167.15,2045.7 167.9,2045.21 168.65,2043.61 169.4,2050.58 170.15,2047.62 170.9,2044 171.65,2041.51 172.4,2037.45 173.15,2038.53 173.9,2027.83 174.65,2034.16 175.4,2030.22 176.15,2024.52 176.9,2028.8 177.65,2022.51 178.4,2012.51 179.15,2019.14 179.9,1999.04 180.65,2003.31 181.4,1992.58 182.15,2008.28 182.9,1991.16 183.65,1995.42 184.4,1995.18 185.15,1992.81 185.9,1998.89 186.65,1993.04 187.4,1981.43 188.15,1982.48 188.9,1984.25 189.65,1975 190.4,1973.44 191.15,1986.39 191.9,1966.23 192.65,1971.84 193.4,1968.71 194.15,1960.66 194.9,1956.26 195.65,1940.1 196.4,1951.38 197.15,1945.62 197.9,1948.69 198.65,1949.7 199.4,1941.75 200.15,1933.3 200.9,1966.27 201.65,1958.47 202.4,1952.41 203.15,1962.78 203.9,1949.37 204.65,1956.37 205.4,1957.56 206.15,1985.18 206.9,1963.04 207.65,1978.62 208.4,1984.1 209.15,1999.36 209.9,2010.09 210.65,2022.45 211.4,2030.06 212.15,2034.77 212.9,2043.76 213.65,2052.24 214.4,2061.82 215.15,2063.95 215.9,2071.42 216.65,2076.85 217.4,2079.63 218.15,2081.66 218.9,2086.21 219.65,2087.84 220.4,2090.26 221.15,2090.56 221.9,2091.1 222.65,2091.1 222.65,2091.1" fill="#f43a3e" clip-path="url(#cl14)"/>
<polyline points="104.9,2087.21 105.65,2086.04 106.4,2086.41 107.15,2086.55 107.9,2086.17 108.65,2086.53 109.4,2087.45 110.15,2085.89 110.9,2085.94 111.65,2085.51 112.4,2085.46 113.15,2085.25 113.9,2085.71 114.65,2086.17 115.4,2080.02 116.15,2086.14 116.9,2085.47 117.65,2085.78 118.4,2086.6 119.15,2083.98 119.9,2083.31 120.65,2086.65 121.4,2085.59 122.15,2082.7 122.9,2081.63 123.65,2084.78 124.4,2082.39 125.15,2083.4 125.9,2081.6 126.65,2083.5 127.4,2082.88 128.15,2082.79 128.9,2082.86 129.65,2083.41 130.4,2081.19 131.15,2079.44 131.9,2082.4 132.65,2081.46 133.4,2081.31 134.15,2080.59 134.9,2080.66 135.65,2080.35 136.4,2079.24 137.15,2079.73 137.9,2080.3 138.65,2074.04 139.4,2067.68 140.15,2078.24 140.9,2072.78 141.65,2077.08 142.4,2077.5 143.15,2075.39 143.9,2076.55 144.65,2077.72 145.4,2075.57 146.15,2069.88 146.9,2069.69 147.65,2075.04 148.4,2066.2 149.15,2071.35 149.9,2071.87 150.65,2071.55 151.4,2070.72 152.15,2066.77 152.9,2069.93 153.65,2068.37 154.4,2060.03 155.15,2066.47 155.9,2068.86 156.65,2068.11 157.4,2066.97 158.15,2065.27 158.9,2067.44 159.65,2066.48 160.4,2063.67 161.15,2064.38 161.9,2058.8 162.65,2055.78 163.4,2060.38 164.15,2048.4 164.9,2051.2 165.65,2053.1 166.4,2054.25 167.15,2045.7 167.9,2045.21 168.65,2043.61 169.4,2050.58 170.15,2047.62 170.9,2044 171.65,2041.51 172.4,2037.45 173.15,2038.53 173.9,2027.83 174.65,2034.16 175.4,2030.22 176.15,2024.52 176.9,2028.8 177.65,2022.51 178.4,2012.51 179.15,2019.14 179.9,1999.04 180.65,2003.31 181.4,1992.58 182.15,2008.28 182.9,1991.16 183.65,1995.42 184.4,1995.18 185.15,1992.81 185.9,1998.89 186.65,1993.04 187.4,1981.43 188.15,1982.48 188.9,1984.25 189.65,1975 190.4,1973.44 191.15,1986.39 191.9,1966.23 192.65,1971.84 193.4,1968.71 194.15,1960.66 194.9,1956.26 195.65,1940.1 196.4,1951.38 197.15,1945.62 197.9,1948.69 198.65,1949.7 199.4,1941.75 200.15,1933.3 200.9,1966.27 201.65,1958.47 202.4,1952.41 203.15,1962.78 203.9,1949.37 204.65,1956.37 205.4,1957.56 206.15,1985.18 206.9,1963.04 207.65,1978.62 208.4,1984.1 209.15,1999.36 209.9,2010.09 210.65,2022.45 211.4,2030.06 212.15,2034.77 212.9,2043.76 213.65,2052.24 214.4,2061.82 215.15,2063.95 215.9,2071.42 216.65,2076.85 217.4,2079.63 218.15,2081.66 218.9,2086.21 219.65,2087.84 220.4,2090.26 221.15,2090.56 221.9,2091.1 222.65,2091.1" fill="none" stroke="#ff1c1c" stroke-width="1.15" stroke-linejoin="round"/>
<line x1="210" y1="2091.1" x2="210" y2="2022.45" stroke="#e82020" stroke-width="1"/>
<line x1="105" y1="2091.1" x2="105" y2="1904.99" stroke="#e01818" stroke-width="1.1"/>
<line x1="210" y1="1926.5" x2="294.7" y2="1926.5" stroke="#f42222" stroke-width="1.1"/>
<line x1="210" y1="1921.5" x2="210" y2="1931.5" stroke="#f42222" stroke-width="1.1"/>
<line x1="294.7" y1="1921.5" x2="294.7" y2="1931.5" stroke="#f42222" stroke-width="1.1"/>
<text x="210" y="1914.5" font-size="10.5" fill="#f02828">P2(5.51%)</text>
<line x1="99.4" y1="2091.1" x2="104.4" y2="2091.1" stroke="#333" stroke-width="1"/>
<text x="94.9" y="2091.1" font-size="10.5" transform="rotate(-90 94.9 2091.1)" text-anchor="middle" fill="#222">0</text>
<line x1="101.4" y1="2090.96" x2="104.4" y2="2090.96" stroke="#333" stroke-width="1"/>
<line x1="101.4" y1="2090.81" x2="104.4" y2="2090.81" stroke="#333" stroke-width="1"/>
<line x1="101.4" y1="2090.67" x2="104.4" y2="2090.67" stroke="#333" stroke-width="1"/>
<line x1="101.4" y1="2090.52" x2="104.4" y2="2090.52" stroke="#333" stroke-width="1"/>
<line x1="99.4" y1="2019.1" x2="104.4" y2="2019.1" stroke="#333" stroke-width="1"/>
<text x="94.9" y="2019.1" font-size="10.5" transform="rotate(-90 94.9 2019.1)" text-anchor="middle" fill="#222">100</text>
<line x1="101.4" y1="2018.96" x2="104.4" y2="2018.96" stroke="#333" stroke-width="1"/>
<line x1="101.4" y1="2018.81" x2="104.4" y2="2018.81" stroke="#333" stroke-width="1"/>
<line x1="101.4" y1="2018.67" x2="104.4" y2="2018.67" stroke="#333" stroke-width="1"/>
<line x1="101.4" y1="2018.52" x2="104.4" y2="2018.52" stroke="#333" stroke-width="1"/>
<line x1="99.4" y1="1947.1" x2="104.4" y2="1947.1" stroke="#333" stroke-width="1"/>
<text x="94.9" y="1947.1" font-size="10.5" transform="rotate(-90 94.9 1947.1)" text-anchor="middle" fill="#222">200</text>
<line x1="101.4" y1="1946.96" x2="104.4" y2="1946.96" stroke="#333" stroke-width="1"/>
<line x1="101.4" y1="1946.81" x2="104.4" y2="1946.81" stroke="#333" stroke-width="1"/>
<line x1="101.4" y1="1946.67" x2="104.4" y2="1946.67" stroke="#333" stroke-width="1"/>
<line x1="101.4" y1="1946.52" x2="104.4" y2="1946.52" stroke="#333" stroke-width="1"/>
<text x="82.4" y="1992.85" font-size="10.5" transform="rotate(-90 82.4 1992.85)" text-anchor="middle" fill="#222">Count</text>
<line x1="104.81" y1="2091.1" x2="104.81" y2="2094.1" stroke="#333" stroke-width="1"/>
<line x1="108.43" y1="2091.1" x2="108.43" y2="2094.1" stroke="#333" stroke-width="1"/>
<line x1="111.49" y1="2091.1" x2="111.49" y2="2094.1" stroke="#333" stroke-width="1"/>
<line x1="114.14" y1="2091.1" x2="114.14" y2="2094.1" stroke="#333" stroke-width="1"/>
<line x1="116.48" y1="2091.1" x2="116.48" y2="2094.1" stroke="#333" stroke-width="1"/>
<line x1="118.58" y1="2091.1" x2="118.58" y2="2096.1" stroke="#333" stroke-width="1"/>
<line x1="132.34" y1="2091.1" x2="132.34" y2="2094.1" stroke="#333" stroke-width="1"/>
<line x1="140.4" y1="2091.1" x2="140.4" y2="2094.1" stroke="#333" stroke-width="1"/>
<line x1="146.11" y1="2091.1" x2="146.11" y2="2094.1" stroke="#333" stroke-width="1"/>
<line x1="150.54" y1="2091.1" x2="150.54" y2="2094.1" stroke="#333" stroke-width="1"/>
<line x1="154.16" y1="2091.1" x2="154.16" y2="2094.1" stroke="#333" stroke-width="1"/>
<line x1="157.22" y1="2091.1" x2="157.22" y2="2094.1" stroke="#333" stroke-width="1"/>
<line x1="159.88" y1="2091.1" x2="159.88" y2="2094.1" stroke="#333" stroke-width="1"/>
<line x1="162.21" y1="2091.1" x2="162.21" y2="2094.1" stroke="#333" stroke-width="1"/>
<text x="120.58" y="2109.1" font-size="10.5" fill="#222" text-anchor="middle">10<tspan dy="-4.5" font-size="7">1</tspan></text>
<line x1="164.31" y1="2091.1" x2="164.31" y2="2096.1" stroke="#333" stroke-width="1"/>
<line x1="178.07" y1="2091.1" x2="178.07" y2="2094.1" stroke="#333" stroke-width="1"/>
<line x1="186.13" y1="2091.1" x2="186.13" y2="2094.1" stroke="#333" stroke-width="1"/>
<line x1="191.84" y1="2091.1" x2="191.84" y2="2094.1" stroke="#333" stroke-width="1"/>
<line x1="196.27" y1="2091.1" x2="196.27" y2="2094.1" stroke="#333" stroke-width="1"/>
<line x1="199.89" y1="2091.1" x2="199.89" y2="2094.1" stroke="#333" stroke-width="1"/>
<line x1="202.95" y1="2091.1" x2="202.95" y2="2094.1" stroke="#333" stroke-width="1"/>
<line x1="205.61" y1="2091.1" x2="205.61" y2="2094.1" stroke="#333" stroke-width="1"/>
<line x1="207.95" y1="2091.1" x2="207.95" y2="2094.1" stroke="#333" stroke-width="1"/>
<text x="166.31" y="2109.1" font-size="10.5" fill="#222" text-anchor="middle">10<tspan dy="-4.5" font-size="7">2</tspan></text>
<line x1="210.04" y1="2091.1" x2="210.04" y2="2096.1" stroke="#333" stroke-width="1"/>
<line x1="223.8" y1="2091.1" x2="223.8" y2="2094.1" stroke="#333" stroke-width="1"/>
<line x1="231.86" y1="2091.1" x2="231.86" y2="2094.1" stroke="#333" stroke-width="1"/>
<line x1="237.57" y1="2091.1" x2="237.57" y2="2094.1" stroke="#333" stroke-width="1"/>
<line x1="242" y1="2091.1" x2="242" y2="2094.1" stroke="#333" stroke-width="1"/>
<line x1="245.62" y1="2091.1" x2="245.62" y2="2094.1" stroke="#333" stroke-width="1"/>
<line x1="248.69" y1="2091.1" x2="248.69" y2="2094.1" stroke="#333" stroke-width="1"/>
<line x1="251.34" y1="2091.1" x2="251.34" y2="2094.1" stroke="#333" stroke-width="1"/>
<line x1="253.68" y1="2091.1" x2="253.68" y2="2094.1" stroke="#333" stroke-width="1"/>
<text x="212.04" y="2109.1" font-size="10.5" fill="#222" text-anchor="middle">10<tspan dy="-4.5" font-size="7">3</tspan></text>
<line x1="255.77" y1="2091.1" x2="255.77" y2="2096.1" stroke="#333" stroke-width="1"/>
<line x1="269.54" y1="2091.1" x2="269.54" y2="2094.1" stroke="#333" stroke-width="1"/>
<line x1="277.59" y1="2091.1" x2="277.59" y2="2094.1" stroke="#333" stroke-width="1"/>
<line x1="283.3" y1="2091.1" x2="283.3" y2="2094.1" stroke="#333" stroke-width="1"/>
<line x1="287.73" y1="2091.1" x2="287.73" y2="2094.1" stroke="#333" stroke-width="1"/>
<line x1="291.35" y1="2091.1" x2="291.35" y2="2094.1" stroke="#333" stroke-width="1"/>
<line x1="294.42" y1="2091.1" x2="294.42" y2="2094.1" stroke="#333" stroke-width="1"/>
<line x1="297.07" y1="2091.1" x2="297.07" y2="2094.1" stroke="#333" stroke-width="1"/>
<line x1="299.41" y1="2091.1" x2="299.41" y2="2094.1" stroke="#333" stroke-width="1"/>
<text x="257.77" y="2109.1" font-size="10.5" fill="#222" text-anchor="middle">10<tspan dy="-4.5" font-size="7">4</tspan></text>
<line x1="301.5" y1="2091.1" x2="301.5" y2="2096.1" stroke="#333" stroke-width="1"/>
<text x="303.5" y="2109.1" font-size="10.5" fill="#222" text-anchor="middle">10<tspan dy="-4.5" font-size="7">5</tspan></text>
<text x="202.95" y="2122.1" font-size="10.5" text-anchor="middle" fill="#222">CD206 APC-A</text>
<text x="196.95" y="1889.1" font-size="10" text-anchor="middle" fill="#222">oeNC : P1</text>
<rect x="345.4" y="1894.6" width="196.6" height="196.5" fill="none" stroke="#333" stroke-width="1"/>
<polygon points="345.9,2091.1 345.9,2088.63 346.65,2090.4 347.4,2088.89 348.15,2090.07 348.9,2090.88 349.65,2089.41 350.4,2089.26 351.15,2089.72 351.9,2088.81 352.65,2089.88 353.4,2089.3 354.15,2089.96 354.9,2088.35 355.65,2090.43 356.4,2089.69 357.15,2091.09 357.9,2088.89 358.65,2089.13 359.4,2089.31 360.15,2089.99 360.9,2088.03 361.65,2090.85 362.4,2088.73 363.15,2089.44 363.9,2088.31 364.65,2089.57 365.4,2088.79 366.15,2090.22 366.9,2089.01 367.65,2088.23 368.4,2088.91 369.15,2081.87 369.9,2085.82 370.65,2088.54 371.4,2087.71 372.15,2089.47 372.9,2087.36 373.65,2087.95 374.4,2085.51 375.15,2086.8 375.9,2088.15 376.65,2088.15 377.4,2087.33 378.15,2088.19 378.9,2085.7 379.65,2087.31 380.4,2086.44 381.15,2088.14 381.9,2088.39 382.65,2086.87 383.4,2086.97 384.15,2087.6 384.9,2087.16 385.65,2087.04 386.4,2084.92 387.15,2085.19 387.9,2081.84 388.65,2086.58 389.4,2085.36 390.15,2084.75 390.9,2084.76 391.65,2083.8 392.4,2084.69 393.15,2082.6 393.9,2082.87 394.65,2083.34 395.4,2083.37 396.15,2083.44 396.9,2081.97 397.65,2081.97 398.4,2082.47 399.15,2082.63 399.9,2079.98 400.65,2082.22 401.4,2080.44 402.15,2077.73 402.9,2078.89 403.65,2079.88 404.4,2078.82 405.15,2078.07 405.9,2078.53 406.65,2077.92 407.4,2068.07 408.15,2075.51 408.9,2075.56 409.65,2075.15 410.4,2074.71 411.15,2072.44 411.9,2071.55 412.65,2072.75 413.4,2073.27 414.15,2068.71 414.9,2069.94 415.65,2068.14 416.4,2069.29 417.15,2068.4 417.9,2069.05 418.65,2064.11 419.4,2059.36 420.15,2058.88 420.9,2057.8 421.65,2059.51 422.4,2056.31 423.15,2056.03 423.9,2046.73 424.65,2046.45 425.4,2037.67 426.15,2047.2 426.9,2045.83 427.65,2034.33 428.4,2033.27 429.15,2031.02 429.9,2034.11 430.65,2024.61 431.4,2022.91 432.15,2012.42 432.9,2013.99 433.65,2005.39 434.4,2007.23 435.15,1990.82 435.9,1988.44 436.65,1994.84 437.4,1989.23 438.15,1989.41 438.9,1995.43 439.65,1975.46 440.4,1954.58 441.15,1973.63 441.9,1966.73 442.65,1967.28 443.4,1945.66 444.15,1956.48 444.9,1955.22 445.65,1943.51 446.4,1925.1 447.15,1944.11 447.9,1942.19 448.65,1943.59 449.4,1950.07 450.15,1950.32 450.9,1945.2 451.65,1963.21 452.4,1968.15 453.15,1966.89 453.9,1976.76 454.65,1969.92 455.4,1980.54 456.15,1994.79 456.9,2005.2 457.65,2008.89 458.4,2015.61 459.15,2029.49 459.9,2040.76 460.65,2046.18 461.4,2051.05 462.15,2058.91 462.9,2066.99 463.65,2072.28 464.4,2077.67 465.15,2078.96 465.9,2082.38 466.65,2085.39 467.4,2089.09 468.15,2090.73 468.9,2091.1 469.65,2091.1 470.4,2091.1 471.15,2091.1 471.9,2091.05 472.65,2091.1 473.4,2091.1 473.4,2091.1" fill="#f07a80"/>
<clipPath id="cl15"><rect x="450.7" y="1894.6" width="91.3" height="196.5"/></clipPath>
<polygon points="345.9,2091.1 345.9,2088.63 346.65,2090.4 347.4,2088.89 348.15,2090.07 348.9,2090.88 349.65,2089.41 350.4,2089.26 351.15,2089.72 351.9,2088.81 352.65,2089.88 353.4,2089.3 354.15,2089.96 354.9,2088.35 355.65,2090.43 356.4,2089.69 357.15,2091.09 357.9,2088.89 358.65,2089.13 359.4,2089.31 360.15,2089.99 360.9,2088.03 361.65,2090.85 362.4,2088.73 363.15,2089.44 363.9,2088.31 364.65,2089.57 365.4,2088.79 366.15,2090.22 366.9,2089.01 367.65,2088.23 368.4,2088.91 369.15,2081.87 369.9,2085.82 370.65,2088.54 371.4,2087.71 372.15,2089.47 372.9,2087.36 373.65,2087.95 374.4,2085.51 375.15,2086.8 375.9,2088.15 376.65,2088.15 377.4,2087.33 378.15,2088.19 378.9,2085.7 379.65,2087.31 380.4,2086.44 381.15,2088.14 381.9,2088.39 382.65,2086.87 383.4,2086.97 384.15,2087.6 384.9,2087.16 385.65,2087.04 386.4,2084.92 387.15,2085.19 387.9,2081.84 388.65,2086.58 389.4,2085.36 390.15,2084.75 390.9,2084.76 391.65,2083.8 392.4,2084.69 393.15,2082.6 393.9,2082.87 394.65,2083.34 395.4,2083.37 396.15,2083.44 396.9,2081.97 397.65,2081.97 398.4,2082.47 399.15,2082.63 399.9,2079.98 400.65,2082.22 401.4,2080.44 402.15,2077.73 402.9,2078.89 403.65,2079.88 404.4,2078.82 405.15,2078.07 405.9,2078.53 406.65,2077.92 407.4,2068.07 408.15,2075.51 408.9,2075.56 409.65,2075.15 410.4,2074.71 411.15,2072.44 411.9,2071.55 412.65,2072.75 413.4,2073.27 414.15,2068.71 414.9,2069.94 415.65,2068.14 416.4,2069.29 417.15,2068.4 417.9,2069.05 418.65,2064.11 419.4,2059.36 420.15,2058.88 420.9,2057.8 421.65,2059.51 422.4,2056.31 423.15,2056.03 423.9,2046.73 424.65,2046.45 425.4,2037.67 426.15,2047.2 426.9,2045.83 427.65,2034.33 428.4,2033.27 429.15,2031.02 429.9,2034.11 430.65,2024.61 431.4,2022.91 432.15,2012.42 432.9,2013.99 433.65,2005.39 434.4,2007.23 435.15,1990.82 435.9,1988.44 436.65,1994.84 437.4,1989.23 438.15,1989.41 438.9,1995.43 439.65,1975.46 440.4,1954.58 441.15,1973.63 441.9,1966.73 442.65,1967.28 443.4,1945.66 444.15,1956.48 444.9,1955.22 445.65,1943.51 446.4,1925.1 447.15,1944.11 447.9,1942.19 448.65,1943.59 449.4,1950.07 450.15,1950.32 450.9,1945.2 451.65,1963.21 452.4,1968.15 453.15,1966.89 453.9,1976.76 454.65,1969.92 455.4,1980.54 456.15,1994.79 456.9,2005.2 457.65,2008.89 458.4,2015.61 459.15,2029.49 459.9,2040.76 460.65,2046.18 461.4,2051.05 462.15,2058.91 462.9,2066.99 463.65,2072.28 464.4,2077.67 465.15,2078.96 465.9,2082.38 466.65,2085.39 467.4,2089.09 468.15,2090.73 468.9,2091.1 469.65,2091.1 470.4,2091.1 471.15,2091.1 471.9,2091.05 472.65,2091.1 473.4,2091.1 473.4,2091.1" fill="#f43a3e" clip-path="url(#cl15)"/>
<polyline points="345.9,2088.63 346.65,2090.4 347.4,2088.89 348.15,2090.07 348.9,2090.88 349.65,2089.41 350.4,2089.26 351.15,2089.72 351.9,2088.81 352.65,2089.88 353.4,2089.3 354.15,2089.96 354.9,2088.35 355.65,2090.43 356.4,2089.69 357.15,2091.09 357.9,2088.89 358.65,2089.13 359.4,2089.31 360.15,2089.99 360.9,2088.03 361.65,2090.85 362.4,2088.73 363.15,2089.44 363.9,2088.31 364.65,2089.57 365.4,2088.79 366.15,2090.22 366.9,2089.01 367.65,2088.23 368.4,2088.91 369.15,2081.87 369.9,2085.82 370.65,2088.54 371.4,2087.71 372.15,2089.47 372.9,2087.36 373.65,2087.95 374.4,2085.51 375.15,2086.8 375.9,2088.15 376.65,2088.15 377.4,2087.33 378.15,2088.19 378.9,2085.7 379.65,2087.31 380.4,2086.44 381.15,2088.14 381.9,2088.39 382.65,2086.87 383.4,2086.97 384.15,2087.6 384.9,2087.16 385.65,2087.04 386.4,2084.92 387.15,2085.19 387.9,2081.84 388.65,2086.58 389.4,2085.36 390.15,2084.75 390.9,2084.76 391.65,2083.8 392.4,2084.69 393.15,2082.6 393.9,2082.87 394.65,2083.34 395.4,2083.37 396.15,2083.44 396.9,2081.97 397.65,2081.97 398.4,2082.47 399.15,2082.63 399.9,2079.98 400.65,2082.22 401.4,2080.44 402.15,2077.73 402.9,2078.89 403.65,2079.88 404.4,2078.82 405.15,2078.07 405.9,2078.53 406.65,2077.92 407.4,2068.07 408.15,2075.51 408.9,2075.56 409.65,2075.15 410.4,2074.71 411.15,2072.44 411.9,2071.55 412.65,2072.75 413.4,2073.27 414.15,2068.71 414.9,2069.94 415.65,2068.14 416.4,2069.29 417.15,2068.4 417.9,2069.05 418.65,2064.11 419.4,2059.36 420.15,2058.88 420.9,2057.8 421.65,2059.51 422.4,2056.31 423.15,2056.03 423.9,2046.73 424.65,2046.45 425.4,2037.67 426.15,2047.2 426.9,2045.83 427.65,2034.33 428.4,2033.27 429.15,2031.02 429.9,2034.11 430.65,2024.61 431.4,2022.91 432.15,2012.42 432.9,2013.99 433.65,2005.39 434.4,2007.23 435.15,1990.82 435.9,1988.44 436.65,1994.84 437.4,1989.23 438.15,1989.41 438.9,1995.43 439.65,1975.46 440.4,1954.58 441.15,1973.63 441.9,1966.73 442.65,1967.28 443.4,1945.66 444.15,1956.48 444.9,1955.22 445.65,1943.51 446.4,1925.1 447.15,1944.11 447.9,1942.19 448.65,1943.59 449.4,1950.07 450.15,1950.32 450.9,1945.2 451.65,1963.21 452.4,1968.15 453.15,1966.89 453.9,1976.76 454.65,1969.92 455.4,1980.54 456.15,1994.79 456.9,2005.2 457.65,2008.89 458.4,2015.61 459.15,2029.49 459.9,2040.76 460.65,2046.18 461.4,2051.05 462.15,2058.91 462.9,2066.99 463.65,2072.28 464.4,2077.67 465.15,2078.96 465.9,2082.38 466.65,2085.39 467.4,2089.09 468.15,2090.73 468.9,2091.1 469.65,2091.1 470.4,2091.1 471.15,2091.1 471.9,2091.05 472.65,2091.1 473.4,2091.1" fill="none" stroke="#ff1c1c" stroke-width="1.15" stroke-linejoin="round"/>
<line x1="450.7" y1="2091.1" x2="450.7" y2="1945.2" stroke="#e82020" stroke-width="1"/>
<line x1="346" y1="2091.1" x2="346" y2="1903.14" stroke="#e01818" stroke-width="1.1"/>
<line x1="450.7" y1="1926.5" x2="535.7" y2="1926.5" stroke="#f42222" stroke-width="1.1"/>
<line x1="450.7" y1="1921.5" x2="450.7" y2="1931.5" stroke="#f42222" stroke-width="1.1"/>
<line x1="535.7" y1="1921.5" x2="535.7" y2="1931.5" stroke="#f42222" stroke-width="1.1"/>
<text x="450.7" y="1914.5" font-size="10.5" fill="#f02828">P2(19.71%)</text>
<line x1="340.4" y1="2091.1" x2="345.4" y2="2091.1" stroke="#333" stroke-width="1"/>
<text x="335.9" y="2091.1" font-size="10.5" transform="rotate(-90 335.9 2091.1)" text-anchor="middle" fill="#222">0</text>
<line x1="342.4" y1="2090.99" x2="345.4" y2="2090.99" stroke="#333" stroke-width="1"/>
<line x1="342.4" y1="2090.88" x2="345.4" y2="2090.88" stroke="#333" stroke-width="1"/>
<line x1="342.4" y1="2090.76" x2="345.4" y2="2090.76" stroke="#333" stroke-width="1"/>
<line x1="342.4" y1="2090.65" x2="345.4" y2="2090.65" stroke="#333" stroke-width="1"/>
<line x1="340.4" y1="2034.9" x2="345.4" y2="2034.9" stroke="#333" stroke-width="1"/>
<text x="335.9" y="2034.9" font-size="10.5" transform="rotate(-90 335.9 2034.9)" text-anchor="middle" fill="#222">100</text>
<line x1="342.4" y1="2034.79" x2="345.4" y2="2034.79" stroke="#333" stroke-width="1"/>
<line x1="342.4" y1="2034.68" x2="345.4" y2="2034.68" stroke="#333" stroke-width="1"/>
<line x1="342.4" y1="2034.56" x2="345.4" y2="2034.56" stroke="#333" stroke-width="1"/>
<line x1="342.4" y1="2034.45" x2="345.4" y2="2034.45" stroke="#333" stroke-width="1"/>
<line x1="340.4" y1="1978.7" x2="345.4" y2="1978.7" stroke="#333" stroke-width="1"/>
<text x="335.9" y="1978.7" font-size="10.5" transform="rotate(-90 335.9 1978.7)" text-anchor="middle" fill="#222">200</text>
<line x1="342.4" y1="1978.59" x2="345.4" y2="1978.59" stroke="#333" stroke-width="1"/>
<line x1="342.4" y1="1978.48" x2="345.4" y2="1978.48" stroke="#333" stroke-width="1"/>
<line x1="342.4" y1="1978.36" x2="345.4" y2="1978.36" stroke="#333" stroke-width="1"/>
<line x1="342.4" y1="1978.25" x2="345.4" y2="1978.25" stroke="#333" stroke-width="1"/>
<line x1="340.4" y1="1922.5" x2="345.4" y2="1922.5" stroke="#333" stroke-width="1"/>
<text x="335.9" y="1922.5" font-size="10.5" transform="rotate(-90 335.9 1922.5)" text-anchor="middle" fill="#222">300</text>
<line x1="342.4" y1="1922.39" x2="345.4" y2="1922.39" stroke="#333" stroke-width="1"/>
<line x1="342.4" y1="1922.28" x2="345.4" y2="1922.28" stroke="#333" stroke-width="1"/>
<line x1="342.4" y1="1922.16" x2="345.4" y2="1922.16" stroke="#333" stroke-width="1"/>
<line x1="342.4" y1="1922.05" x2="345.4" y2="1922.05" stroke="#333" stroke-width="1"/>
<text x="323.4" y="1992.85" font-size="10.5" transform="rotate(-90 323.4 1992.85)" text-anchor="middle" fill="#222">Count</text>
<line x1="345.81" y1="2091.1" x2="345.81" y2="2094.1" stroke="#333" stroke-width="1"/>
<line x1="349.42" y1="2091.1" x2="349.42" y2="2094.1" stroke="#333" stroke-width="1"/>
<line x1="352.47" y1="2091.1" x2="352.47" y2="2094.1" stroke="#333" stroke-width="1"/>
<line x1="355.12" y1="2091.1" x2="355.12" y2="2094.1" stroke="#333" stroke-width="1"/>
<line x1="357.45" y1="2091.1" x2="357.45" y2="2094.1" stroke="#333" stroke-width="1"/>
<line x1="359.54" y1="2091.1" x2="359.54" y2="2096.1" stroke="#333" stroke-width="1"/>
<line x1="373.27" y1="2091.1" x2="373.27" y2="2094.1" stroke="#333" stroke-width="1"/>
<line x1="381.3" y1="2091.1" x2="381.3" y2="2094.1" stroke="#333" stroke-width="1"/>
<line x1="387" y1="2091.1" x2="387" y2="2094.1" stroke="#333" stroke-width="1"/>
<line x1="391.42" y1="2091.1" x2="391.42" y2="2094.1" stroke="#333" stroke-width="1"/>
<line x1="395.04" y1="2091.1" x2="395.04" y2="2094.1" stroke="#333" stroke-width="1"/>
<line x1="398.09" y1="2091.1" x2="398.09" y2="2094.1" stroke="#333" stroke-width="1"/>
<line x1="400.73" y1="2091.1" x2="400.73" y2="2094.1" stroke="#333" stroke-width="1"/>
<line x1="403.07" y1="2091.1" x2="403.07" y2="2094.1" stroke="#333" stroke-width="1"/>
<text x="361.54" y="2109.1" font-size="10.5" fill="#222" text-anchor="middle">10<tspan dy="-4.5" font-size="7">1</tspan></text>
<line x1="405.16" y1="2091.1" x2="405.16" y2="2096.1" stroke="#333" stroke-width="1"/>
<line x1="418.89" y1="2091.1" x2="418.89" y2="2094.1" stroke="#333" stroke-width="1"/>
<line x1="426.92" y1="2091.1" x2="426.92" y2="2094.1" stroke="#333" stroke-width="1"/>
<line x1="432.62" y1="2091.1" x2="432.62" y2="2094.1" stroke="#333" stroke-width="1"/>
<line x1="437.04" y1="2091.1" x2="437.04" y2="2094.1" stroke="#333" stroke-width="1"/>
<line x1="440.65" y1="2091.1" x2="440.65" y2="2094.1" stroke="#333" stroke-width="1"/>
<line x1="443.7" y1="2091.1" x2="443.7" y2="2094.1" stroke="#333" stroke-width="1"/>
<line x1="446.35" y1="2091.1" x2="446.35" y2="2094.1" stroke="#333" stroke-width="1"/>
<line x1="448.68" y1="2091.1" x2="448.68" y2="2094.1" stroke="#333" stroke-width="1"/>
<text x="407.16" y="2109.1" font-size="10.5" fill="#222" text-anchor="middle">10<tspan dy="-4.5" font-size="7">2</tspan></text>
<line x1="450.77" y1="2091.1" x2="450.77" y2="2096.1" stroke="#333" stroke-width="1"/>
<line x1="464.5" y1="2091.1" x2="464.5" y2="2094.1" stroke="#333" stroke-width="1"/>
<line x1="472.53" y1="2091.1" x2="472.53" y2="2094.1" stroke="#333" stroke-width="1"/>
<line x1="478.23" y1="2091.1" x2="478.23" y2="2094.1" stroke="#333" stroke-width="1"/>
<line x1="482.65" y1="2091.1" x2="482.65" y2="2094.1" stroke="#333" stroke-width="1"/>
<line x1="486.27" y1="2091.1" x2="486.27" y2="2094.1" stroke="#333" stroke-width="1"/>
<line x1="489.32" y1="2091.1" x2="489.32" y2="2094.1" stroke="#333" stroke-width="1"/>
<line x1="491.96" y1="2091.1" x2="491.96" y2="2094.1" stroke="#333" stroke-width="1"/>
<line x1="494.3" y1="2091.1" x2="494.3" y2="2094.1" stroke="#333" stroke-width="1"/>
<text x="452.77" y="2109.1" font-size="10.5" fill="#222" text-anchor="middle">10<tspan dy="-4.5" font-size="7">3</tspan></text>
<line x1="496.39" y1="2091.1" x2="496.39" y2="2096.1" stroke="#333" stroke-width="1"/>
<line x1="510.12" y1="2091.1" x2="510.12" y2="2094.1" stroke="#333" stroke-width="1"/>
<line x1="518.15" y1="2091.1" x2="518.15" y2="2094.1" stroke="#333" stroke-width="1"/>
<line x1="523.85" y1="2091.1" x2="523.85" y2="2094.1" stroke="#333" stroke-width="1"/>
<line x1="528.27" y1="2091.1" x2="528.27" y2="2094.1" stroke="#333" stroke-width="1"/>
<line x1="531.88" y1="2091.1" x2="531.88" y2="2094.1" stroke="#333" stroke-width="1"/>
<line x1="534.93" y1="2091.1" x2="534.93" y2="2094.1" stroke="#333" stroke-width="1"/>
<line x1="537.58" y1="2091.1" x2="537.58" y2="2094.1" stroke="#333" stroke-width="1"/>
<line x1="539.91" y1="2091.1" x2="539.91" y2="2094.1" stroke="#333" stroke-width="1"/>
<text x="498.39" y="2109.1" font-size="10.5" fill="#222" text-anchor="middle">10<tspan dy="-4.5" font-size="7">4</tspan></text>
<line x1="542" y1="2091.1" x2="542" y2="2096.1" stroke="#333" stroke-width="1"/>
<text x="544" y="2109.1" font-size="10.5" fill="#222" text-anchor="middle">10<tspan dy="-4.5" font-size="7">5</tspan></text>
<text x="443.7" y="2122.1" font-size="10.5" text-anchor="middle" fill="#222">CD206 APC-A</text>
<text x="437.7" y="1889.1" font-size="10" text-anchor="middle" fill="#222">oe-BMAL1 : P1</text>
<rect x="579.2" y="1894.6" width="197.3" height="196.5" fill="none" stroke="#333" stroke-width="1"/>
<polygon points="579.7,2091.1 579.7,2090.52 580.45,2091.1 581.2,2091.1 581.95,2091.1 582.7,2089.61 583.45,2090.25 584.2,2091.1 584.95,2091.1 585.7,2090.54 586.45,2089.99 587.2,2090.35 587.95,2090.46 588.7,2091.1 589.45,2085.77 590.2,2091.08 590.95,2089.58 591.7,2089.97 592.45,2089.81 593.2,2089.78 593.95,2089.33 594.7,2087.94 595.45,2089.74 596.2,2089.34 596.95,2087.45 597.7,2089.61 598.45,2089.13 599.2,2090.07 599.95,2089.41 600.7,2090.91 601.45,2081.31 602.2,2090.23 602.95,2089.29 603.7,2089.67 604.45,2088.8 605.2,2090.38 605.95,2085.28 606.7,2085.82 607.45,2089.12 608.2,2089.13 608.95,2089.38 609.7,2086.12 610.45,2088.65 611.2,2088.83 611.95,2088.87 612.7,2088.7 613.45,2088.47 614.2,2084.64 614.95,2088.81 615.7,2088.25 616.45,2088.9 617.2,2088.49 617.95,2088.35 618.7,2084.45 619.45,2089.76 620.2,2086.9 620.95,2086.91 621.7,2088.59 622.45,2086.57 623.2,2087.95 623.95,2086.53 624.7,2086.13 625.45,2086.22 626.2,2087.16 626.95,2085.91 627.7,2083.15 628.45,2087.28 629.2,2085.04 629.95,2083.58 630.7,2085.94 631.45,2084.73 632.2,2084.08 632.95,2083.68 633.7,2084.61 634.45,2084.1 635.2,2083.54 635.95,2083.4 636.7,2083.22 637.45,2081.35 638.2,2082.57 638.95,2081.13 639.7,2081.96 640.45,2077.36 641.2,2074.24 641.95,2077.6 642.7,2077.76 643.45,2079.87 644.2,2077.85 644.95,2076.01 645.7,2077.25 646.45,2077.09 647.2,2077.18 647.95,2073.1 648.7,2073.59 649.45,2074.01 650.2,2070.12 650.95,2073.03 651.7,2071.76 652.45,2066.91 653.2,2069.02 653.95,2070.15 654.7,2067.64 655.45,2066.8 656.2,2065.55 656.95,2059.76 657.7,2060.21 658.45,2056.54 659.2,2054.87 659.95,2057.48 660.7,2044.53 661.45,2047.49 662.2,2038.99 662.95,2032.14 663.7,2034.58 664.45,2036.41 665.2,2030.15 665.95,2028.71 666.7,2021.21 667.45,2016.32 668.2,2013.67 668.95,2010.78 669.7,2010.75 670.45,2001.45 671.2,1988.98 671.95,1990.39 672.7,1985.37 673.45,1974.95 674.2,1987.48 674.95,1978.35 675.7,1970.27 676.45,1962.13 677.2,1946.31 677.95,1952.04 678.7,1951.67 679.45,1940.98 680.2,1945.18 680.95,1934.29 681.7,1935.9 682.45,1945.57 683.2,1952.18 683.95,1942.08 684.7,1954.08 685.45,1956.65 686.2,1963.73 686.95,1973.32 687.7,1970.27 688.45,1969.32 689.2,1982.58 689.95,1984.67 690.7,1996.55 691.45,2006.57 692.2,2016 692.95,2023.15 693.7,2035.89 694.45,2040.43 695.2,2046.66 695.95,2057.29 696.7,2059.22 697.45,2065.76 698.2,2071.31 698.95,2075.42 699.7,2079.43 700.45,2083.32 701.2,2085.51 701.95,2087.37 702.7,2089.54 703.45,2090.97 704.2,2091.1 704.95,2091.1 705.7,2091.1 706.45,2091.1 707.2,2090.36 707.95,2091.1 708.7,2091.1 708.7,2091.1" fill="#f07a80"/>
<clipPath id="cl16"><rect x="685.7" y="1894.6" width="90.8" height="196.5"/></clipPath>
<polygon points="579.7,2091.1 579.7,2090.52 580.45,2091.1 581.2,2091.1 581.95,2091.1 582.7,2089.61 583.45,2090.25 584.2,2091.1 584.95,2091.1 585.7,2090.54 586.45,2089.99 587.2,2090.35 587.95,2090.46 588.7,2091.1 589.45,2085.77 590.2,2091.08 590.95,2089.58 591.7,2089.97 592.45,2089.81 593.2,2089.78 593.95,2089.33 594.7,2087.94 595.45,2089.74 596.2,2089.34 596.95,2087.45 597.7,2089.61 598.45,2089.13 599.2,2090.07 599.95,2089.41 600.7,2090.91 601.45,2081.31 602.2,2090.23 602.95,2089.29 603.7,2089.67 604.45,2088.8 605.2,2090.38 605.95,2085.28 606.7,2085.82 607.45,2089.12 608.2,2089.13 608.95,2089.38 609.7,2086.12 610.45,2088.65 611.2,2088.83 611.95,2088.87 612.7,2088.7 613.45,2088.47 614.2,2084.64 614.95,2088.81 615.7,2088.25 616.45,2088.9 617.2,2088.49 617.95,2088.35 618.7,2084.45 619.45,2089.76 620.2,2086.9 620.95,2086.91 621.7,2088.59 622.45,2086.57 623.2,2087.95 623.95,2086.53 624.7,2086.13 625.45,2086.22 626.2,2087.16 626.95,2085.91 627.7,2083.15 628.45,2087.28 629.2,2085.04 629.95,2083.58 630.7,2085.94 631.45,2084.73 632.2,2084.08 632.95,2083.68 633.7,2084.61 634.45,2084.1 635.2,2083.54 635.95,2083.4 636.7,2083.22 637.45,2081.35 638.2,2082.57 638.95,2081.13 639.7,2081.96 640.45,2077.36 641.2,2074.24 641.95,2077.6 642.7,2077.76 643.45,2079.87 644.2,2077.85 644.95,2076.01 645.7,2077.25 646.45,2077.09 647.2,2077.18 647.95,2073.1 648.7,2073.59 649.45,2074.01 650.2,2070.12 650.95,2073.03 651.7,2071.76 652.45,2066.91 653.2,2069.02 653.95,2070.15 654.7,2067.64 655.45,2066.8 656.2,2065.55 656.95,2059.76 657.7,2060.21 658.45,2056.54 659.2,2054.87 659.95,2057.48 660.7,2044.53 661.45,2047.49 662.2,2038.99 662.95,2032.14 663.7,2034.58 664.45,2036.41 665.2,2030.15 665.95,2028.71 666.7,2021.21 667.45,2016.32 668.2,2013.67 668.95,2010.78 669.7,2010.75 670.45,2001.45 671.2,1988.98 671.95,1990.39 672.7,1985.37 673.45,1974.95 674.2,1987.48 674.95,1978.35 675.7,1970.27 676.45,1962.13 677.2,1946.31 677.95,1952.04 678.7,1951.67 679.45,1940.98 680.2,1945.18 680.95,1934.29 681.7,1935.9 682.45,1945.57 683.2,1952.18 683.95,1942.08 684.7,1954.08 685.45,1956.65 686.2,1963.73 686.95,1973.32 687.7,1970.27 688.45,1969.32 689.2,1982.58 689.95,1984.67 690.7,1996.55 691.45,2006.57 692.2,2016 692.95,2023.15 693.7,2035.89 694.45,2040.43 695.2,2046.66 695.95,2057.29 696.7,2059.22 697.45,2065.76 698.2,2071.31 698.95,2075.42 699.7,2079.43 700.45,2083.32 701.2,2085.51 701.95,2087.37 702.7,2089.54 703.45,2090.97 704.2,2091.1 704.95,2091.1 705.7,2091.1 706.45,2091.1 707.2,2090.36 707.95,2091.1 708.7,2091.1 708.7,2091.1" fill="#f43a3e" clip-path="url(#cl16)"/>
<polyline points="579.7,2090.52 580.45,2091.1 581.2,2091.1 581.95,2091.1 582.7,2089.61 583.45,2090.25 584.2,2091.1 584.95,2091.1 585.7,2090.54 586.45,2089.99 587.2,2090.35 587.95,2090.46 588.7,2091.1 589.45,2085.77 590.2,2091.08 590.95,2089.58 591.7,2089.97 592.45,2089.81 593.2,2089.78 593.95,2089.33 594.7,2087.94 595.45,2089.74 596.2,2089.34 596.95,2087.45 597.7,2089.61 598.45,2089.13 599.2,2090.07 599.95,2089.41 600.7,2090.91 601.45,2081.31 602.2,2090.23 602.95,2089.29 603.7,2089.67 604.45,2088.8 605.2,2090.38 605.95,2085.28 606.7,2085.82 607.45,2089.12 608.2,2089.13 608.95,2089.38 609.7,2086.12 610.45,2088.65 611.2,2088.83 611.95,2088.87 612.7,2088.7 613.45,2088.47 614.2,2084.64 614.95,2088.81 615.7,2088.25 616.45,2088.9 617.2,2088.49 617.95,2088.35 618.7,2084.45 619.45,2089.76 620.2,2086.9 620.95,2086.91 621.7,2088.59 622.45,2086.57 623.2,2087.95 623.95,2086.53 624.7,2086.13 625.45,2086.22 626.2,2087.16 626.95,2085.91 627.7,2083.15 628.45,2087.28 629.2,2085.04 629.95,2083.58 630.7,2085.94 631.45,2084.73 632.2,2084.08 632.95,2083.68 633.7,2084.61 634.45,2084.1 635.2,2083.54 635.95,2083.4 636.7,2083.22 637.45,2081.35 638.2,2082.57 638.95,2081.13 639.7,2081.96 640.45,2077.36 641.2,2074.24 641.95,2077.6 642.7,2077.76 643.45,2079.87 644.2,2077.85 644.95,2076.01 645.7,2077.25 646.45,2077.09 647.2,2077.18 647.95,2073.1 648.7,2073.59 649.45,2074.01 650.2,2070.12 650.95,2073.03 651.7,2071.76 652.45,2066.91 653.2,2069.02 653.95,2070.15 654.7,2067.64 655.45,2066.8 656.2,2065.55 656.95,2059.76 657.7,2060.21 658.45,2056.54 659.2,2054.87 659.95,2057.48 660.7,2044.53 661.45,2047.49 662.2,2038.99 662.95,2032.14 663.7,2034.58 664.45,2036.41 665.2,2030.15 665.95,2028.71 666.7,2021.21 667.45,2016.32 668.2,2013.67 668.95,2010.78 669.7,2010.75 670.45,2001.45 671.2,1988.98 671.95,1990.39 672.7,1985.37 673.45,1974.95 674.2,1987.48 674.95,1978.35 675.7,1970.27 676.45,1962.13 677.2,1946.31 677.95,1952.04 678.7,1951.67 679.45,1940.98 680.2,1945.18 680.95,1934.29 681.7,1935.9 682.45,1945.57 683.2,1952.18 683.95,1942.08 684.7,1954.08 685.45,1956.65 686.2,1963.73 686.95,1973.32 687.7,1970.27 688.45,1969.32 689.2,1982.58 689.95,1984.67 690.7,1996.55 691.45,2006.57 692.2,2016 692.95,2023.15 693.7,2035.89 694.45,2040.43 695.2,2046.66 695.95,2057.29 696.7,2059.22 697.45,2065.76 698.2,2071.31 698.95,2075.42 699.7,2079.43 700.45,2083.32 701.2,2085.51 701.95,2087.37 702.7,2089.54 703.45,2090.97 704.2,2091.1 704.95,2091.1 705.7,2091.1 706.45,2091.1 707.2,2090.36 707.95,2091.1 708.7,2091.1" fill="none" stroke="#ff1c1c" stroke-width="1.15" stroke-linejoin="round"/>
<line x1="685.7" y1="2091.1" x2="685.7" y2="1963.73" stroke="#e82020" stroke-width="1"/>
<line x1="579.8" y1="2091.1" x2="579.8" y2="1902.69" stroke="#e01818" stroke-width="1.1"/>
<line x1="685.7" y1="1926.5" x2="769.8" y2="1926.5" stroke="#f42222" stroke-width="1.1"/>
<line x1="685.7" y1="1921.5" x2="685.7" y2="1931.5" stroke="#f42222" stroke-width="1.1"/>
<line x1="769.8" y1="1921.5" x2="769.8" y2="1931.5" stroke="#f42222" stroke-width="1.1"/>
<text x="685.7" y="1914.5" font-size="10.5" fill="#f02828">P2(19.03%)</text>
<line x1="574.2" y1="2091.1" x2="579.2" y2="2091.1" stroke="#333" stroke-width="1"/>
<text x="569.7" y="2091.1" font-size="10.5" transform="rotate(-90 569.7 2091.1)" text-anchor="middle" fill="#222">0</text>
<line x1="576.2" y1="2090.99" x2="579.2" y2="2090.99" stroke="#333" stroke-width="1"/>
<line x1="576.2" y1="2090.88" x2="579.2" y2="2090.88" stroke="#333" stroke-width="1"/>
<line x1="576.2" y1="2090.77" x2="579.2" y2="2090.77" stroke="#333" stroke-width="1"/>
<line x1="576.2" y1="2090.66" x2="579.2" y2="2090.66" stroke="#333" stroke-width="1"/>
<line x1="574.2" y1="2035.5" x2="579.2" y2="2035.5" stroke="#333" stroke-width="1"/>
<text x="569.7" y="2035.5" font-size="10.5" transform="rotate(-90 569.7 2035.5)" text-anchor="middle" fill="#222">100</text>
<line x1="576.2" y1="2035.39" x2="579.2" y2="2035.39" stroke="#333" stroke-width="1"/>
<line x1="576.2" y1="2035.28" x2="579.2" y2="2035.28" stroke="#333" stroke-width="1"/>
<line x1="576.2" y1="2035.17" x2="579.2" y2="2035.17" stroke="#333" stroke-width="1"/>
<line x1="576.2" y1="2035.06" x2="579.2" y2="2035.06" stroke="#333" stroke-width="1"/>
<line x1="574.2" y1="1979.9" x2="579.2" y2="1979.9" stroke="#333" stroke-width="1"/>
<text x="569.7" y="1979.9" font-size="10.5" transform="rotate(-90 569.7 1979.9)" text-anchor="middle" fill="#222">200</text>
<line x1="576.2" y1="1979.79" x2="579.2" y2="1979.79" stroke="#333" stroke-width="1"/>
<line x1="576.2" y1="1979.68" x2="579.2" y2="1979.68" stroke="#333" stroke-width="1"/>
<line x1="576.2" y1="1979.57" x2="579.2" y2="1979.57" stroke="#333" stroke-width="1"/>
<line x1="576.2" y1="1979.46" x2="579.2" y2="1979.46" stroke="#333" stroke-width="1"/>
<line x1="574.2" y1="1924.3" x2="579.2" y2="1924.3" stroke="#333" stroke-width="1"/>
<text x="569.7" y="1924.3" font-size="10.5" transform="rotate(-90 569.7 1924.3)" text-anchor="middle" fill="#222">300</text>
<line x1="576.2" y1="1924.19" x2="579.2" y2="1924.19" stroke="#333" stroke-width="1"/>
<line x1="576.2" y1="1924.08" x2="579.2" y2="1924.08" stroke="#333" stroke-width="1"/>
<line x1="576.2" y1="1923.97" x2="579.2" y2="1923.97" stroke="#333" stroke-width="1"/>
<line x1="576.2" y1="1923.86" x2="579.2" y2="1923.86" stroke="#333" stroke-width="1"/>
<text x="557.2" y="1992.85" font-size="10.5" transform="rotate(-90 557.2 1992.85)" text-anchor="middle" fill="#222">Count</text>
<line x1="579.61" y1="2091.1" x2="579.61" y2="2094.1" stroke="#333" stroke-width="1"/>
<line x1="583.24" y1="2091.1" x2="583.24" y2="2094.1" stroke="#333" stroke-width="1"/>
<line x1="586.3" y1="2091.1" x2="586.3" y2="2094.1" stroke="#333" stroke-width="1"/>
<line x1="588.95" y1="2091.1" x2="588.95" y2="2094.1" stroke="#333" stroke-width="1"/>
<line x1="591.3" y1="2091.1" x2="591.3" y2="2094.1" stroke="#333" stroke-width="1"/>
<line x1="593.39" y1="2091.1" x2="593.39" y2="2096.1" stroke="#333" stroke-width="1"/>
<line x1="607.17" y1="2091.1" x2="607.17" y2="2094.1" stroke="#333" stroke-width="1"/>
<line x1="615.23" y1="2091.1" x2="615.23" y2="2094.1" stroke="#333" stroke-width="1"/>
<line x1="620.95" y1="2091.1" x2="620.95" y2="2094.1" stroke="#333" stroke-width="1"/>
<line x1="625.39" y1="2091.1" x2="625.39" y2="2094.1" stroke="#333" stroke-width="1"/>
<line x1="629.01" y1="2091.1" x2="629.01" y2="2094.1" stroke="#333" stroke-width="1"/>
<line x1="632.08" y1="2091.1" x2="632.08" y2="2094.1" stroke="#333" stroke-width="1"/>
<line x1="634.73" y1="2091.1" x2="634.73" y2="2094.1" stroke="#333" stroke-width="1"/>
<line x1="637.07" y1="2091.1" x2="637.07" y2="2094.1" stroke="#333" stroke-width="1"/>
<text x="595.39" y="2109.1" font-size="10.5" fill="#222" text-anchor="middle">10<tspan dy="-4.5" font-size="7">1</tspan></text>
<line x1="639.17" y1="2091.1" x2="639.17" y2="2096.1" stroke="#333" stroke-width="1"/>
<line x1="652.95" y1="2091.1" x2="652.95" y2="2094.1" stroke="#333" stroke-width="1"/>
<line x1="661.01" y1="2091.1" x2="661.01" y2="2094.1" stroke="#333" stroke-width="1"/>
<line x1="666.73" y1="2091.1" x2="666.73" y2="2094.1" stroke="#333" stroke-width="1"/>
<line x1="671.17" y1="2091.1" x2="671.17" y2="2094.1" stroke="#333" stroke-width="1"/>
<line x1="674.79" y1="2091.1" x2="674.79" y2="2094.1" stroke="#333" stroke-width="1"/>
<line x1="677.85" y1="2091.1" x2="677.85" y2="2094.1" stroke="#333" stroke-width="1"/>
<line x1="680.51" y1="2091.1" x2="680.51" y2="2094.1" stroke="#333" stroke-width="1"/>
<line x1="682.85" y1="2091.1" x2="682.85" y2="2094.1" stroke="#333" stroke-width="1"/>
<text x="641.17" y="2109.1" font-size="10.5" fill="#222" text-anchor="middle">10<tspan dy="-4.5" font-size="7">2</tspan></text>
<line x1="684.95" y1="2091.1" x2="684.95" y2="2096.1" stroke="#333" stroke-width="1"/>
<line x1="698.73" y1="2091.1" x2="698.73" y2="2094.1" stroke="#333" stroke-width="1"/>
<line x1="706.79" y1="2091.1" x2="706.79" y2="2094.1" stroke="#333" stroke-width="1"/>
<line x1="712.51" y1="2091.1" x2="712.51" y2="2094.1" stroke="#333" stroke-width="1"/>
<line x1="716.94" y1="2091.1" x2="716.94" y2="2094.1" stroke="#333" stroke-width="1"/>
<line x1="720.57" y1="2091.1" x2="720.57" y2="2094.1" stroke="#333" stroke-width="1"/>
<line x1="723.63" y1="2091.1" x2="723.63" y2="2094.1" stroke="#333" stroke-width="1"/>
<line x1="726.29" y1="2091.1" x2="726.29" y2="2094.1" stroke="#333" stroke-width="1"/>
<line x1="728.63" y1="2091.1" x2="728.63" y2="2094.1" stroke="#333" stroke-width="1"/>
<text x="686.95" y="2109.1" font-size="10.5" fill="#222" text-anchor="middle">10<tspan dy="-4.5" font-size="7">3</tspan></text>
<line x1="730.72" y1="2091.1" x2="730.72" y2="2096.1" stroke="#333" stroke-width="1"/>
<line x1="744.5" y1="2091.1" x2="744.5" y2="2094.1" stroke="#333" stroke-width="1"/>
<line x1="752.56" y1="2091.1" x2="752.56" y2="2094.1" stroke="#333" stroke-width="1"/>
<line x1="758.28" y1="2091.1" x2="758.28" y2="2094.1" stroke="#333" stroke-width="1"/>
<line x1="762.72" y1="2091.1" x2="762.72" y2="2094.1" stroke="#333" stroke-width="1"/>
<line x1="766.34" y1="2091.1" x2="766.34" y2="2094.1" stroke="#333" stroke-width="1"/>
<line x1="769.41" y1="2091.1" x2="769.41" y2="2094.1" stroke="#333" stroke-width="1"/>
<line x1="772.06" y1="2091.1" x2="772.06" y2="2094.1" stroke="#333" stroke-width="1"/>
<line x1="774.41" y1="2091.1" x2="774.41" y2="2094.1" stroke="#333" stroke-width="1"/>
<text x="732.72" y="2109.1" font-size="10.5" fill="#222" text-anchor="middle">10<tspan dy="-4.5" font-size="7">4</tspan></text>
<line x1="776.5" y1="2091.1" x2="776.5" y2="2096.1" stroke="#333" stroke-width="1"/>
<text x="778.5" y="2109.1" font-size="10.5" fill="#222" text-anchor="middle">10<tspan dy="-4.5" font-size="7">5</tspan></text>
<text x="677.85" y="2122.1" font-size="10.5" text-anchor="middle" fill="#222">CD206 APC-A</text>
<text x="671.85" y="1889.1" font-size="10" text-anchor="middle" fill="#222">oe-BMAL1+shNC : P1</text>
<rect x="818.5" y="1894.6" width="196.5" height="196.5" fill="none" stroke="#333" stroke-width="1"/>
<polygon points="819,2091.1 819,2088.82 819.75,2089.23 820.5,2089.8 821.25,2090.96 822,2090.15 822.75,2090.15 823.5,2090.1 824.25,2089.14 825,2089.85 825.75,2089.41 826.5,2086.86 827.25,2090.07 828,2088.24 828.75,2089.52 829.5,2090.55 830.25,2090.59 831,2090.65 831.75,2089.84 832.5,2088.82 833.25,2089.36 834,2089.26 834.75,2089.48 835.5,2089.18 836.25,2088.4 837,2088.48 837.75,2088.75 838.5,2089.42 839.25,2089.48 840,2086.27 840.75,2089.4 841.5,2088.8 842.25,2089.71 843,2087.96 843.75,2089.02 844.5,2086.62 845.25,2085.9 846,2089.47 846.75,2088.53 847.5,2087.83 848.25,2088.4 849,2079.08 849.75,2088.07 850.5,2087.68 851.25,2087.14 852,2082.68 852.75,2085.5 853.5,2087.09 854.25,2085.2 855,2084 855.75,2084.7 856.5,2084.01 857.25,2084.67 858,2085.51 858.75,2084.96 859.5,2084.17 860.25,2085.4 861,2085.21 861.75,2083.29 862.5,2083.14 863.25,2079.63 864,2082.12 864.75,2082.64 865.5,2085.32 866.25,2081.99 867,2082.49 867.75,2082.95 868.5,2081.36 869.25,2080.17 870,2078.37 870.75,2078.8 871.5,2071.57 872.25,2078.21 873,2078.12 873.75,2078.78 874.5,2078.83 875.25,2076.27 876,2076.57 876.75,2073.5 877.5,2076.96 878.25,2072.93 879,2072.11 879.75,2072.99 880.5,2069.76 881.25,2070.93 882,2072.08 882.75,2068.79 883.5,2069.59 884.25,2064.46 885,2067.74 885.75,2071.59 886.5,2062.45 887.25,2060.16 888,2062.28 888.75,2050.62 889.5,2055.7 890.25,2049.79 891,2048.67 891.75,2038.53 892.5,2045.25 893.25,2043.72 894,2037.15 894.75,2040.21 895.5,2030.46 896.25,2026.78 897,2026.23 897.75,2017.71 898.5,2016.83 899.25,2015.67 900,2012.59 900.75,2005.38 901.5,2007.14 902.25,2000.54 903,1998.3 903.75,1991.14 904.5,1986.01 905.25,1983.52 906,1989.32 906.75,1982.69 907.5,1973.42 908.25,1969.74 909,1950.01 909.75,1976.37 910.5,1956.34 911.25,1949.28 912,1956.98 912.75,1936.13 913.5,1941.25 914.25,1948.89 915,1956.6 915.75,1950.97 916.5,1944.24 917.25,1955.85 918,1954.6 918.75,1953.95 919.5,1960.1 920.25,1966.61 921,1968.65 921.75,1974.45 922.5,1985.67 923.25,1992.39 924,1988.1 924.75,2008.03 925.5,2024.06 926.25,2023.47 927,2036.53 927.75,2037.77 928.5,2046.14 929.25,2054.3 930,2058.35 930.75,2061.56 931.5,2070.47 932.25,2072.87 933,2078.5 933.75,2081.4 934.5,2083.57 935.25,2087.38 936,2088.7 936.75,2090.63 937.5,2091.1 938.25,2091.1 938.25,2091.1" fill="#f07a80"/>
<clipPath id="cl17"><rect x="923.8" y="1894.6" width="91.2" height="196.5"/></clipPath>
<polygon points="819,2091.1 819,2088.82 819.75,2089.23 820.5,2089.8 821.25,2090.96 822,2090.15 822.75,2090.15 823.5,2090.1 824.25,2089.14 825,2089.85 825.75,2089.41 826.5,2086.86 827.25,2090.07 828,2088.24 828.75,2089.52 829.5,2090.55 830.25,2090.59 831,2090.65 831.75,2089.84 832.5,2088.82 833.25,2089.36 834,2089.26 834.75,2089.48 835.5,2089.18 836.25,2088.4 837,2088.48 837.75,2088.75 838.5,2089.42 839.25,2089.48 840,2086.27 840.75,2089.4 841.5,2088.8 842.25,2089.71 843,2087.96 843.75,2089.02 844.5,2086.62 845.25,2085.9 846,2089.47 846.75,2088.53 847.5,2087.83 848.25,2088.4 849,2079.08 849.75,2088.07 850.5,2087.68 851.25,2087.14 852,2082.68 852.75,2085.5 853.5,2087.09 854.25,2085.2 855,2084 855.75,2084.7 856.5,2084.01 857.25,2084.67 858,2085.51 858.75,2084.96 859.5,2084.17 860.25,2085.4 861,2085.21 861.75,2083.29 862.5,2083.14 863.25,2079.63 864,2082.12 864.75,2082.64 865.5,2085.32 866.25,2081.99 867,2082.49 867.75,2082.95 868.5,2081.36 869.25,2080.17 870,2078.37 870.75,2078.8 871.5,2071.57 872.25,2078.21 873,2078.12 873.75,2078.78 874.5,2078.83 875.25,2076.27 876,2076.57 876.75,2073.5 877.5,2076.96 878.25,2072.93 879,2072.11 879.75,2072.99 880.5,2069.76 881.25,2070.93 882,2072.08 882.75,2068.79 883.5,2069.59 884.25,2064.46 885,2067.74 885.75,2071.59 886.5,2062.45 887.25,2060.16 888,2062.28 888.75,2050.62 889.5,2055.7 890.25,2049.79 891,2048.67 891.75,2038.53 892.5,2045.25 893.25,2043.72 894,2037.15 894.75,2040.21 895.5,2030.46 896.25,2026.78 897,2026.23 897.75,2017.71 898.5,2016.83 899.25,2015.67 900,2012.59 900.75,2005.38 901.5,2007.14 902.25,2000.54 903,1998.3 903.75,1991.14 904.5,1986.01 905.25,1983.52 906,1989.32 906.75,1982.69 907.5,1973.42 908.25,1969.74 909,1950.01 909.75,1976.37 910.5,1956.34 911.25,1949.28 912,1956.98 912.75,1936.13 913.5,1941.25 914.25,1948.89 915,1956.6 915.75,1950.97 916.5,1944.24 917.25,1955.85 918,1954.6 918.75,1953.95 919.5,1960.1 920.25,1966.61 921,1968.65 921.75,1974.45 922.5,1985.67 923.25,1992.39 924,1988.1 924.75,2008.03 925.5,2024.06 926.25,2023.47 927,2036.53 927.75,2037.77 928.5,2046.14 929.25,2054.3 930,2058.35 930.75,2061.56 931.5,2070.47 932.25,2072.87 933,2078.5 933.75,2081.4 934.5,2083.57 935.25,2087.38 936,2088.7 936.75,2090.63 937.5,2091.1 938.25,2091.1 938.25,2091.1" fill="#f43a3e" clip-path="url(#cl17)"/>
<polyline points="819,2088.82 819.75,2089.23 820.5,2089.8 821.25,2090.96 822,2090.15 822.75,2090.15 823.5,2090.1 824.25,2089.14 825,2089.85 825.75,2089.41 826.5,2086.86 827.25,2090.07 828,2088.24 828.75,2089.52 829.5,2090.55 830.25,2090.59 831,2090.65 831.75,2089.84 832.5,2088.82 833.25,2089.36 834,2089.26 834.75,2089.48 835.5,2089.18 836.25,2088.4 837,2088.48 837.75,2088.75 838.5,2089.42 839.25,2089.48 840,2086.27 840.75,2089.4 841.5,2088.8 842.25,2089.71 843,2087.96 843.75,2089.02 844.5,2086.62 845.25,2085.9 846,2089.47 846.75,2088.53 847.5,2087.83 848.25,2088.4 849,2079.08 849.75,2088.07 850.5,2087.68 851.25,2087.14 852,2082.68 852.75,2085.5 853.5,2087.09 854.25,2085.2 855,2084 855.75,2084.7 856.5,2084.01 857.25,2084.67 858,2085.51 858.75,2084.96 859.5,2084.17 860.25,2085.4 861,2085.21 861.75,2083.29 862.5,2083.14 863.25,2079.63 864,2082.12 864.75,2082.64 865.5,2085.32 866.25,2081.99 867,2082.49 867.75,2082.95 868.5,2081.36 869.25,2080.17 870,2078.37 870.75,2078.8 871.5,2071.57 872.25,2078.21 873,2078.12 873.75,2078.78 874.5,2078.83 875.25,2076.27 876,2076.57 876.75,2073.5 877.5,2076.96 878.25,2072.93 879,2072.11 879.75,2072.99 880.5,2069.76 881.25,2070.93 882,2072.08 882.75,2068.79 883.5,2069.59 884.25,2064.46 885,2067.74 885.75,2071.59 886.5,2062.45 887.25,2060.16 888,2062.28 888.75,2050.62 889.5,2055.7 890.25,2049.79 891,2048.67 891.75,2038.53 892.5,2045.25 893.25,2043.72 894,2037.15 894.75,2040.21 895.5,2030.46 896.25,2026.78 897,2026.23 897.75,2017.71 898.5,2016.83 899.25,2015.67 900,2012.59 900.75,2005.38 901.5,2007.14 902.25,2000.54 903,1998.3 903.75,1991.14 904.5,1986.01 905.25,1983.52 906,1989.32 906.75,1982.69 907.5,1973.42 908.25,1969.74 909,1950.01 909.75,1976.37 910.5,1956.34 911.25,1949.28 912,1956.98 912.75,1936.13 913.5,1941.25 914.25,1948.89 915,1956.6 915.75,1950.97 916.5,1944.24 917.25,1955.85 918,1954.6 918.75,1953.95 919.5,1960.1 920.25,1966.61 921,1968.65 921.75,1974.45 922.5,1985.67 923.25,1992.39 924,1988.1 924.75,2008.03 925.5,2024.06 926.25,2023.47 927,2036.53 927.75,2037.77 928.5,2046.14 929.25,2054.3 930,2058.35 930.75,2061.56 931.5,2070.47 932.25,2072.87 933,2078.5 933.75,2081.4 934.5,2083.57 935.25,2087.38 936,2088.7 936.75,2090.63 937.5,2091.1 938.25,2091.1" fill="none" stroke="#ff1c1c" stroke-width="1.15" stroke-linejoin="round"/>
<line x1="923.8" y1="2091.1" x2="923.8" y2="1988.1" stroke="#e82020" stroke-width="1"/>
<line x1="819.1" y1="2091.1" x2="819.1" y2="1904.08" stroke="#e01818" stroke-width="1.1"/>
<line x1="923.8" y1="1926.5" x2="1008" y2="1926.5" stroke="#f42222" stroke-width="1.1"/>
<line x1="923.8" y1="1921.5" x2="923.8" y2="1931.5" stroke="#f42222" stroke-width="1.1"/>
<line x1="1008" y1="1921.5" x2="1008" y2="1931.5" stroke="#f42222" stroke-width="1.1"/>
<text x="923.8" y="1914.5" font-size="10.5" fill="#f02828">P2(8.45%)</text>
<line x1="813.5" y1="2091.1" x2="818.5" y2="2091.1" stroke="#333" stroke-width="1"/>
<text x="809" y="2091.1" font-size="10.5" transform="rotate(-90 809 2091.1)" text-anchor="middle" fill="#222">0</text>
<line x1="815.5" y1="2090.97" x2="818.5" y2="2090.97" stroke="#333" stroke-width="1"/>
<line x1="815.5" y1="2090.84" x2="818.5" y2="2090.84" stroke="#333" stroke-width="1"/>
<line x1="815.5" y1="2090.71" x2="818.5" y2="2090.71" stroke="#333" stroke-width="1"/>
<line x1="815.5" y1="2090.58" x2="818.5" y2="2090.58" stroke="#333" stroke-width="1"/>
<line x1="813.5" y1="2025.7" x2="818.5" y2="2025.7" stroke="#333" stroke-width="1"/>
<text x="809" y="2025.7" font-size="10.5" transform="rotate(-90 809 2025.7)" text-anchor="middle" fill="#222">100</text>
<line x1="815.5" y1="2025.57" x2="818.5" y2="2025.57" stroke="#333" stroke-width="1"/>
<line x1="815.5" y1="2025.44" x2="818.5" y2="2025.44" stroke="#333" stroke-width="1"/>
<line x1="815.5" y1="2025.31" x2="818.5" y2="2025.31" stroke="#333" stroke-width="1"/>
<line x1="815.5" y1="2025.18" x2="818.5" y2="2025.18" stroke="#333" stroke-width="1"/>
<line x1="813.5" y1="1960.3" x2="818.5" y2="1960.3" stroke="#333" stroke-width="1"/>
<text x="809" y="1960.3" font-size="10.5" transform="rotate(-90 809 1960.3)" text-anchor="middle" fill="#222">200</text>
<line x1="815.5" y1="1960.17" x2="818.5" y2="1960.17" stroke="#333" stroke-width="1"/>
<line x1="815.5" y1="1960.04" x2="818.5" y2="1960.04" stroke="#333" stroke-width="1"/>
<line x1="815.5" y1="1959.91" x2="818.5" y2="1959.91" stroke="#333" stroke-width="1"/>
<line x1="815.5" y1="1959.78" x2="818.5" y2="1959.78" stroke="#333" stroke-width="1"/>
<line x1="813.5" y1="1894.9" x2="818.5" y2="1894.9" stroke="#333" stroke-width="1"/>
<text x="809" y="1894.9" font-size="10.5" transform="rotate(-90 809 1894.9)" text-anchor="middle" fill="#222">300</text>
<line x1="815.5" y1="1894.77" x2="818.5" y2="1894.77" stroke="#333" stroke-width="1"/>
<line x1="815.5" y1="1894.64" x2="818.5" y2="1894.64" stroke="#333" stroke-width="1"/>
<text x="796.5" y="1992.85" font-size="10.5" transform="rotate(-90 796.5 1992.85)" text-anchor="middle" fill="#222">Count</text>
<line x1="818.91" y1="2091.1" x2="818.91" y2="2094.1" stroke="#333" stroke-width="1"/>
<line x1="822.52" y1="2091.1" x2="822.52" y2="2094.1" stroke="#333" stroke-width="1"/>
<line x1="825.57" y1="2091.1" x2="825.57" y2="2094.1" stroke="#333" stroke-width="1"/>
<line x1="828.22" y1="2091.1" x2="828.22" y2="2094.1" stroke="#333" stroke-width="1"/>
<line x1="830.55" y1="2091.1" x2="830.55" y2="2094.1" stroke="#333" stroke-width="1"/>
<line x1="832.63" y1="2091.1" x2="832.63" y2="2096.1" stroke="#333" stroke-width="1"/>
<line x1="846.36" y1="2091.1" x2="846.36" y2="2094.1" stroke="#333" stroke-width="1"/>
<line x1="854.39" y1="2091.1" x2="854.39" y2="2094.1" stroke="#333" stroke-width="1"/>
<line x1="860.08" y1="2091.1" x2="860.08" y2="2094.1" stroke="#333" stroke-width="1"/>
<line x1="864.5" y1="2091.1" x2="864.5" y2="2094.1" stroke="#333" stroke-width="1"/>
<line x1="868.11" y1="2091.1" x2="868.11" y2="2094.1" stroke="#333" stroke-width="1"/>
<line x1="871.16" y1="2091.1" x2="871.16" y2="2094.1" stroke="#333" stroke-width="1"/>
<line x1="873.81" y1="2091.1" x2="873.81" y2="2094.1" stroke="#333" stroke-width="1"/>
<line x1="876.14" y1="2091.1" x2="876.14" y2="2094.1" stroke="#333" stroke-width="1"/>
<text x="834.63" y="2109.1" font-size="10.5" fill="#222" text-anchor="middle">10<tspan dy="-4.5" font-size="7">1</tspan></text>
<line x1="878.23" y1="2091.1" x2="878.23" y2="2096.1" stroke="#333" stroke-width="1"/>
<line x1="891.95" y1="2091.1" x2="891.95" y2="2094.1" stroke="#333" stroke-width="1"/>
<line x1="899.98" y1="2091.1" x2="899.98" y2="2094.1" stroke="#333" stroke-width="1"/>
<line x1="905.67" y1="2091.1" x2="905.67" y2="2094.1" stroke="#333" stroke-width="1"/>
<line x1="910.09" y1="2091.1" x2="910.09" y2="2094.1" stroke="#333" stroke-width="1"/>
<line x1="913.7" y1="2091.1" x2="913.7" y2="2094.1" stroke="#333" stroke-width="1"/>
<line x1="916.75" y1="2091.1" x2="916.75" y2="2094.1" stroke="#333" stroke-width="1"/>
<line x1="919.4" y1="2091.1" x2="919.4" y2="2094.1" stroke="#333" stroke-width="1"/>
<line x1="921.73" y1="2091.1" x2="921.73" y2="2094.1" stroke="#333" stroke-width="1"/>
<text x="880.23" y="2109.1" font-size="10.5" fill="#222" text-anchor="middle">10<tspan dy="-4.5" font-size="7">2</tspan></text>
<line x1="923.82" y1="2091.1" x2="923.82" y2="2096.1" stroke="#333" stroke-width="1"/>
<line x1="937.54" y1="2091.1" x2="937.54" y2="2094.1" stroke="#333" stroke-width="1"/>
<line x1="945.57" y1="2091.1" x2="945.57" y2="2094.1" stroke="#333" stroke-width="1"/>
<line x1="951.27" y1="2091.1" x2="951.27" y2="2094.1" stroke="#333" stroke-width="1"/>
<line x1="955.68" y1="2091.1" x2="955.68" y2="2094.1" stroke="#333" stroke-width="1"/>
<line x1="959.29" y1="2091.1" x2="959.29" y2="2094.1" stroke="#333" stroke-width="1"/>
<line x1="962.35" y1="2091.1" x2="962.35" y2="2094.1" stroke="#333" stroke-width="1"/>
<line x1="964.99" y1="2091.1" x2="964.99" y2="2094.1" stroke="#333" stroke-width="1"/>
<line x1="967.32" y1="2091.1" x2="967.32" y2="2094.1" stroke="#333" stroke-width="1"/>
<text x="925.82" y="2109.1" font-size="10.5" fill="#222" text-anchor="middle">10<tspan dy="-4.5" font-size="7">3</tspan></text>
<line x1="969.41" y1="2091.1" x2="969.41" y2="2096.1" stroke="#333" stroke-width="1"/>
<line x1="983.13" y1="2091.1" x2="983.13" y2="2094.1" stroke="#333" stroke-width="1"/>
<line x1="991.16" y1="2091.1" x2="991.16" y2="2094.1" stroke="#333" stroke-width="1"/>
<line x1="996.86" y1="2091.1" x2="996.86" y2="2094.1" stroke="#333" stroke-width="1"/>
<line x1="1001.28" y1="2091.1" x2="1001.28" y2="2094.1" stroke="#333" stroke-width="1"/>
<line x1="1004.89" y1="2091.1" x2="1004.89" y2="2094.1" stroke="#333" stroke-width="1"/>
<line x1="1007.94" y1="2091.1" x2="1007.94" y2="2094.1" stroke="#333" stroke-width="1"/>
<line x1="1010.58" y1="2091.1" x2="1010.58" y2="2094.1" stroke="#333" stroke-width="1"/>
<line x1="1012.91" y1="2091.1" x2="1012.91" y2="2094.1" stroke="#333" stroke-width="1"/>
<text x="971.41" y="2109.1" font-size="10.5" fill="#222" text-anchor="middle">10<tspan dy="-4.5" font-size="7">4</tspan></text>
<line x1="1015" y1="2091.1" x2="1015" y2="2096.1" stroke="#333" stroke-width="1"/>
<text x="1017" y="2109.1" font-size="10.5" fill="#222" text-anchor="middle">10<tspan dy="-4.5" font-size="7">5</tspan></text>
<text x="916.75" y="2122.1" font-size="10.5" text-anchor="middle" fill="#222">CD206 APC-A</text>
<text x="910.75" y="1889.1" font-size="10" text-anchor="middle" fill="#222">oe-BMAL1+shSIRT1 : P1</text>
<rect x="1054.2" y="1894.6" width="197.3" height="196.5" fill="none" stroke="#333" stroke-width="1"/>
<polygon points="1054.7,2091.1 1054.7,2089.99 1055.45,2087.16 1056.2,2089.6 1056.95,2082.79 1057.7,2088.57 1058.45,2089.11 1059.2,2089.33 1059.95,2089.86 1060.7,2089.36 1061.45,2088.85 1062.2,2089.91 1062.95,2083.63 1063.7,2086.06 1064.45,2089.43 1065.2,2090.44 1065.95,2087.96 1066.7,2088.38 1067.45,2088.96 1068.2,2087.99 1068.95,2088.39 1069.7,2089.48 1070.45,2087.73 1071.2,2088.61 1071.95,2089.53 1072.7,2087.62 1073.45,2088.18 1074.2,2087.93 1074.95,2089.32 1075.7,2088.72 1076.45,2088.73 1077.2,2088.59 1077.95,2089.95 1078.7,2088.72 1079.45,2086.24 1080.2,2087.48 1080.95,2088.37 1081.7,2085.88 1082.45,2087.95 1083.2,2085.55 1083.95,2086.96 1084.7,2086.44 1085.45,2085.2 1086.2,2085.12 1086.95,2085.38 1087.7,2086.4 1088.45,2085.23 1089.2,2085.69 1089.95,2084.31 1090.7,2086.03 1091.45,2084.14 1092.2,2087.11 1092.95,2084.03 1093.7,2082.99 1094.45,2082.59 1095.2,2081.77 1095.95,2083.56 1096.7,2084.3 1097.45,2083.62 1098.2,2081.88 1098.95,2083.12 1099.7,2082.6 1100.45,2082.77 1101.2,2083.11 1101.95,2079.46 1102.7,2081.76 1103.45,2079.63 1104.2,2076.24 1104.95,2079.72 1105.7,2078.74 1106.45,2078.06 1107.2,2077.7 1107.95,2079.46 1108.7,2077.01 1109.45,2072.76 1110.2,2073.6 1110.95,2074.12 1111.7,2074.85 1112.45,2072.52 1113.2,2073.73 1113.95,2075.46 1114.7,2070.49 1115.45,2073.34 1116.2,2073.99 1116.95,2068.7 1117.7,2068.74 1118.45,2069.05 1119.2,2069.25 1119.95,2068.21 1120.7,2064.31 1121.45,2063.01 1122.2,2059.36 1122.95,2061.61 1123.7,2058.15 1124.45,2051.15 1125.2,2054.29 1125.95,2051.79 1126.7,2049.1 1127.45,2050.81 1128.2,2035.34 1128.95,2040.07 1129.7,2045.86 1130.45,2032.29 1131.2,2035.52 1131.95,2035.78 1132.7,2026.77 1133.45,2024.8 1134.2,2013.8 1134.95,2019.49 1135.7,2012.11 1136.45,2017.88 1137.2,2004.51 1137.95,2011.92 1138.7,1997.07 1139.45,1997.48 1140.2,1993.78 1140.95,1982.91 1141.7,1975.59 1142.45,1972.62 1143.2,1969.44 1143.95,1977.49 1144.7,1959.49 1145.45,1971.61 1146.2,1966.76 1146.95,1962.78 1147.7,1960.87 1148.45,1938.49 1149.2,1956.86 1149.95,1942.22 1150.7,1958.78 1151.45,1938.26 1152.2,1953.35 1152.95,1959.08 1153.7,1957.65 1154.45,1942.41 1155.2,1959.26 1155.95,1963.57 1156.7,1967.55 1157.45,1971.09 1158.2,1973.95 1158.95,1971.13 1159.7,1977.11 1160.45,1994.69 1161.2,2004.88 1161.95,2020.81 1162.7,2025.75 1163.45,2031.12 1164.2,2035.91 1164.95,2050.19 1165.7,2055.36 1166.45,2060.3 1167.2,2066.45 1167.95,2072.85 1168.7,2078.01 1169.45,2080.94 1170.2,2083.1 1170.95,2086.62 1171.7,2089.06 1172.45,2091.1 1173.2,2090.13 1173.95,2091.1 1174.7,2091.1 1174.7,2091.1" fill="#f07a80"/>
<clipPath id="cl18"><rect x="1159.5" y="1894.6" width="92" height="196.5"/></clipPath>
<polygon points="1054.7,2091.1 1054.7,2089.99 1055.45,2087.16 1056.2,2089.6 1056.95,2082.79 1057.7,2088.57 1058.45,2089.11 1059.2,2089.33 1059.95,2089.86 1060.7,2089.36 1061.45,2088.85 1062.2,2089.91 1062.95,2083.63 1063.7,2086.06 1064.45,2089.43 1065.2,2090.44 1065.95,2087.96 1066.7,2088.38 1067.45,2088.96 1068.2,2087.99 1068.95,2088.39 1069.7,2089.48 1070.45,2087.73 1071.2,2088.61 1071.95,2089.53 1072.7,2087.62 1073.45,2088.18 1074.2,2087.93 1074.95,2089.32 1075.7,2088.72 1076.45,2088.73 1077.2,2088.59 1077.95,2089.95 1078.7,2088.72 1079.45,2086.24 1080.2,2087.48 1080.95,2088.37 1081.7,2085.88 1082.45,2087.95 1083.2,2085.55 1083.95,2086.96 1084.7,2086.44 1085.45,2085.2 1086.2,2085.12 1086.95,2085.38 1087.7,2086.4 1088.45,2085.23 1089.2,2085.69 1089.95,2084.31 1090.7,2086.03 1091.45,2084.14 1092.2,2087.11 1092.95,2084.03 1093.7,2082.99 1094.45,2082.59 1095.2,2081.77 1095.95,2083.56 1096.7,2084.3 1097.45,2083.62 1098.2,2081.88 1098.95,2083.12 1099.7,2082.6 1100.45,2082.77 1101.2,2083.11 1101.95,2079.46 1102.7,2081.76 1103.45,2079.63 1104.2,2076.24 1104.95,2079.72 1105.7,2078.74 1106.45,2078.06 1107.2,2077.7 1107.95,2079.46 1108.7,2077.01 1109.45,2072.76 1110.2,2073.6 1110.95,2074.12 1111.7,2074.85 1112.45,2072.52 1113.2,2073.73 1113.95,2075.46 1114.7,2070.49 1115.45,2073.34 1116.2,2073.99 1116.95,2068.7 1117.7,2068.74 1118.45,2069.05 1119.2,2069.25 1119.95,2068.21 1120.7,2064.31 1121.45,2063.01 1122.2,2059.36 1122.95,2061.61 1123.7,2058.15 1124.45,2051.15 1125.2,2054.29 1125.95,2051.79 1126.7,2049.1 1127.45,2050.81 1128.2,2035.34 1128.95,2040.07 1129.7,2045.86 1130.45,2032.29 1131.2,2035.52 1131.95,2035.78 1132.7,2026.77 1133.45,2024.8 1134.2,2013.8 1134.95,2019.49 1135.7,2012.11 1136.45,2017.88 1137.2,2004.51 1137.95,2011.92 1138.7,1997.07 1139.45,1997.48 1140.2,1993.78 1140.95,1982.91 1141.7,1975.59 1142.45,1972.62 1143.2,1969.44 1143.95,1977.49 1144.7,1959.49 1145.45,1971.61 1146.2,1966.76 1146.95,1962.78 1147.7,1960.87 1148.45,1938.49 1149.2,1956.86 1149.95,1942.22 1150.7,1958.78 1151.45,1938.26 1152.2,1953.35 1152.95,1959.08 1153.7,1957.65 1154.45,1942.41 1155.2,1959.26 1155.95,1963.57 1156.7,1967.55 1157.45,1971.09 1158.2,1973.95 1158.95,1971.13 1159.7,1977.11 1160.45,1994.69 1161.2,2004.88 1161.95,2020.81 1162.7,2025.75 1163.45,2031.12 1164.2,2035.91 1164.95,2050.19 1165.7,2055.36 1166.45,2060.3 1167.2,2066.45 1167.95,2072.85 1168.7,2078.01 1169.45,2080.94 1170.2,2083.1 1170.95,2086.62 1171.7,2089.06 1172.45,2091.1 1173.2,2090.13 1173.95,2091.1 1174.7,2091.1 1174.7,2091.1" fill="#f43a3e" clip-path="url(#cl18)"/>
<polyline points="1054.7,2089.99 1055.45,2087.16 1056.2,2089.6 1056.95,2082.79 1057.7,2088.57 1058.45,2089.11 1059.2,2089.33 1059.95,2089.86 1060.7,2089.36 1061.45,2088.85 1062.2,2089.91 1062.95,2083.63 1063.7,2086.06 1064.45,2089.43 1065.2,2090.44 1065.95,2087.96 1066.7,2088.38 1067.45,2088.96 1068.2,2087.99 1068.95,2088.39 1069.7,2089.48 1070.45,2087.73 1071.2,2088.61 1071.95,2089.53 1072.7,2087.62 1073.45,2088.18 1074.2,2087.93 1074.95,2089.32 1075.7,2088.72 1076.45,2088.73 1077.2,2088.59 1077.95,2089.95 1078.7,2088.72 1079.45,2086.24 1080.2,2087.48 1080.95,2088.37 1081.7,2085.88 1082.45,2087.95 1083.2,2085.55 1083.95,2086.96 1084.7,2086.44 1085.45,2085.2 1086.2,2085.12 1086.95,2085.38 1087.7,2086.4 1088.45,2085.23 1089.2,2085.69 1089.95,2084.31 1090.7,2086.03 1091.45,2084.14 1092.2,2087.11 1092.95,2084.03 1093.7,2082.99 1094.45,2082.59 1095.2,2081.77 1095.95,2083.56 1096.7,2084.3 1097.45,2083.62 1098.2,2081.88 1098.95,2083.12 1099.7,2082.6 1100.45,2082.77 1101.2,2083.11 1101.95,2079.46 1102.7,2081.76 1103.45,2079.63 1104.2,2076.24 1104.95,2079.72 1105.7,2078.74 1106.45,2078.06 1107.2,2077.7 1107.95,2079.46 1108.7,2077.01 1109.45,2072.76 1110.2,2073.6 1110.95,2074.12 1111.7,2074.85 1112.45,2072.52 1113.2,2073.73 1113.95,2075.46 1114.7,2070.49 1115.45,2073.34 1116.2,2073.99 1116.95,2068.7 1117.7,2068.74 1118.45,2069.05 1119.2,2069.25 1119.95,2068.21 1120.7,2064.31 1121.45,2063.01 1122.2,2059.36 1122.95,2061.61 1123.7,2058.15 1124.45,2051.15 1125.2,2054.29 1125.95,2051.79 1126.7,2049.1 1127.45,2050.81 1128.2,2035.34 1128.95,2040.07 1129.7,2045.86 1130.45,2032.29 1131.2,2035.52 1131.95,2035.78 1132.7,2026.77 1133.45,2024.8 1134.2,2013.8 1134.95,2019.49 1135.7,2012.11 1136.45,2017.88 1137.2,2004.51 1137.95,2011.92 1138.7,1997.07 1139.45,1997.48 1140.2,1993.78 1140.95,1982.91 1141.7,1975.59 1142.45,1972.62 1143.2,1969.44 1143.95,1977.49 1144.7,1959.49 1145.45,1971.61 1146.2,1966.76 1146.95,1962.78 1147.7,1960.87 1148.45,1938.49 1149.2,1956.86 1149.95,1942.22 1150.7,1958.78 1151.45,1938.26 1152.2,1953.35 1152.95,1959.08 1153.7,1957.65 1154.45,1942.41 1155.2,1959.26 1155.95,1963.57 1156.7,1967.55 1157.45,1971.09 1158.2,1973.95 1158.95,1971.13 1159.7,1977.11 1160.45,1994.69 1161.2,2004.88 1161.95,2020.81 1162.7,2025.75 1163.45,2031.12 1164.2,2035.91 1164.95,2050.19 1165.7,2055.36 1166.45,2060.3 1167.2,2066.45 1167.95,2072.85 1168.7,2078.01 1169.45,2080.94 1170.2,2083.1 1170.95,2086.62 1171.7,2089.06 1172.45,2091.1 1173.2,2090.13 1173.95,2091.1 1174.7,2091.1" fill="none" stroke="#ff1c1c" stroke-width="1.15" stroke-linejoin="round"/>
<line x1="1159.5" y1="2091.1" x2="1159.5" y2="1977.11" stroke="#e82020" stroke-width="1"/>
<line x1="1054.8" y1="2091.1" x2="1054.8" y2="1904.48" stroke="#e01818" stroke-width="1.1"/>
<line x1="1159.5" y1="1926.5" x2="1244.1" y2="1926.5" stroke="#f42222" stroke-width="1.1"/>
<line x1="1159.5" y1="1921.5" x2="1159.5" y2="1931.5" stroke="#f42222" stroke-width="1.1"/>
<line x1="1244.1" y1="1921.5" x2="1244.1" y2="1931.5" stroke="#f42222" stroke-width="1.1"/>
<text x="1159.5" y="1914.5" font-size="10.5" fill="#f02828">P2(9.84%)</text>
<line x1="1049.2" y1="2091.1" x2="1054.2" y2="2091.1" stroke="#333" stroke-width="1"/>
<text x="1044.7" y="2091.1" font-size="10.5" transform="rotate(-90 1044.7 2091.1)" text-anchor="middle" fill="#222">0</text>
<line x1="1051.2" y1="2090.96" x2="1054.2" y2="2090.96" stroke="#333" stroke-width="1"/>
<line x1="1051.2" y1="2090.83" x2="1054.2" y2="2090.83" stroke="#333" stroke-width="1"/>
<line x1="1051.2" y1="2090.69" x2="1054.2" y2="2090.69" stroke="#333" stroke-width="1"/>
<line x1="1051.2" y1="2090.55" x2="1054.2" y2="2090.55" stroke="#333" stroke-width="1"/>
<line x1="1049.2" y1="2022.6" x2="1054.2" y2="2022.6" stroke="#333" stroke-width="1"/>
<text x="1044.7" y="2022.6" font-size="10.5" transform="rotate(-90 1044.7 2022.6)" text-anchor="middle" fill="#222">100</text>
<line x1="1051.2" y1="2022.46" x2="1054.2" y2="2022.46" stroke="#333" stroke-width="1"/>
<line x1="1051.2" y1="2022.33" x2="1054.2" y2="2022.33" stroke="#333" stroke-width="1"/>
<line x1="1051.2" y1="2022.19" x2="1054.2" y2="2022.19" stroke="#333" stroke-width="1"/>
<line x1="1051.2" y1="2022.05" x2="1054.2" y2="2022.05" stroke="#333" stroke-width="1"/>
<line x1="1049.2" y1="1954.1" x2="1054.2" y2="1954.1" stroke="#333" stroke-width="1"/>
<text x="1044.7" y="1954.1" font-size="10.5" transform="rotate(-90 1044.7 1954.1)" text-anchor="middle" fill="#222">200</text>
<line x1="1051.2" y1="1953.96" x2="1054.2" y2="1953.96" stroke="#333" stroke-width="1"/>
<line x1="1051.2" y1="1953.83" x2="1054.2" y2="1953.83" stroke="#333" stroke-width="1"/>
<line x1="1051.2" y1="1953.69" x2="1054.2" y2="1953.69" stroke="#333" stroke-width="1"/>
<line x1="1051.2" y1="1953.55" x2="1054.2" y2="1953.55" stroke="#333" stroke-width="1"/>
<text x="1032.2" y="1992.85" font-size="10.5" transform="rotate(-90 1032.2 1992.85)" text-anchor="middle" fill="#222">Count</text>
<line x1="1054.61" y1="2091.1" x2="1054.61" y2="2094.1" stroke="#333" stroke-width="1"/>
<line x1="1058.24" y1="2091.1" x2="1058.24" y2="2094.1" stroke="#333" stroke-width="1"/>
<line x1="1061.3" y1="2091.1" x2="1061.3" y2="2094.1" stroke="#333" stroke-width="1"/>
<line x1="1063.95" y1="2091.1" x2="1063.95" y2="2094.1" stroke="#333" stroke-width="1"/>
<line x1="1066.3" y1="2091.1" x2="1066.3" y2="2094.1" stroke="#333" stroke-width="1"/>
<line x1="1068.39" y1="2091.1" x2="1068.39" y2="2096.1" stroke="#333" stroke-width="1"/>
<line x1="1082.17" y1="2091.1" x2="1082.17" y2="2094.1" stroke="#333" stroke-width="1"/>
<line x1="1090.23" y1="2091.1" x2="1090.23" y2="2094.1" stroke="#333" stroke-width="1"/>
<line x1="1095.95" y1="2091.1" x2="1095.95" y2="2094.1" stroke="#333" stroke-width="1"/>
<line x1="1100.39" y1="2091.1" x2="1100.39" y2="2094.1" stroke="#333" stroke-width="1"/>
<line x1="1104.01" y1="2091.1" x2="1104.01" y2="2094.1" stroke="#333" stroke-width="1"/>
<line x1="1107.08" y1="2091.1" x2="1107.08" y2="2094.1" stroke="#333" stroke-width="1"/>
<line x1="1109.73" y1="2091.1" x2="1109.73" y2="2094.1" stroke="#333" stroke-width="1"/>
<line x1="1112.07" y1="2091.1" x2="1112.07" y2="2094.1" stroke="#333" stroke-width="1"/>
<text x="1070.39" y="2109.1" font-size="10.5" fill="#222" text-anchor="middle">10<tspan dy="-4.5" font-size="7">1</tspan></text>
<line x1="1114.17" y1="2091.1" x2="1114.17" y2="2096.1" stroke="#333" stroke-width="1"/>
<line x1="1127.95" y1="2091.1" x2="1127.95" y2="2094.1" stroke="#333" stroke-width="1"/>
<line x1="1136.01" y1="2091.1" x2="1136.01" y2="2094.1" stroke="#333" stroke-width="1"/>
<line x1="1141.73" y1="2091.1" x2="1141.73" y2="2094.1" stroke="#333" stroke-width="1"/>
<line x1="1146.17" y1="2091.1" x2="1146.17" y2="2094.1" stroke="#333" stroke-width="1"/>
<line x1="1149.79" y1="2091.1" x2="1149.79" y2="2094.1" stroke="#333" stroke-width="1"/>
<line x1="1152.85" y1="2091.1" x2="1152.85" y2="2094.1" stroke="#333" stroke-width="1"/>
<line x1="1155.51" y1="2091.1" x2="1155.51" y2="2094.1" stroke="#333" stroke-width="1"/>
<line x1="1157.85" y1="2091.1" x2="1157.85" y2="2094.1" stroke="#333" stroke-width="1"/>
<text x="1116.17" y="2109.1" font-size="10.5" fill="#222" text-anchor="middle">10<tspan dy="-4.5" font-size="7">2</tspan></text>
<line x1="1159.95" y1="2091.1" x2="1159.95" y2="2096.1" stroke="#333" stroke-width="1"/>
<line x1="1173.73" y1="2091.1" x2="1173.73" y2="2094.1" stroke="#333" stroke-width="1"/>
<line x1="1181.79" y1="2091.1" x2="1181.79" y2="2094.1" stroke="#333" stroke-width="1"/>
<line x1="1187.51" y1="2091.1" x2="1187.51" y2="2094.1" stroke="#333" stroke-width="1"/>
<line x1="1191.94" y1="2091.1" x2="1191.94" y2="2094.1" stroke="#333" stroke-width="1"/>
<line x1="1195.57" y1="2091.1" x2="1195.57" y2="2094.1" stroke="#333" stroke-width="1"/>
<line x1="1198.63" y1="2091.1" x2="1198.63" y2="2094.1" stroke="#333" stroke-width="1"/>
<line x1="1201.29" y1="2091.1" x2="1201.29" y2="2094.1" stroke="#333" stroke-width="1"/>
<line x1="1203.63" y1="2091.1" x2="1203.63" y2="2094.1" stroke="#333" stroke-width="1"/>
<text x="1161.95" y="2109.1" font-size="10.5" fill="#222" text-anchor="middle">10<tspan dy="-4.5" font-size="7">3</tspan></text>
<line x1="1205.72" y1="2091.1" x2="1205.72" y2="2096.1" stroke="#333" stroke-width="1"/>
<line x1="1219.5" y1="2091.1" x2="1219.5" y2="2094.1" stroke="#333" stroke-width="1"/>
<line x1="1227.56" y1="2091.1" x2="1227.56" y2="2094.1" stroke="#333" stroke-width="1"/>
<line x1="1233.28" y1="2091.1" x2="1233.28" y2="2094.1" stroke="#333" stroke-width="1"/>
<line x1="1237.72" y1="2091.1" x2="1237.72" y2="2094.1" stroke="#333" stroke-width="1"/>
<line x1="1241.34" y1="2091.1" x2="1241.34" y2="2094.1" stroke="#333" stroke-width="1"/>
<line x1="1244.41" y1="2091.1" x2="1244.41" y2="2094.1" stroke="#333" stroke-width="1"/>
<line x1="1247.06" y1="2091.1" x2="1247.06" y2="2094.1" stroke="#333" stroke-width="1"/>
<line x1="1249.41" y1="2091.1" x2="1249.41" y2="2094.1" stroke="#333" stroke-width="1"/>
<text x="1207.72" y="2109.1" font-size="10.5" fill="#222" text-anchor="middle">10<tspan dy="-4.5" font-size="7">4</tspan></text>
<line x1="1251.5" y1="2091.1" x2="1251.5" y2="2096.1" stroke="#333" stroke-width="1"/>
<text x="1253.5" y="2109.1" font-size="10.5" fill="#222" text-anchor="middle">10<tspan dy="-4.5" font-size="7">5</tspan></text>
<text x="1152.85" y="2122.1" font-size="10.5" text-anchor="middle" fill="#222">CD206 APC-A</text>
<text x="1146.85" y="1889.1" font-size="10" text-anchor="middle" fill="#222">oe-BMAL1+shE2F1 : P1</text>
<rect x="204.8" y="2150.35" width="23.8" height="11.7" fill="#2f6b69" stroke="#111" stroke-width="1.2"/>
<text x="242.6" y="2163.04" font-size="19" letter-spacing="0.2">oe-NC</text>
<rect x="204.8" y="2180.15" width="23.8" height="11.7" fill="#4fa8a6" stroke="#111" stroke-width="1.2"/>
<text x="242.6" y="2192.84" font-size="19" letter-spacing="0.2">oe-BMAL1</text>
<rect x="204.8" y="2210.35" width="23.8" height="11.7" fill="#e9c252" stroke="#111" stroke-width="1.2"/>
<text x="242.6" y="2223.04" font-size="19" letter-spacing="0.2">oe-BMAL1+sh-NC</text>
<rect x="359.9" y="2150.35" width="23.8" height="11.7" fill="#fbf1ef" stroke="#111" stroke-width="1.2"/>
<text x="397.7" y="2163.04" font-size="19" letter-spacing="0.2">oe-BMAL1+sh-SIRT1</text>
<rect x="359.9" y="2180.15" width="23.8" height="11.7" fill="#f0aaaa" stroke="#111" stroke-width="1.2"/>
<text x="397.7" y="2192.84" font-size="19" letter-spacing="0.2">oe-BMAL1+sh-E2F1</text>
<rect x="239.1" y="2333.25" width="19" height="128.15" fill="#2f6b69" stroke="#111" stroke-width="1.6"/>
<line x1="248.6" y1="2326.18" x2="248.6" y2="2340.32" stroke="#111" stroke-width="1.6"/>
<line x1="243.1" y1="2326.18" x2="254.1" y2="2326.18" stroke="#111" stroke-width="1.6"/>
<line x1="243.1" y1="2340.32" x2="254.1" y2="2340.32" stroke="#111" stroke-width="1.6"/>
<rect x="269" y="2433.14" width="19" height="28.26" fill="#4fa8a6" stroke="#111" stroke-width="1.6"/>
<line x1="278.5" y1="2428.72" x2="278.5" y2="2437.56" stroke="#111" stroke-width="1.6"/>
<line x1="273" y1="2428.72" x2="284" y2="2428.72" stroke="#111" stroke-width="1.6"/>
<line x1="273" y1="2437.56" x2="284" y2="2437.56" stroke="#111" stroke-width="1.6"/>
<path d="M279.65 2412.32L280.32 2405.57L276.68 2405.57L277.35 2412.32ZM278.85 2413.41L285.48 2411.97L284.36 2408.5L278.15 2411.23ZM277.57 2412.99L280.99 2418.85L283.94 2416.71L279.43 2411.65ZM277.57 2411.65L273.06 2416.71L276.01 2418.85L279.43 2412.99ZM278.85 2411.23L272.64 2408.5L271.52 2411.97L278.15 2413.41Z" fill="#000"/>
<circle cx="278.5" cy="2412.32" r="1.62" fill="#000"/>
<rect x="298.9" y="2430.49" width="19" height="30.91" fill="#e9c252" stroke="#111" stroke-width="1.6"/>
<line x1="308.4" y1="2426.51" x2="308.4" y2="2434.47" stroke="#111" stroke-width="1.6"/>
<line x1="302.9" y1="2426.51" x2="313.9" y2="2426.51" stroke="#111" stroke-width="1.6"/>
<line x1="302.9" y1="2434.47" x2="313.9" y2="2434.47" stroke="#111" stroke-width="1.6"/>
<path d="M309.55 2412.31L310.22 2405.56L306.58 2405.56L307.25 2412.31ZM308.75 2413.4L315.38 2411.96L314.26 2408.49L308.05 2411.22ZM307.47 2412.98L310.89 2418.84L313.84 2416.7L309.33 2411.64ZM307.47 2411.64L302.96 2416.7L305.91 2418.84L309.33 2412.98ZM308.75 2411.22L302.54 2408.49L301.42 2411.96L308.05 2413.4Z" fill="#000"/>
<circle cx="308.4" cy="2412.31" r="1.62" fill="#000"/>
<rect x="329.1" y="2374.8" width="19" height="86.6" fill="#fbf1ef" stroke="#111" stroke-width="1.6"/>
<line x1="338.6" y1="2371.7" x2="338.6" y2="2377.89" stroke="#111" stroke-width="1.6"/>
<line x1="333.1" y1="2371.7" x2="344.1" y2="2371.7" stroke="#111" stroke-width="1.6"/>
<line x1="333.1" y1="2377.89" x2="344.1" y2="2377.89" stroke="#111" stroke-width="1.6"/>
<path d="M337.22 2347.8L333.31 2366.3M343.39 2347.8L339.47 2366.3M331.35 2353.91L345.85 2353.91M331.35 2360.01L345.85 2360.01" stroke="#000" stroke-width="1.9" fill="none"/>
<rect x="359" y="2379.22" width="19" height="82.18" fill="#f0aaaa" stroke="#111" stroke-width="1.6"/>
<line x1="368.5" y1="2375.24" x2="368.5" y2="2383.19" stroke="#111" stroke-width="1.6"/>
<line x1="363" y1="2375.24" x2="374" y2="2375.24" stroke="#111" stroke-width="1.6"/>
<line x1="363" y1="2383.19" x2="374" y2="2383.19" stroke="#111" stroke-width="1.6"/>
<path d="M367.12 2347.84L363.21 2366.34M373.29 2347.84L369.37 2366.34M361.25 2353.94L375.75 2353.94M361.25 2360.05L375.75 2360.05" stroke="#000" stroke-width="1.9" fill="none"/>
<rect x="409.1" y="2420.76" width="19" height="40.64" fill="#2f6b69" stroke="#111" stroke-width="1.6"/>
<line x1="418.6" y1="2412.81" x2="418.6" y2="2428.72" stroke="#111" stroke-width="1.6"/>
<line x1="413.1" y1="2412.81" x2="424.1" y2="2412.81" stroke="#111" stroke-width="1.6"/>
<line x1="413.1" y1="2428.72" x2="424.1" y2="2428.72" stroke="#111" stroke-width="1.6"/>
<rect x="439.7" y="2289.93" width="19" height="171.47" fill="#4fa8a6" stroke="#111" stroke-width="1.6"/>
<line x1="449.2" y1="2285.07" x2="449.2" y2="2294.79" stroke="#111" stroke-width="1.6"/>
<line x1="443.7" y1="2285.07" x2="454.7" y2="2285.07" stroke="#111" stroke-width="1.6"/>
<line x1="443.7" y1="2294.79" x2="454.7" y2="2294.79" stroke="#111" stroke-width="1.6"/>
<path d="M450.35 2270.77L451.02 2264.02L447.38 2264.02L448.05 2270.77ZM449.55 2271.86L456.18 2270.42L455.06 2266.95L448.85 2269.68ZM448.27 2271.44L451.69 2277.3L454.64 2275.16L450.13 2270.1ZM448.27 2270.1L443.76 2275.16L446.71 2277.3L450.13 2271.44ZM449.55 2269.68L443.34 2266.95L442.22 2270.42L448.85 2271.86Z" fill="#000"/>
<circle cx="449.2" cy="2270.77" r="1.62" fill="#000"/>
<rect x="469.3" y="2294.35" width="19" height="167.05" fill="#e9c252" stroke="#111" stroke-width="1.6"/>
<line x1="478.8" y1="2290.37" x2="478.8" y2="2298.33" stroke="#111" stroke-width="1.6"/>
<line x1="473.3" y1="2290.37" x2="484.3" y2="2290.37" stroke="#111" stroke-width="1.6"/>
<line x1="473.3" y1="2298.33" x2="484.3" y2="2298.33" stroke="#111" stroke-width="1.6"/>
<path d="M479.95 2278.67L480.62 2271.92L476.98 2271.92L477.65 2278.67ZM479.15 2279.77L485.78 2278.32L484.66 2274.85L478.45 2277.58ZM477.87 2279.35L481.29 2285.21L484.24 2283.06L479.73 2278ZM477.87 2278L473.36 2283.06L476.31 2285.21L479.73 2279.35ZM479.15 2277.58L472.94 2274.85L471.82 2278.32L478.45 2279.77Z" fill="#000"/>
<circle cx="478.8" cy="2278.67" r="1.62" fill="#000"/>
<rect x="499.5" y="2388.94" width="19" height="72.46" fill="#fbf1ef" stroke="#111" stroke-width="1.6"/>
<line x1="509" y1="2382.75" x2="509" y2="2395.13" stroke="#111" stroke-width="1.6"/>
<line x1="503.5" y1="2382.75" x2="514.5" y2="2382.75" stroke="#111" stroke-width="1.6"/>
<line x1="503.5" y1="2395.13" x2="514.5" y2="2395.13" stroke="#111" stroke-width="1.6"/>
<path d="M507.62 2356.95L503.71 2375.45M513.78 2356.95L509.87 2375.45M501.75 2363.06L516.25 2363.06M501.75 2369.16L516.25 2369.16" stroke="#000" stroke-width="1.9" fill="none"/>
<rect x="529.8" y="2378.33" width="19" height="83.07" fill="#f0aaaa" stroke="#111" stroke-width="1.6"/>
<line x1="539.3" y1="2370.82" x2="539.3" y2="2385.85" stroke="#111" stroke-width="1.6"/>
<line x1="533.8" y1="2370.82" x2="544.8" y2="2370.82" stroke="#111" stroke-width="1.6"/>
<line x1="533.8" y1="2385.85" x2="544.8" y2="2385.85" stroke="#111" stroke-width="1.6"/>
<path d="M537.92 2342.22L534.01 2360.72M544.08 2342.22L540.17 2360.72M532.05 2348.32L546.55 2348.32M532.05 2354.43L546.55 2354.43" stroke="#000" stroke-width="1.9" fill="none"/>
<line x1="228.5" y1="2246.1" x2="228.5" y2="2469.9" stroke="#111" stroke-width="2.8"/>
<line x1="219.5" y1="2468.5" x2="229.9" y2="2468.5" stroke="#111" stroke-width="2.8"/>
<text x="215" y="2475.34" font-size="19" text-anchor="end">0</text>
<line x1="219.5" y1="2424.3" x2="229.9" y2="2424.3" stroke="#111" stroke-width="2.8"/>
<text x="215" y="2431.14" font-size="19" text-anchor="end">5</text>
<line x1="219.5" y1="2380.1" x2="229.9" y2="2380.1" stroke="#111" stroke-width="2.8"/>
<text x="215" y="2386.94" font-size="19" text-anchor="end">10</text>
<line x1="219.5" y1="2335.9" x2="229.9" y2="2335.9" stroke="#111" stroke-width="2.8"/>
<text x="215" y="2342.74" font-size="19" text-anchor="end">15</text>
<line x1="219.5" y1="2291.7" x2="229.9" y2="2291.7" stroke="#111" stroke-width="2.8"/>
<text x="215" y="2298.54" font-size="19" text-anchor="end">20</text>
<line x1="219.5" y1="2247.5" x2="229.9" y2="2247.5" stroke="#111" stroke-width="2.8"/>
<text x="215" y="2254.34" font-size="19" text-anchor="end">25</text>
<line x1="227.1" y1="2461.4" x2="559.7" y2="2461.4" stroke="#111" stroke-width="2.8"/>
<line x1="307.5" y1="2461.4" x2="307.5" y2="2470.4" stroke="#111" stroke-width="2.8"/>
<line x1="478.6" y1="2461.4" x2="478.6" y2="2470.4" stroke="#111" stroke-width="2.8"/>
<text x="307.5" y="2493" font-size="19" text-anchor="middle">CD86</text>
<text x="478.6" y="2493" font-size="19" text-anchor="middle">CD206</text>
<text x="171.5" y="2366" font-size="19" transform="rotate(-90 171.5 2366)" text-anchor="middle">Positive Staining(%)</text>
<text x="669" y="2171" font-size="29" font-weight="bold">F</text>
<text x="861.2" y="2259.5" font-size="19" text-anchor="middle">Input</text>
<text x="961" y="2259.5" font-size="19" text-anchor="middle">IgG</text>
<text x="1053.1" y="2259.5" font-size="19" text-anchor="middle">IP</text>
<text x="792" y="2308.5" font-size="19" text-anchor="end">SIRT1</text>
<text x="788.8" y="2373.5" font-size="19" text-anchor="end">E2F1</text>
<clipPath id="cl19"><rect x="809.5" y="2279.5" width="296.5" height="45.8"/></clipPath>
<g clip-path="url(#cl19)">
<rect x="809.5" y="2279.5" width="296.5" height="45.8" fill="#a8a8a8"/>
<rect x="824" y="2295.6" width="76" height="14" rx="7" fill="#000" opacity="0.12" filter="url(#b3)"/>
<rect x="1013" y="2296" width="78" height="15" rx="7" fill="#000" opacity="0.21" filter="url(#b3)"/>
<rect x="1018" y="2298.5" width="68" height="10" rx="5" fill="#000" opacity="0.1" filter="url(#b3)"/>
<rect x="827" y="2298.1" width="70" height="9" rx="4.5" fill="#000" opacity="0.42" filter="url(#b3)"/>
<rect x="1016" y="2298.5" width="72" height="10" rx="5" fill="#000" opacity="0.75" filter="url(#b3)"/>
<rect x="1021" y="2301" width="62" height="5" rx="2.5" fill="#000" opacity="0.35" filter="url(#b2)"/>
</g>
<rect x="810.8" y="2280.8" width="293.9" height="43.2" fill="none" stroke="#bdbdbd" stroke-width="0.9"/>
<rect x="809.5" y="2279.5" width="296.5" height="45.8" fill="none" stroke="#000" stroke-width="1.6"/>
<clipPath id="cl20"><rect x="809.5" y="2339" width="296.5" height="53.6"/></clipPath>
<g clip-path="url(#cl20)">
<rect x="809.5" y="2339" width="296.5" height="53.6" fill="#8c8c8c"/>
<rect x="818" y="2357.5" width="68" height="17" rx="7" fill="#000" opacity="0.17" filter="url(#b3)"/>
<rect x="1031" y="2359.5" width="66" height="18" rx="7" fill="#000" opacity="0.2" filter="url(#b3)"/>
<rect x="1036" y="2363.5" width="56" height="11" rx="5.5" fill="#000" opacity="0.1" filter="url(#b3)"/>
<rect x="821" y="2360" width="62" height="12" rx="6" fill="#000" opacity="0.6" filter="url(#b3)"/>
<rect x="1034" y="2362" width="60" height="13" rx="6" fill="#000" opacity="0.72" filter="url(#b3)"/>
<rect x="1039" y="2366" width="50" height="6" rx="3" fill="#000" opacity="0.35" filter="url(#b2)"/>
</g>
<rect x="810.8" y="2340.3" width="293.9" height="51" fill="none" stroke="#bdbdbd" stroke-width="0.9"/>
<rect x="809.5" y="2339" width="296.5" height="53.6" fill="none" stroke="#000" stroke-width="1.6"/>
</svg>
</body></html>
